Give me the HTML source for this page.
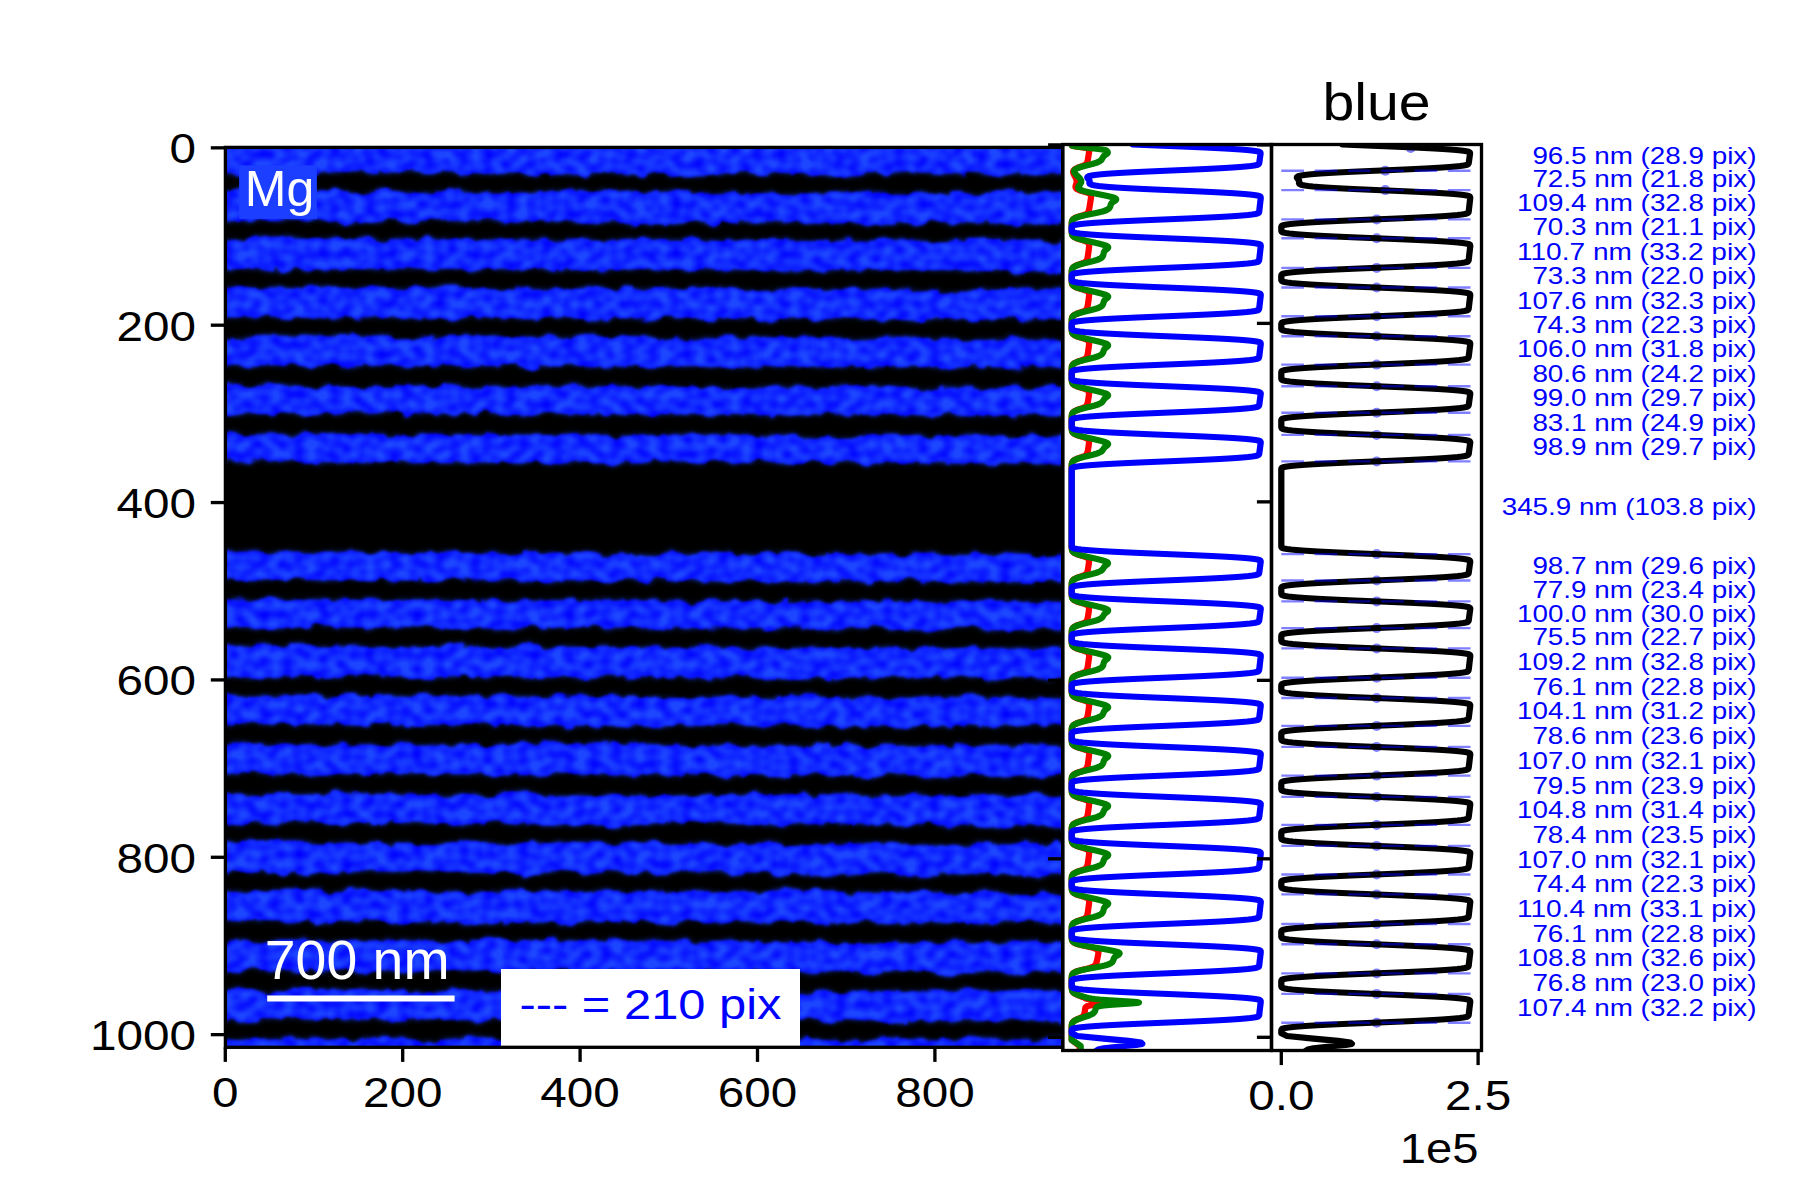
<!DOCTYPE html>
<html><head><meta charset="utf-8"><title>Mg line profile</title>
<style>html,body{margin:0;padding:0;background:#fff;overflow:hidden;width:1800px;height:1200px}svg{display:block}text{font-family:"Liberation Sans",sans-serif}</style></head><body>
<svg width="1800" height="1200" viewBox="0 0 1800 1200">
<rect width="1800" height="1200" fill="#fff"/>
<defs>
<clipPath id="cimg"><rect x="225.4" y="147.4" width="837.3000000000001" height="899.9"/></clipPath>
<clipPath id="cmid"><rect x="1062.7" y="144.5" width="208.79999999999995" height="906.0"/></clipPath>
<clipPath id="crt"><rect x="1271.5" y="144.5" width="210.0" height="906.0"/></clipPath>
<filter id="tex" filterUnits="userSpaceOnUse" x="180" y="120" width="930" height="960" color-interpolation-filters="sRGB">
<feTurbulence type="fractalNoise" baseFrequency="0.05 0.06" numOctaves="3" seed="5" result="d"/>
<feDisplacementMap in="SourceGraphic" in2="d" scale="13" xChannelSelector="R" yChannelSelector="G" result="w"/>
<feGaussianBlur in="w" stdDeviation="0.9" result="wb"/>
<feTurbulence type="fractalNoise" baseFrequency="0.085 0.10" numOctaves="1" seed="12" result="t"/>
<feColorMatrix in="t" type="matrix" values="0 0 0 0 0.115  0 0 0 0 0.28  0 0 0 0 1  1.8 0 0 0 -0.28" result="tl"/>
<feGaussianBlur in="wb" stdDeviation="2.5" result="wb2"/>
<feComposite in="tl" in2="wb2" operator="in" result="hl"/>
<feMerge><feMergeNode in="wb"/><feMergeNode in="hl"/></feMerge>
</filter>
</defs>
<rect x="225.4" y="147.4" width="837.3000000000001" height="899.9" fill="#000"/>
<g clip-path="url(#cimg)"><g filter="url(#tex)" fill="#0000ff">
<polygon points="190,115.5 1100,117.9 1100,174.8 190,172.4"/>
<polygon points="190,190.9 1100,193.3 1100,223.2 190,220.8"/>
<polygon points="190,238.7 1100,241.1 1100,271.3 190,268.9"/>
<polygon points="190,287.7 1100,290.1 1100,319.5 190,317.1"/>
<polygon points="190,336.1 1100,338.5 1100,367.5 190,365.1"/>
<polygon points="190,385.7 1100,388.1 1100,415.3 190,412.9"/>
<polygon points="190,434.2 1100,436.6 1100,463.7 190,461.3"/>
<polygon points="190,552.5 1100,554.9 1100,582.0 190,579.6"/>
<polygon points="190,599.5 1100,601.9 1100,629.3 190,626.9"/>
<polygon points="190,646.3 1100,648.7 1100,678.6 190,676.2"/>
<polygon points="190,695.6 1100,698.0 1100,726.5 190,724.1"/>
<polygon points="190,744.2 1100,746.6 1100,775.8 190,773.4"/>
<polygon points="190,793.8 1100,796.2 1100,824.9 190,822.5"/>
<polygon points="190,842.5 1100,844.9 1100,874.2 190,871.8"/>
<polygon points="190,890.8 1100,893.2 1100,923.3 190,920.9"/>
<polygon points="190,940.3 1100,942.7 1100,972.4 190,970.0"/>
<polygon points="190,989.6 1100,992.0 1100,1021.4 190,1019.0"/>
<rect x="190" y="1039.5" width="910" height="60"/>
</g></g>
<rect x="239.1" y="165.3" width="77.8" height="53.6" fill="#1b3eff"/>
<text x="244.8" y="206.1" font-size="50.00" text-anchor="start" fill="#fff">Mg</text>
<text x="264.8" y="979.0" font-size="55.40" text-anchor="start" fill="#fff">700 nm</text>
<rect x="267.2" y="995.5" width="187.4" height="6" fill="#fff"/>
<rect x="501" y="969" width="299" height="78" fill="#fff"/>
<text x="519.5" y="1019.2" font-size="43.34" text-anchor="start" fill="#0000ff" textLength="262.0" lengthAdjust="spacingAndGlyphs">--- = 210 pix</text>
<rect x="1062.7" y="144.5" width="418.79999999999995" height="906.0" fill="#fff"/>
<g clip-path="url(#cmid)" fill="none" stroke-linejoin="round" stroke-linecap="round" stroke-width="6.25">
<path d="M1071.7,144.5 L1071.7,145.0 L1071.8,145.5 L1073.2,146.0 L1075.7,146.5 L1079.1,147.0 L1082.8,147.5 L1085.9,148.0 L1087.9,148.5 L1088.8,149.0 L1089.2,149.5 L1089.3,150.0 L1089.3,150.5 L1089.2,151.0 L1089.2,151.5 L1089.1,152.0 L1089.0,152.5 L1088.9,153.0 L1088.9,153.5 L1088.8,154.0 L1088.7,154.5 L1088.6,155.0 L1088.5,155.5 L1088.5,156.0 L1088.4,156.5 L1088.3,157.0 L1088.2,157.5 L1088.1,158.0 L1088.1,158.5 L1088.0,159.0 L1087.9,159.5 L1087.8,160.0 L1087.7,160.5 L1087.6,161.0 L1087.4,161.5 L1087.3,162.0 L1087.1,162.5 L1086.8,163.0 L1086.5,163.5 L1086.1,164.0 L1085.6,164.5 L1084.8,165.0 L1083.9,165.5 L1082.7,166.0 L1081.3,166.5 L1079.9,167.0 L1078.5,167.5 L1077.2,168.0 L1076.1,168.5 L1075.2,169.0 L1074.5,169.5 L1074.0,170.0 L1073.6,170.5 L1073.3,171.0 L1073.2,171.5 L1073.2,172.0 L1073.2,172.5 L1073.4,173.0 L1073.5,173.5 L1073.7,174.0 L1074.0,174.5 L1074.2,175.0 L1074.5,175.5 L1074.7,176.0 L1075.0,176.5 L1075.3,177.0 L1075.5,177.5 L1075.8,178.0 L1076.0,178.5 L1076.2,179.0 L1076.4,179.5 L1076.5,180.0 L1076.6,180.5 L1076.7,181.0 L1076.7,181.5 L1076.7,182.0 L1076.6,182.5 L1076.5,183.0 L1076.4,183.5 L1076.3,184.0 L1076.1,184.5 L1075.9,185.0 L1075.7,185.5 L1075.6,186.0 L1075.5,186.5 L1075.5,187.0 L1075.6,187.5 L1075.9,188.0 L1076.3,188.5 L1076.9,189.0 L1077.8,189.5 L1078.9,190.0 L1080.2,190.5 L1081.8,191.0 L1083.6,191.5 L1085.4,192.0 L1087.0,192.5 L1088.4,193.0 L1089.4,193.5 L1090.1,194.0 L1090.6,194.5 L1090.8,195.0 L1091.0,195.5 L1091.0,196.0 L1091.0,196.5 L1091.0,197.0 L1091.0,197.5 L1090.9,198.0 L1090.9,198.5 L1090.8,199.0 L1090.7,199.5 L1090.6,200.0 L1090.6,200.5 L1090.5,201.0 L1090.4,201.5 L1090.3,202.0 L1090.3,202.5 L1090.2,203.0 L1090.1,203.5 L1090.0,204.0 L1089.9,204.5 L1089.9,205.0 L1089.8,205.5 L1089.7,206.0 L1089.6,206.5 L1089.5,207.0 L1089.5,207.5 L1089.4,208.0 L1089.3,208.5 L1089.2,209.0 L1089.1,209.5 L1089.0,210.0 L1088.9,210.5 L1088.7,211.0 L1088.5,211.5 L1088.3,212.0 L1088.0,212.5 L1087.7,213.0 L1087.1,213.5 L1086.4,214.0 L1085.3,214.5 L1084.0,215.0 L1082.4,215.5 L1080.7,216.0 L1079.0,216.5 L1077.5,217.0 L1076.2,217.5 L1075.0,218.0 L1074.2,218.5 L1073.5,219.0 L1072.9,219.5 L1072.5,220.0 L1072.3,220.5 L1072.1,221.0 L1071.9,221.5 L1071.8,222.0 L1071.8,222.5 L1071.8,223.0 L1071.7,223.5 L1071.7,224.0 L1071.7,224.5 L1071.7,225.0 L1071.7,225.5 L1071.7,226.0 L1071.7,226.5 L1071.7,227.0 L1071.7,227.5 L1071.7,228.0 L1071.7,228.5 L1071.7,229.0 L1071.7,229.5 L1071.7,230.0 L1071.7,230.5 L1071.7,231.0 L1071.7,231.5 L1071.7,232.0 L1071.8,232.5 L1071.8,233.0 L1071.9,233.5 L1072.0,234.0 L1072.1,234.5 L1072.3,235.0 L1072.6,235.5 L1073.0,236.0 L1073.5,236.5 L1074.2,237.0 L1075.1,237.5 L1076.1,238.0 L1077.4,238.5 L1078.8,239.0 L1080.4,239.5 L1082.1,240.0 L1083.7,240.5 L1085.2,241.0 L1086.4,241.5 L1087.4,242.0 L1088.0,242.5 L1088.5,243.0 L1088.8,243.5 L1089.0,244.0 L1089.1,244.5 L1089.1,245.0 L1089.1,245.5 L1089.1,246.0 L1089.1,246.5 L1089.1,247.0 L1089.0,247.5 L1088.9,248.0 L1088.9,248.5 L1088.8,249.0 L1088.8,249.5 L1088.7,250.0 L1088.6,250.5 L1088.6,251.0 L1088.5,251.5 L1088.4,252.0 L1088.4,252.5 L1088.3,253.0 L1088.2,253.5 L1088.1,254.0 L1088.1,254.5 L1088.0,255.0 L1087.9,255.5 L1087.8,256.0 L1087.8,256.5 L1087.7,257.0 L1087.6,257.5 L1087.5,258.0 L1087.4,258.5 L1087.2,259.0 L1087.1,259.5 L1086.9,260.0 L1086.6,260.5 L1086.3,261.0 L1085.8,261.5 L1085.2,262.0 L1084.4,262.5 L1083.3,263.0 L1081.9,263.5 L1080.5,264.0 L1079.0,264.5 L1077.6,265.0 L1076.3,265.5 L1075.3,266.0 L1074.4,266.5 L1073.7,267.0 L1073.1,267.5 L1072.7,268.0 L1072.4,268.5 L1072.1,269.0 L1072.0,269.5 L1071.9,270.0 L1071.8,270.5 L1071.8,271.0 L1071.7,271.5 L1071.7,272.0 L1071.7,272.5 L1071.7,273.0 L1071.7,273.5 L1071.7,274.0 L1071.7,274.5 L1071.7,275.0 L1071.7,275.5 L1071.7,276.0 L1071.7,276.5 L1071.7,277.0 L1071.7,277.5 L1071.7,278.0 L1071.7,278.5 L1071.7,279.0 L1071.7,279.5 L1071.7,280.0 L1071.7,280.5 L1071.7,281.0 L1071.7,281.5 L1071.8,282.0 L1071.8,282.5 L1071.9,283.0 L1072.0,283.5 L1072.2,284.0 L1072.4,284.5 L1072.8,285.0 L1073.2,285.5 L1073.8,286.0 L1074.6,286.5 L1075.5,287.0 L1076.7,287.5 L1078.0,288.0 L1079.6,288.5 L1081.2,289.0 L1082.9,289.5 L1084.5,290.0 L1085.8,290.5 L1086.9,291.0 L1087.7,291.5 L1088.3,292.0 L1088.6,292.5 L1088.9,293.0 L1089.0,293.5 L1089.1,294.0 L1089.1,294.5 L1089.1,295.0 L1089.1,295.5 L1089.0,296.0 L1089.0,296.5 L1088.9,297.0 L1088.9,297.5 L1088.8,298.0 L1088.8,298.5 L1088.7,299.0 L1088.6,299.5 L1088.5,300.0 L1088.5,300.5 L1088.4,301.0 L1088.3,301.5 L1088.3,302.0 L1088.2,302.5 L1088.1,303.0 L1088.0,303.5 L1088.0,304.0 L1087.9,304.5 L1087.8,305.0 L1087.7,305.5 L1087.6,306.0 L1087.5,306.5 L1087.4,307.0 L1087.3,307.5 L1087.1,308.0 L1086.9,308.5 L1086.6,309.0 L1086.3,309.5 L1085.8,310.0 L1085.2,310.5 L1084.3,311.0 L1083.2,311.5 L1081.8,312.0 L1080.3,312.5 L1078.9,313.0 L1077.5,313.5 L1076.2,314.0 L1075.2,314.5 L1074.3,315.0 L1073.6,315.5 L1073.1,316.0 L1072.7,316.5 L1072.3,317.0 L1072.1,317.5 L1072.0,318.0 L1071.9,318.5 L1071.8,319.0 L1071.8,319.5 L1071.7,320.0 L1071.7,320.5 L1071.7,321.0 L1071.7,321.5 L1071.7,322.0 L1071.7,322.5 L1071.7,323.0 L1071.7,323.5 L1071.7,324.0 L1071.7,324.5 L1071.7,325.0 L1071.7,325.5 L1071.7,326.0 L1071.7,326.5 L1071.7,327.0 L1071.7,327.5 L1071.7,328.0 L1071.7,328.5 L1071.7,329.0 L1071.7,329.5 L1071.7,330.0 L1071.8,330.5 L1071.8,331.0 L1071.9,331.5 L1072.0,332.0 L1072.1,332.5 L1072.3,333.0 L1072.6,333.5 L1073.0,334.0 L1073.5,334.5 L1074.2,335.0 L1075.1,335.5 L1076.1,336.0 L1077.4,336.5 L1078.9,337.0 L1080.5,337.5 L1082.1,338.0 L1083.8,338.5 L1085.2,339.0 L1086.5,339.5 L1087.4,340.0 L1088.0,340.5 L1088.5,341.0 L1088.8,341.5 L1088.9,342.0 L1089.0,342.5 L1089.1,343.0 L1089.1,343.5 L1089.1,344.0 L1089.0,344.5 L1089.0,345.0 L1088.9,345.5 L1088.9,346.0 L1088.8,346.5 L1088.8,347.0 L1088.7,347.5 L1088.6,348.0 L1088.5,348.5 L1088.5,349.0 L1088.4,349.5 L1088.3,350.0 L1088.3,350.5 L1088.2,351.0 L1088.1,351.5 L1088.0,352.0 L1088.0,352.5 L1087.9,353.0 L1087.8,353.5 L1087.7,354.0 L1087.6,354.5 L1087.5,355.0 L1087.4,355.5 L1087.2,356.0 L1087.0,356.5 L1086.8,357.0 L1086.5,357.5 L1086.1,358.0 L1085.6,358.5 L1084.8,359.0 L1083.8,359.5 L1082.6,360.0 L1081.2,360.5 L1079.7,361.0 L1078.2,361.5 L1076.9,362.0 L1075.8,362.5 L1074.8,363.0 L1074.0,363.5 L1073.4,364.0 L1072.9,364.5 L1072.5,365.0 L1072.2,365.5 L1072.1,366.0 L1071.9,366.5 L1071.8,367.0 L1071.8,367.5 L1071.8,368.0 L1071.7,368.5 L1071.7,369.0 L1071.7,369.5 L1071.7,370.0 L1071.7,370.5 L1071.7,371.0 L1071.7,371.5 L1071.7,372.0 L1071.7,372.5 L1071.7,373.0 L1071.7,373.5 L1071.7,374.0 L1071.7,374.5 L1071.7,375.0 L1071.7,375.5 L1071.7,376.0 L1071.7,376.5 L1071.7,377.0 L1071.7,377.5 L1071.7,378.0 L1071.7,378.5 L1071.7,379.0 L1071.7,379.5 L1071.7,380.0 L1071.8,380.5 L1071.8,381.0 L1071.9,381.5 L1072.0,382.0 L1072.1,382.5 L1072.3,383.0 L1072.6,383.5 L1073.0,384.0 L1073.6,384.5 L1074.3,385.0 L1075.1,385.5 L1076.2,386.0 L1077.5,386.5 L1078.9,387.0 L1080.5,387.5 L1082.2,388.0 L1083.8,388.5 L1085.3,389.0 L1086.5,389.5 L1087.4,390.0 L1088.0,390.5 L1088.5,391.0 L1088.7,391.5 L1088.9,392.0 L1089.0,392.5 L1089.0,393.0 L1089.0,393.5 L1089.0,394.0 L1089.0,394.5 L1088.9,395.0 L1088.9,395.5 L1088.8,396.0 L1088.7,396.5 L1088.6,397.0 L1088.6,397.5 L1088.5,398.0 L1088.4,398.5 L1088.3,399.0 L1088.3,399.5 L1088.2,400.0 L1088.1,400.5 L1088.0,401.0 L1087.9,401.5 L1087.8,402.0 L1087.7,402.5 L1087.6,403.0 L1087.5,403.5 L1087.3,404.0 L1087.1,404.5 L1086.9,405.0 L1086.6,405.5 L1086.3,406.0 L1085.7,406.5 L1085.0,407.0 L1084.1,407.5 L1082.9,408.0 L1081.5,408.5 L1080.0,409.0 L1078.5,409.5 L1077.2,410.0 L1076.0,410.5 L1075.0,411.0 L1074.1,411.5 L1073.5,412.0 L1073.0,412.5 L1072.6,413.0 L1072.3,413.5 L1072.1,414.0 L1072.0,414.5 L1071.9,415.0 L1071.8,415.5 L1071.8,416.0 L1071.7,416.5 L1071.7,417.0 L1071.7,417.5 L1071.7,418.0 L1071.7,418.5 L1071.7,419.0 L1071.7,419.5 L1071.7,420.0 L1071.7,420.5 L1071.7,421.0 L1071.7,421.5 L1071.7,422.0 L1071.7,422.5 L1071.7,423.0 L1071.7,423.5 L1071.7,424.0 L1071.7,424.5 L1071.7,425.0 L1071.7,425.5 L1071.7,426.0 L1071.7,426.5 L1071.7,427.0 L1071.7,427.5 L1071.7,428.0 L1071.7,428.5 L1071.7,429.0 L1071.8,429.5 L1071.8,430.0 L1071.9,430.5 L1072.0,431.0 L1072.2,431.5 L1072.5,432.0 L1072.8,432.5 L1073.3,433.0 L1073.9,433.5 L1074.7,434.0 L1075.7,434.5 L1076.9,435.0 L1078.3,435.5 L1079.8,436.0 L1081.4,436.5 L1083.1,437.0 L1084.7,437.5 L1086.0,438.0 L1087.0,438.5 L1087.8,439.0 L1088.3,439.5 L1088.6,440.0 L1088.8,440.5 L1088.9,441.0 L1089.0,441.5 L1089.0,442.0 L1089.0,442.5 L1089.0,443.0 L1088.9,443.5 L1088.9,444.0 L1088.8,444.5 L1088.7,445.0 L1088.7,445.5 L1088.6,446.0 L1088.5,446.5 L1088.5,447.0 L1088.4,447.5 L1088.3,448.0 L1088.2,448.5 L1088.1,449.0 L1088.1,449.5 L1088.0,450.0 L1087.9,450.5 L1087.8,451.0 L1087.7,451.5 L1087.5,452.0 L1087.4,452.5 L1087.2,453.0 L1087.0,453.5 L1086.8,454.0 L1086.4,454.5 L1086.0,455.0 L1085.4,455.5 L1084.5,456.0 L1083.4,456.5 L1082.1,457.0 L1080.7,457.5 L1079.2,458.0 L1077.8,458.5 L1076.5,459.0 L1075.4,459.5 L1074.5,460.0 L1073.7,460.5 L1073.2,461.0 L1072.7,461.5 L1072.4,462.0 L1072.2,462.5 L1072.0,463.0 L1071.9,463.5 L1071.8,464.0 L1071.8,464.5 L1071.7,465.0 L1071.7,465.5 L1071.7,466.0 L1071.7,466.5 L1071.7,467.0 L1071.7,467.5 L1071.7,468.0 L1071.7,468.5 L1071.7,469.0 L1071.7,469.5 L1071.7,470.0 L1071.7,470.5 L1071.7,471.0 L1071.7,471.5 L1071.7,472.0 L1071.7,472.5 L1071.7,473.0 L1071.7,473.5 L1071.7,474.0 L1071.7,474.5 L1071.7,475.0 L1071.7,475.5 L1071.7,476.0 L1071.7,476.5 L1071.7,477.0 L1071.7,477.5 L1071.7,478.0 L1071.7,478.5 L1071.7,479.0 L1071.7,479.5 L1071.7,480.0 L1071.7,480.5 L1071.7,481.0 L1071.7,481.5 L1071.7,482.0 L1071.7,482.5 L1071.7,483.0 L1071.7,483.5 L1071.7,484.0 L1071.7,484.5 L1071.7,485.0 L1071.7,485.5 L1071.7,486.0 L1071.7,486.5 L1071.7,487.0 L1071.7,487.5 L1071.7,488.0 L1071.7,488.5 L1071.7,489.0 L1071.7,489.5 L1071.7,490.0 L1071.7,490.5 L1071.7,491.0 L1071.7,491.5 L1071.7,492.0 L1071.7,492.5 L1071.7,493.0 L1071.7,493.5 L1071.7,494.0 L1071.7,494.5 L1071.7,495.0 L1071.7,495.5 L1071.7,496.0 L1071.7,496.5 L1071.7,497.0 L1071.7,497.5 L1071.7,498.0 L1071.7,498.5 L1071.7,499.0 L1071.7,499.5 L1071.7,500.0 L1071.7,500.5 L1071.7,501.0 L1071.7,501.5 L1071.7,502.0 L1071.7,502.5 L1071.7,503.0 L1071.7,503.5 L1071.7,504.0 L1071.7,504.5 L1071.7,505.0 L1071.7,505.5 L1071.7,506.0 L1071.7,506.5 L1071.7,507.0 L1071.7,507.5 L1071.7,508.0 L1071.7,508.5 L1071.7,509.0 L1071.7,509.5 L1071.7,510.0 L1071.7,510.5 L1071.7,511.0 L1071.7,511.5 L1071.7,512.0 L1071.7,512.5 L1071.7,513.0 L1071.7,513.5 L1071.7,514.0 L1071.7,514.5 L1071.7,515.0 L1071.7,515.5 L1071.7,516.0 L1071.7,516.5 L1071.7,517.0 L1071.7,517.5 L1071.7,518.0 L1071.7,518.5 L1071.7,519.0 L1071.7,519.5 L1071.7,520.0 L1071.7,520.5 L1071.7,521.0 L1071.7,521.5 L1071.7,522.0 L1071.7,522.5 L1071.7,523.0 L1071.7,523.5 L1071.7,524.0 L1071.7,524.5 L1071.7,525.0 L1071.7,525.5 L1071.7,526.0 L1071.7,526.5 L1071.7,527.0 L1071.7,527.5 L1071.7,528.0 L1071.7,528.5 L1071.7,529.0 L1071.7,529.5 L1071.7,530.0 L1071.7,530.5 L1071.7,531.0 L1071.7,531.5 L1071.7,532.0 L1071.7,532.5 L1071.7,533.0 L1071.7,533.5 L1071.7,534.0 L1071.7,534.5 L1071.7,535.0 L1071.7,535.5 L1071.7,536.0 L1071.7,536.5 L1071.7,537.0 L1071.7,537.5 L1071.7,538.0 L1071.7,538.5 L1071.7,539.0 L1071.7,539.5 L1071.7,540.0 L1071.7,540.5 L1071.7,541.0 L1071.7,541.5 L1071.7,542.0 L1071.7,542.5 L1071.7,543.0 L1071.7,543.5 L1071.7,544.0 L1071.7,544.5 L1071.7,545.0 L1071.7,545.5 L1071.7,546.0 L1071.7,546.5 L1071.7,547.0 L1071.7,547.5 L1071.7,548.0 L1071.8,548.5 L1071.8,549.0 L1071.9,549.5 L1072.0,550.0 L1072.2,550.5 L1072.4,551.0 L1072.7,551.5 L1073.2,552.0 L1073.7,552.5 L1074.5,553.0 L1075.4,553.5 L1076.5,554.0 L1077.9,554.5 L1079.4,555.0 L1081.0,555.5 L1082.7,556.0 L1084.3,556.5 L1085.7,557.0 L1086.8,557.5 L1087.6,558.0 L1088.2,558.5 L1088.5,559.0 L1088.8,559.5 L1088.9,560.0 L1089.0,560.5 L1089.0,561.0 L1089.0,561.5 L1089.0,562.0 L1088.9,562.5 L1088.9,563.0 L1088.8,563.5 L1088.8,564.0 L1088.7,564.5 L1088.6,565.0 L1088.5,565.5 L1088.5,566.0 L1088.4,566.5 L1088.3,567.0 L1088.2,567.5 L1088.1,568.0 L1088.1,568.5 L1088.0,569.0 L1087.9,569.5 L1087.8,570.0 L1087.7,570.5 L1087.6,571.0 L1087.4,571.5 L1087.3,572.0 L1087.1,572.5 L1086.8,573.0 L1086.5,573.5 L1086.0,574.0 L1085.4,574.5 L1084.6,575.0 L1083.6,575.5 L1082.3,576.0 L1080.8,576.5 L1079.3,577.0 L1077.9,577.5 L1076.6,578.0 L1075.5,578.5 L1074.6,579.0 L1073.8,579.5 L1073.2,580.0 L1072.8,580.5 L1072.4,581.0 L1072.2,581.5 L1072.0,582.0 L1071.9,582.5 L1071.8,583.0 L1071.8,583.5 L1071.7,584.0 L1071.7,584.5 L1071.7,585.0 L1071.7,585.5 L1071.7,586.0 L1071.7,586.5 L1071.7,587.0 L1071.7,587.5 L1071.7,588.0 L1071.7,588.5 L1071.7,589.0 L1071.7,589.5 L1071.7,590.0 L1071.7,590.5 L1071.7,591.0 L1071.7,591.5 L1071.7,592.0 L1071.7,592.5 L1071.7,593.0 L1071.7,593.5 L1071.7,594.0 L1071.7,594.5 L1071.7,595.0 L1071.8,595.5 L1071.8,596.0 L1071.8,596.5 L1071.9,597.0 L1072.1,597.5 L1072.2,598.0 L1072.5,598.5 L1072.9,599.0 L1073.4,599.5 L1074.0,600.0 L1074.8,600.5 L1075.8,601.0 L1077.1,601.5 L1078.5,602.0 L1080.0,602.5 L1081.7,603.0 L1083.3,603.5 L1084.9,604.0 L1086.1,604.5 L1087.1,605.0 L1087.9,605.5 L1088.4,606.0 L1088.7,606.5 L1088.9,607.0 L1089.0,607.5 L1089.0,608.0 L1089.0,608.5 L1089.0,609.0 L1089.0,609.5 L1088.9,610.0 L1088.9,610.5 L1088.8,611.0 L1088.8,611.5 L1088.7,612.0 L1088.6,612.5 L1088.5,613.0 L1088.5,613.5 L1088.4,614.0 L1088.3,614.5 L1088.2,615.0 L1088.1,615.5 L1088.1,616.0 L1088.0,616.5 L1087.9,617.0 L1087.8,617.5 L1087.7,618.0 L1087.6,618.5 L1087.4,619.0 L1087.3,619.5 L1087.1,620.0 L1086.9,620.5 L1086.6,621.0 L1086.2,621.5 L1085.6,622.0 L1084.9,622.5 L1083.9,623.0 L1082.7,623.5 L1081.3,624.0 L1079.8,624.5 L1078.3,625.0 L1077.0,625.5 L1075.8,626.0 L1074.8,626.5 L1074.0,627.0 L1073.4,627.5 L1072.9,628.0 L1072.5,628.5 L1072.3,629.0 L1072.1,629.5 L1071.9,630.0 L1071.8,630.5 L1071.8,631.0 L1071.8,631.5 L1071.7,632.0 L1071.7,632.5 L1071.7,633.0 L1071.7,633.5 L1071.7,634.0 L1071.7,634.5 L1071.7,635.0 L1071.7,635.5 L1071.7,636.0 L1071.7,636.5 L1071.7,637.0 L1071.7,637.5 L1071.7,638.0 L1071.7,638.5 L1071.7,639.0 L1071.7,639.5 L1071.7,640.0 L1071.7,640.5 L1071.7,641.0 L1071.7,641.5 L1071.7,642.0 L1071.7,642.5 L1071.8,643.0 L1071.8,643.5 L1071.9,644.0 L1072.0,644.5 L1072.2,645.0 L1072.5,645.5 L1072.9,646.0 L1073.3,646.5 L1074.0,647.0 L1074.8,647.5 L1075.8,648.0 L1077.0,648.5 L1078.4,649.0 L1079.9,649.5 L1081.6,650.0 L1083.2,650.5 L1084.8,651.0 L1086.1,651.5 L1087.1,652.0 L1087.9,652.5 L1088.4,653.0 L1088.7,653.5 L1088.9,654.0 L1089.0,654.5 L1089.1,655.0 L1089.1,655.5 L1089.1,656.0 L1089.1,656.5 L1089.1,657.0 L1089.0,657.5 L1088.9,658.0 L1088.9,658.5 L1088.8,659.0 L1088.8,659.5 L1088.7,660.0 L1088.6,660.5 L1088.6,661.0 L1088.5,661.5 L1088.4,662.0 L1088.3,662.5 L1088.3,663.0 L1088.2,663.5 L1088.1,664.0 L1088.1,664.5 L1088.0,665.0 L1087.9,665.5 L1087.8,666.0 L1087.8,666.5 L1087.7,667.0 L1087.6,667.5 L1087.5,668.0 L1087.3,668.5 L1087.2,669.0 L1087.0,669.5 L1086.8,670.0 L1086.5,670.5 L1086.1,671.0 L1085.6,671.5 L1084.9,672.0 L1083.9,672.5 L1082.7,673.0 L1081.3,673.5 L1079.8,674.0 L1078.4,674.5 L1077.0,675.0 L1075.9,675.5 L1074.9,676.0 L1074.1,676.5 L1073.4,677.0 L1072.9,677.5 L1072.5,678.0 L1072.3,678.5 L1072.1,679.0 L1071.9,679.5 L1071.9,680.0 L1071.8,680.5 L1071.8,681.0 L1071.7,681.5 L1071.7,682.0 L1071.7,682.5 L1071.7,683.0 L1071.7,683.5 L1071.7,684.0 L1071.7,684.5 L1071.7,685.0 L1071.7,685.5 L1071.7,686.0 L1071.7,686.5 L1071.7,687.0 L1071.7,687.5 L1071.7,688.0 L1071.7,688.5 L1071.7,689.0 L1071.7,689.5 L1071.7,690.0 L1071.7,690.5 L1071.7,691.0 L1071.7,691.5 L1071.7,692.0 L1071.8,692.5 L1071.8,693.0 L1071.9,693.5 L1072.0,694.0 L1072.2,694.5 L1072.4,695.0 L1072.8,695.5 L1073.2,696.0 L1073.8,696.5 L1074.6,697.0 L1075.5,697.5 L1076.7,698.0 L1078.0,698.5 L1079.5,699.0 L1081.2,699.5 L1082.9,700.0 L1084.4,700.5 L1085.8,701.0 L1086.9,701.5 L1087.7,702.0 L1088.3,702.5 L1088.6,703.0 L1088.8,703.5 L1089.0,704.0 L1089.0,704.5 L1089.1,705.0 L1089.1,705.5 L1089.0,706.0 L1089.0,706.5 L1089.0,707.0 L1088.9,707.5 L1088.8,708.0 L1088.8,708.5 L1088.7,709.0 L1088.6,709.5 L1088.6,710.0 L1088.5,710.5 L1088.4,711.0 L1088.3,711.5 L1088.3,712.0 L1088.2,712.5 L1088.1,713.0 L1088.0,713.5 L1087.9,714.0 L1087.9,714.5 L1087.8,715.0 L1087.7,715.5 L1087.6,716.0 L1087.4,716.5 L1087.3,717.0 L1087.1,717.5 L1086.9,718.0 L1086.7,718.5 L1086.3,719.0 L1085.9,719.5 L1085.2,720.0 L1084.3,720.5 L1083.2,721.0 L1081.9,721.5 L1080.4,722.0 L1078.9,722.5 L1077.5,723.0 L1076.3,723.5 L1075.2,724.0 L1074.3,724.5 L1073.6,725.0 L1073.1,725.5 L1072.7,726.0 L1072.4,726.5 L1072.1,727.0 L1072.0,727.5 L1071.9,728.0 L1071.8,728.5 L1071.8,729.0 L1071.7,729.5 L1071.7,730.0 L1071.7,730.5 L1071.7,731.0 L1071.7,731.5 L1071.7,732.0 L1071.7,732.5 L1071.7,733.0 L1071.7,733.5 L1071.7,734.0 L1071.7,734.5 L1071.7,735.0 L1071.7,735.5 L1071.7,736.0 L1071.7,736.5 L1071.7,737.0 L1071.7,737.5 L1071.7,738.0 L1071.7,738.5 L1071.7,739.0 L1071.7,739.5 L1071.7,740.0 L1071.7,740.5 L1071.7,741.0 L1071.8,741.5 L1071.8,742.0 L1071.9,742.5 L1072.0,743.0 L1072.2,743.5 L1072.5,744.0 L1072.8,744.5 L1073.3,745.0 L1073.9,745.5 L1074.7,746.0 L1075.7,746.5 L1076.9,747.0 L1078.3,747.5 L1079.9,748.0 L1081.5,748.5 L1083.2,749.0 L1084.7,749.5 L1086.0,750.0 L1087.1,750.5 L1087.8,751.0 L1088.3,751.5 L1088.7,752.0 L1088.9,752.5 L1089.0,753.0 L1089.1,753.5 L1089.1,754.0 L1089.1,754.5 L1089.1,755.0 L1089.0,755.5 L1089.0,756.0 L1088.9,756.5 L1088.9,757.0 L1088.8,757.5 L1088.7,758.0 L1088.7,758.5 L1088.6,759.0 L1088.5,759.5 L1088.5,760.0 L1088.4,760.5 L1088.3,761.0 L1088.2,761.5 L1088.2,762.0 L1088.1,762.5 L1088.0,763.0 L1087.9,763.5 L1087.9,764.0 L1087.8,764.5 L1087.7,765.0 L1087.6,765.5 L1087.5,766.0 L1087.3,766.5 L1087.2,767.0 L1087.0,767.5 L1086.8,768.0 L1086.5,768.5 L1086.0,769.0 L1085.5,769.5 L1084.7,770.0 L1083.7,770.5 L1082.5,771.0 L1081.0,771.5 L1079.5,772.0 L1078.1,772.5 L1076.8,773.0 L1075.6,773.5 L1074.7,774.0 L1073.9,774.5 L1073.3,775.0 L1072.8,775.5 L1072.5,776.0 L1072.2,776.5 L1072.0,777.0 L1071.9,777.5 L1071.8,778.0 L1071.8,778.5 L1071.7,779.0 L1071.7,779.5 L1071.7,780.0 L1071.7,780.5 L1071.7,781.0 L1071.7,781.5 L1071.7,782.0 L1071.7,782.5 L1071.7,783.0 L1071.7,783.5 L1071.7,784.0 L1071.7,784.5 L1071.7,785.0 L1071.7,785.5 L1071.7,786.0 L1071.7,786.5 L1071.7,787.0 L1071.7,787.5 L1071.7,788.0 L1071.7,788.5 L1071.7,789.0 L1071.7,789.5 L1071.7,790.0 L1071.7,790.5 L1071.7,791.0 L1071.8,791.5 L1071.8,792.0 L1071.9,792.5 L1072.0,793.0 L1072.2,793.5 L1072.5,794.0 L1072.9,794.5 L1073.3,795.0 L1074.0,795.5 L1074.8,796.0 L1075.8,796.5 L1077.0,797.0 L1078.4,797.5 L1079.9,798.0 L1081.6,798.5 L1083.3,799.0 L1084.8,799.5 L1086.1,800.0 L1087.1,800.5 L1087.9,801.0 L1088.4,801.5 L1088.7,802.0 L1088.9,802.5 L1089.0,803.0 L1089.1,803.5 L1089.1,804.0 L1089.1,804.5 L1089.0,805.0 L1089.0,805.5 L1088.9,806.0 L1088.9,806.5 L1088.8,807.0 L1088.8,807.5 L1088.7,808.0 L1088.6,808.5 L1088.5,809.0 L1088.5,809.5 L1088.4,810.0 L1088.3,810.5 L1088.3,811.0 L1088.2,811.5 L1088.1,812.0 L1088.0,812.5 L1087.9,813.0 L1087.9,813.5 L1087.8,814.0 L1087.7,814.5 L1087.6,815.0 L1087.5,815.5 L1087.3,816.0 L1087.2,816.5 L1087.0,817.0 L1086.7,817.5 L1086.4,818.0 L1085.9,818.5 L1085.3,819.0 L1084.4,819.5 L1083.4,820.0 L1082.0,820.5 L1080.6,821.0 L1079.1,821.5 L1077.7,822.0 L1076.4,822.5 L1075.3,823.0 L1074.4,823.5 L1073.7,824.0 L1073.1,824.5 L1072.7,825.0 L1072.4,825.5 L1072.2,826.0 L1072.0,826.5 L1071.9,827.0 L1071.8,827.5 L1071.8,828.0 L1071.7,828.5 L1071.7,829.0 L1071.7,829.5 L1071.7,830.0 L1071.7,830.5 L1071.7,831.0 L1071.7,831.5 L1071.7,832.0 L1071.7,832.5 L1071.7,833.0 L1071.7,833.5 L1071.7,834.0 L1071.7,834.5 L1071.7,835.0 L1071.7,835.5 L1071.7,836.0 L1071.7,836.5 L1071.7,837.0 L1071.7,837.5 L1071.7,838.0 L1071.7,838.5 L1071.7,839.0 L1071.7,839.5 L1071.7,840.0 L1071.8,840.5 L1071.8,841.0 L1071.9,841.5 L1072.0,842.0 L1072.2,842.5 L1072.5,843.0 L1072.9,843.5 L1073.3,844.0 L1074.0,844.5 L1074.8,845.0 L1075.8,845.5 L1077.0,846.0 L1078.4,846.5 L1080.0,847.0 L1081.6,847.5 L1083.3,848.0 L1084.8,848.5 L1086.1,849.0 L1087.1,849.5 L1087.9,850.0 L1088.4,850.5 L1088.7,851.0 L1088.9,851.5 L1089.0,852.0 L1089.1,852.5 L1089.1,853.0 L1089.1,853.5 L1089.1,854.0 L1089.0,854.5 L1089.0,855.0 L1088.9,855.5 L1088.9,856.0 L1088.8,856.5 L1088.7,857.0 L1088.7,857.5 L1088.6,858.0 L1088.5,858.5 L1088.4,859.0 L1088.4,859.5 L1088.3,860.0 L1088.2,860.5 L1088.2,861.0 L1088.1,861.5 L1088.0,862.0 L1087.9,862.5 L1087.8,863.0 L1087.8,863.5 L1087.7,864.0 L1087.6,864.5 L1087.5,865.0 L1087.3,865.5 L1087.2,866.0 L1087.0,866.5 L1086.7,867.0 L1086.4,867.5 L1086.0,868.0 L1085.4,868.5 L1084.7,869.0 L1083.6,869.5 L1082.4,870.0 L1080.9,870.5 L1079.4,871.0 L1078.0,871.5 L1076.7,872.0 L1075.6,872.5 L1074.6,873.0 L1073.9,873.5 L1073.3,874.0 L1072.8,874.5 L1072.5,875.0 L1072.2,875.5 L1072.0,876.0 L1071.9,876.5 L1071.8,877.0 L1071.8,877.5 L1071.7,878.0 L1071.7,878.5 L1071.7,879.0 L1071.7,879.5 L1071.7,880.0 L1071.7,880.5 L1071.7,881.0 L1071.7,881.5 L1071.7,882.0 L1071.7,882.5 L1071.7,883.0 L1071.7,883.5 L1071.7,884.0 L1071.7,884.5 L1071.7,885.0 L1071.7,885.5 L1071.7,886.0 L1071.7,886.5 L1071.7,887.0 L1071.7,887.5 L1071.7,888.0 L1071.7,888.5 L1071.8,889.0 L1071.8,889.5 L1071.9,890.0 L1072.0,890.5 L1072.2,891.0 L1072.5,891.5 L1072.8,892.0 L1073.3,892.5 L1073.9,893.0 L1074.7,893.5 L1075.7,894.0 L1076.9,894.5 L1078.3,895.0 L1079.8,895.5 L1081.5,896.0 L1083.1,896.5 L1084.7,897.0 L1086.0,897.5 L1087.1,898.0 L1087.8,898.5 L1088.4,899.0 L1088.7,899.5 L1088.9,900.0 L1089.0,900.5 L1089.1,901.0 L1089.1,901.5 L1089.1,902.0 L1089.1,902.5 L1089.1,903.0 L1089.0,903.5 L1089.0,904.0 L1088.9,904.5 L1088.8,905.0 L1088.8,905.5 L1088.7,906.0 L1088.6,906.5 L1088.6,907.0 L1088.5,907.5 L1088.4,908.0 L1088.4,908.5 L1088.3,909.0 L1088.2,909.5 L1088.2,910.0 L1088.1,910.5 L1088.0,911.0 L1087.9,911.5 L1087.9,912.0 L1087.8,912.5 L1087.7,913.0 L1087.6,913.5 L1087.5,914.0 L1087.4,914.5 L1087.3,915.0 L1087.1,915.5 L1086.9,916.0 L1086.7,916.5 L1086.4,917.0 L1085.9,917.5 L1085.3,918.0 L1084.5,918.5 L1083.5,919.0 L1082.2,919.5 L1080.7,920.0 L1079.3,920.5 L1077.8,921.0 L1076.6,921.5 L1075.5,922.0 L1074.5,922.5 L1073.8,923.0 L1073.2,923.5 L1072.8,924.0 L1072.4,924.5 L1072.2,925.0 L1072.0,925.5 L1071.9,926.0 L1071.8,926.5 L1071.8,927.0 L1071.7,927.5 L1071.7,928.0 L1071.7,928.5 L1071.7,929.0 L1071.7,929.5 L1071.7,930.0 L1071.7,930.5 L1071.7,931.0 L1071.7,931.5 L1071.7,932.0 L1071.7,932.5 L1071.7,933.0 L1071.7,933.5 L1071.7,934.0 L1071.7,934.5 L1071.7,935.0 L1071.7,935.5 L1071.7,936.0 L1071.7,936.5 L1071.7,937.0 L1071.7,937.5 L1071.7,938.0 L1071.8,938.5 L1071.8,939.0 L1071.9,939.5 L1072.0,940.0 L1072.2,940.5 L1072.4,941.0 L1072.8,941.5 L1073.3,942.0 L1074.0,942.5 L1074.8,943.0 L1075.9,943.5 L1077.3,944.0 L1078.9,944.5 L1080.8,945.0 L1082.9,945.5 L1085.2,946.0 L1087.5,946.5 L1089.8,947.0 L1091.9,947.5 L1093.7,948.0 L1095.1,948.5 L1096.2,949.0 L1097.0,949.5 L1097.6,950.0 L1097.9,950.5 L1098.2,951.0 L1098.3,951.5 L1098.4,952.0 L1098.4,952.5 L1098.4,953.0 L1098.3,953.5 L1098.3,954.0 L1098.2,954.5 L1098.1,955.0 L1098.0,955.5 L1097.9,956.0 L1097.8,956.5 L1097.7,957.0 L1097.6,957.5 L1097.5,958.0 L1097.4,958.5 L1097.3,959.0 L1097.2,959.5 L1097.1,960.0 L1097.0,960.5 L1096.9,961.0 L1096.7,961.5 L1096.6,962.0 L1096.4,962.5 L1096.3,963.0 L1096.1,963.5 L1095.8,964.0 L1095.6,964.5 L1095.2,965.0 L1094.8,965.5 L1094.2,966.0 L1093.4,966.5 L1092.4,967.0 L1091.1,967.5 L1089.6,968.0 L1087.7,968.5 L1085.6,969.0 L1083.5,969.5 L1081.5,970.0 L1079.6,970.5 L1077.9,971.0 L1076.5,971.5 L1075.3,972.0 L1074.3,972.5 L1073.6,973.0 L1073.0,973.5 L1072.6,974.0 L1072.3,974.5 L1072.1,975.0 L1071.9,975.5 L1071.9,976.0 L1071.8,976.5 L1071.8,977.0 L1071.7,977.5 L1071.7,978.0 L1071.7,978.5 L1071.7,979.0 L1071.7,979.5 L1071.7,980.0 L1071.7,980.5 L1071.7,981.0 L1071.7,981.5 L1071.7,982.0 L1071.7,982.5 L1071.7,983.0 L1071.7,983.5 L1071.7,984.0 L1071.7,984.5 L1071.7,985.0 L1071.7,985.5 L1071.7,986.0 L1071.7,986.5 L1071.7,987.0 L1071.7,987.5 L1071.7,988.0 L1071.8,988.5 L1071.8,989.0 L1071.9,989.5 L1072.0,990.0 L1072.1,990.5 L1072.3,991.0 L1072.5,991.5 L1072.9,992.0 L1073.4,992.5 L1074.0,993.0 L1074.7,993.5 L1075.6,994.0 L1076.6,994.5 L1077.8,995.0 L1079.1,995.5 L1080.4,996.0 L1081.6,996.5 L1082.8,997.0 L1083.9,997.5 L1084.9,998.0 L1086.1,998.5 L1087.7,999.0 L1090.2,999.5 L1093.6,1000.0 L1098.1,1000.5 L1103.2,1001.0 L1108.0,1001.5 L1111.5,1002.0 L1112.8,1002.5 L1111.5,1003.0 L1107.9,1003.5 L1103.1,1004.0 L1098.0,1004.5 L1093.5,1005.0 L1090.2,1005.5 L1087.9,1006.0 L1086.6,1006.5 L1085.9,1007.0 L1085.5,1007.5 L1085.3,1008.0 L1085.2,1008.5 L1085.1,1009.0 L1085.1,1009.5 L1085.0,1010.0 L1084.9,1010.5 L1084.9,1011.0 L1084.8,1011.5 L1084.7,1012.0 L1084.6,1012.5 L1084.5,1013.0 L1084.4,1013.5 L1084.3,1014.0 L1084.1,1014.5 L1083.9,1015.0 L1083.6,1015.5 L1083.2,1016.0 L1082.7,1016.5 L1082.0,1017.0 L1081.2,1017.5 L1080.2,1018.0 L1079.0,1018.5 L1077.9,1019.0 L1076.7,1019.5 L1075.7,1020.0 L1074.8,1020.5 L1074.1,1021.0 L1073.5,1021.5 L1073.0,1022.0 L1072.6,1022.5 L1072.3,1023.0 L1072.1,1023.5 L1072.0,1024.0 L1071.9,1024.5 L1071.8,1025.0 L1071.8,1025.5 L1071.7,1026.0 L1071.7,1026.5 L1071.7,1027.0 L1071.7,1027.5 L1071.7,1028.0 L1071.7,1028.5 L1071.7,1029.0 L1071.7,1029.5 L1071.7,1030.0 L1071.7,1030.5 L1071.7,1031.0 L1071.7,1031.5 L1071.7,1032.0 L1071.7,1032.5 L1071.7,1033.0 L1071.7,1033.5 L1071.7,1034.0 L1071.7,1034.5 L1071.7,1035.0 L1071.7,1035.5 L1071.7,1036.0 L1071.7,1036.5 L1071.7,1037.0 L1071.7,1037.5 L1071.7,1038.0 L1071.7,1038.5 L1071.7,1039.0 L1071.7,1039.5 L1071.7,1040.0 L1072.4,1040.5 L1073.0,1041.0 L1073.7,1041.5 L1074.4,1042.0 L1075.0,1042.5 L1075.7,1043.0 L1076.4,1043.5 L1077.0,1044.0 L1077.7,1044.5 L1078.4,1045.0 L1079.0,1045.5 L1079.7,1046.0 L1079.7,1046.5 L1079.7,1047.0 L1079.7,1047.5 L1079.7,1048.0 L1079.7,1048.5 L1079.7,1049.0 L1079.7,1049.5 L1079.7,1050.0 L1079.7,1050.5 L1079.7,1051.0 L1079.7,1051.5" stroke="#ff0000"/>
<path d="M1071.7,144.5 L1071.7,145.0 L1071.8,145.5 L1073.3,146.0 L1076.0,146.5 L1079.8,147.0 L1084.3,147.5 L1089.0,148.0 L1093.8,148.5 L1098.2,149.0 L1102.0,149.5 L1104.8,150.0 L1106.2,150.5 L1106.8,151.0 L1107.3,151.5 L1107.7,152.0 L1107.8,152.5 L1107.6,153.0 L1107.2,153.5 L1106.6,154.0 L1105.9,154.5 L1105.2,155.0 L1104.5,155.5 L1103.9,156.0 L1103.5,156.5 L1103.1,157.0 L1102.8,157.5 L1102.5,158.0 L1102.3,158.5 L1102.0,159.0 L1101.7,159.5 L1101.3,160.0 L1100.7,160.5 L1100.0,161.0 L1099.2,161.5 L1098.2,162.0 L1096.9,162.5 L1095.5,163.0 L1093.9,163.5 L1092.2,164.0 L1090.3,164.5 L1088.3,165.0 L1086.3,165.5 L1084.4,166.0 L1082.5,166.5 L1080.8,167.0 L1079.2,167.5 L1077.8,168.0 L1076.7,168.5 L1075.8,169.0 L1075.1,169.5 L1074.6,170.0 L1074.3,170.5 L1074.1,171.0 L1074.1,171.5 L1074.2,172.0 L1074.4,172.5 L1074.7,173.0 L1075.1,173.5 L1075.5,174.0 L1076.0,174.5 L1076.4,175.0 L1077.0,175.5 L1077.5,176.0 L1078.0,176.5 L1078.5,177.0 L1079.0,177.5 L1079.5,178.0 L1079.9,178.5 L1080.3,179.0 L1080.6,179.5 L1080.9,180.0 L1081.0,180.5 L1081.2,181.0 L1081.2,181.5 L1081.2,182.0 L1081.1,182.5 L1080.9,183.0 L1080.6,183.5 L1080.3,184.0 L1080.0,184.5 L1079.6,185.0 L1079.2,185.5 L1078.9,186.0 L1078.5,186.5 L1078.3,187.0 L1078.2,187.5 L1078.2,188.0 L1078.5,188.5 L1078.9,189.0 L1079.6,189.5 L1080.7,190.0 L1082.0,190.5 L1083.6,191.0 L1085.5,191.5 L1087.7,192.0 L1090.0,192.5 L1092.5,193.0 L1095.0,193.5 L1097.6,194.0 L1100.2,194.5 L1102.6,195.0 L1105.0,195.5 L1107.4,196.0 L1109.5,196.5 L1111.5,197.0 L1113.3,197.5 L1114.7,198.0 L1115.6,198.5 L1116.1,199.0 L1116.2,199.5 L1115.8,200.0 L1115.2,200.5 L1114.4,201.0 L1113.6,201.5 L1112.8,202.0 L1112.2,202.5 L1111.7,203.0 L1111.3,203.5 L1111.0,204.0 L1110.8,204.5 L1110.7,205.0 L1110.5,205.5 L1110.4,206.0 L1110.2,206.5 L1110.0,207.0 L1109.7,207.5 L1109.4,208.0 L1108.9,208.5 L1108.3,209.0 L1107.6,209.5 L1106.6,210.0 L1105.4,210.5 L1104.0,211.0 L1102.4,211.5 L1100.4,212.0 L1098.3,212.5 L1096.0,213.0 L1093.6,213.5 L1091.0,214.0 L1088.5,214.5 L1086.1,215.0 L1083.7,215.5 L1081.6,216.0 L1079.6,216.5 L1077.9,217.0 L1076.5,217.5 L1075.3,218.0 L1074.3,218.5 L1073.6,219.0 L1073.0,219.5 L1072.6,220.0 L1072.3,220.5 L1072.1,221.0 L1072.0,221.5 L1071.9,222.0 L1071.8,222.5 L1071.8,223.0 L1071.7,223.5 L1071.7,224.0 L1071.7,224.5 L1071.7,225.0 L1071.7,225.5 L1071.7,226.0 L1071.7,226.5 L1071.7,227.0 L1071.7,227.5 L1071.7,228.0 L1071.7,228.5 L1071.7,229.0 L1071.7,229.5 L1071.7,230.0 L1071.7,230.5 L1071.7,231.0 L1071.7,231.5 L1071.7,232.0 L1071.8,232.5 L1071.8,233.0 L1071.9,233.5 L1072.0,234.0 L1072.1,234.5 L1072.3,235.0 L1072.7,235.5 L1073.1,236.0 L1073.6,236.5 L1074.4,237.0 L1075.3,237.5 L1076.4,238.0 L1077.8,238.5 L1079.4,239.0 L1081.2,239.5 L1083.1,240.0 L1085.2,240.5 L1087.4,241.0 L1089.7,241.5 L1091.9,242.0 L1094.1,242.5 L1096.3,243.0 L1098.4,243.5 L1100.3,244.0 L1102.2,244.5 L1103.9,245.0 L1105.4,245.5 L1106.7,246.0 L1107.6,246.5 L1108.1,247.0 L1108.2,247.5 L1108.0,248.0 L1107.5,248.5 L1106.9,249.0 L1106.2,249.5 L1105.5,250.0 L1105.0,250.5 L1104.6,251.0 L1104.3,251.5 L1104.0,252.0 L1103.9,252.5 L1103.7,253.0 L1103.6,253.5 L1103.5,254.0 L1103.4,254.5 L1103.3,255.0 L1103.1,255.5 L1102.9,256.0 L1102.6,256.5 L1102.2,257.0 L1101.7,257.5 L1101.1,258.0 L1100.3,258.5 L1099.3,259.0 L1098.1,259.5 L1096.7,260.0 L1095.1,260.5 L1093.4,261.0 L1091.5,261.5 L1089.5,262.0 L1087.4,262.5 L1085.3,263.0 L1083.3,263.5 L1081.4,264.0 L1079.6,264.5 L1078.1,265.0 L1076.7,265.5 L1075.5,266.0 L1074.6,266.5 L1073.8,267.0 L1073.2,267.5 L1072.8,268.0 L1072.4,268.5 L1072.2,269.0 L1072.0,269.5 L1071.9,270.0 L1071.8,270.5 L1071.8,271.0 L1071.7,271.5 L1071.7,272.0 L1071.7,272.5 L1071.7,273.0 L1071.7,273.5 L1071.7,274.0 L1071.7,274.5 L1071.7,275.0 L1071.7,275.5 L1071.7,276.0 L1071.7,276.5 L1071.7,277.0 L1071.7,277.5 L1071.7,278.0 L1071.7,278.5 L1071.7,279.0 L1071.7,279.5 L1071.7,280.0 L1071.7,280.5 L1071.7,281.0 L1071.7,281.5 L1071.8,282.0 L1071.8,282.5 L1071.9,283.0 L1072.0,283.5 L1072.2,284.0 L1072.5,284.5 L1072.8,285.0 L1073.3,285.5 L1074.0,286.0 L1074.8,286.5 L1075.8,287.0 L1077.1,287.5 L1078.5,288.0 L1080.2,288.5 L1082.1,289.0 L1084.1,289.5 L1086.3,290.0 L1088.5,290.5 L1090.8,291.0 L1093.0,291.5 L1095.2,292.0 L1097.3,292.5 L1099.3,293.0 L1101.2,293.5 L1103.0,294.0 L1104.7,294.5 L1106.1,295.0 L1107.1,295.5 L1107.8,296.0 L1108.2,296.5 L1108.1,297.0 L1107.7,297.5 L1107.2,298.0 L1106.5,298.5 L1105.8,299.0 L1105.2,299.5 L1104.7,300.0 L1104.4,300.5 L1104.1,301.0 L1103.9,301.5 L1103.7,302.0 L1103.6,302.5 L1103.5,303.0 L1103.3,303.5 L1103.1,304.0 L1102.9,304.5 L1102.6,305.0 L1102.2,305.5 L1101.7,306.0 L1101.0,306.5 L1100.2,307.0 L1099.2,307.5 L1098.0,308.0 L1096.6,308.5 L1095.0,309.0 L1093.2,309.5 L1091.3,310.0 L1089.3,310.5 L1087.2,311.0 L1085.1,311.5 L1083.1,312.0 L1081.2,312.5 L1079.5,313.0 L1077.9,313.5 L1076.6,314.0 L1075.5,314.5 L1074.5,315.0 L1073.8,315.5 L1073.2,316.0 L1072.7,316.5 L1072.4,317.0 L1072.2,317.5 L1072.0,318.0 L1071.9,318.5 L1071.8,319.0 L1071.8,319.5 L1071.7,320.0 L1071.7,320.5 L1071.7,321.0 L1071.7,321.5 L1071.7,322.0 L1071.7,322.5 L1071.7,323.0 L1071.7,323.5 L1071.7,324.0 L1071.7,324.5 L1071.7,325.0 L1071.7,325.5 L1071.7,326.0 L1071.7,326.5 L1071.7,327.0 L1071.7,327.5 L1071.7,328.0 L1071.7,328.5 L1071.7,329.0 L1071.7,329.5 L1071.7,330.0 L1071.8,330.5 L1071.8,331.0 L1071.9,331.5 L1072.0,332.0 L1072.1,332.5 L1072.3,333.0 L1072.7,333.5 L1073.1,334.0 L1073.7,334.5 L1074.4,335.0 L1075.3,335.5 L1076.5,336.0 L1077.8,336.5 L1079.4,337.0 L1081.2,337.5 L1083.2,338.0 L1085.3,338.5 L1087.5,339.0 L1089.7,339.5 L1092.0,340.0 L1094.2,340.5 L1096.3,341.0 L1098.4,341.5 L1100.4,342.0 L1102.2,342.5 L1103.9,343.0 L1105.4,343.5 L1106.7,344.0 L1107.5,344.5 L1108.0,345.0 L1108.1,345.5 L1107.9,346.0 L1107.4,346.5 L1106.8,347.0 L1106.1,347.5 L1105.5,348.0 L1104.9,348.5 L1104.5,349.0 L1104.2,349.5 L1103.9,350.0 L1103.7,350.5 L1103.6,351.0 L1103.4,351.5 L1103.3,352.0 L1103.1,352.5 L1102.8,353.0 L1102.4,353.5 L1102.0,354.0 L1101.4,354.5 L1100.7,355.0 L1099.8,355.5 L1098.7,356.0 L1097.4,356.5 L1095.9,357.0 L1094.3,357.5 L1092.4,358.0 L1090.4,358.5 L1088.4,359.0 L1086.3,359.5 L1084.3,360.0 L1082.3,360.5 L1080.5,361.0 L1078.8,361.5 L1077.3,362.0 L1076.1,362.5 L1075.0,363.0 L1074.2,363.5 L1073.5,364.0 L1073.0,364.5 L1072.6,365.0 L1072.3,365.5 L1072.1,366.0 L1071.9,366.5 L1071.9,367.0 L1071.8,367.5 L1071.8,368.0 L1071.7,368.5 L1071.7,369.0 L1071.7,369.5 L1071.7,370.0 L1071.7,370.5 L1071.7,371.0 L1071.7,371.5 L1071.7,372.0 L1071.7,372.5 L1071.7,373.0 L1071.7,373.5 L1071.7,374.0 L1071.7,374.5 L1071.7,375.0 L1071.7,375.5 L1071.7,376.0 L1071.7,376.5 L1071.7,377.0 L1071.7,377.5 L1071.7,378.0 L1071.7,378.5 L1071.7,379.0 L1071.7,379.5 L1071.7,380.0 L1071.8,380.5 L1071.8,381.0 L1071.9,381.5 L1072.0,382.0 L1072.1,382.5 L1072.4,383.0 L1072.7,383.5 L1073.1,384.0 L1073.7,384.5 L1074.4,385.0 L1075.4,385.5 L1076.5,386.0 L1077.9,386.5 L1079.5,387.0 L1081.3,387.5 L1083.3,388.0 L1085.4,388.5 L1087.6,389.0 L1089.8,389.5 L1092.1,390.0 L1094.3,390.5 L1096.4,391.0 L1098.5,391.5 L1100.4,392.0 L1102.3,392.5 L1104.0,393.0 L1105.5,393.5 L1106.7,394.0 L1107.5,394.5 L1108.0,395.0 L1108.1,395.5 L1107.8,396.0 L1107.3,396.5 L1106.6,397.0 L1105.9,397.5 L1105.3,398.0 L1104.7,398.5 L1104.3,399.0 L1103.9,399.5 L1103.6,400.0 L1103.3,400.5 L1103.0,401.0 L1102.7,401.5 L1102.2,402.0 L1101.7,402.5 L1101.0,403.0 L1100.1,403.5 L1099.0,404.0 L1097.8,404.5 L1096.3,405.0 L1094.7,405.5 L1092.8,406.0 L1090.9,406.5 L1088.8,407.0 L1086.7,407.5 L1084.7,408.0 L1082.7,408.5 L1080.8,409.0 L1079.1,409.5 L1077.6,410.0 L1076.3,410.5 L1075.2,411.0 L1074.3,411.5 L1073.6,412.0 L1073.1,412.5 L1072.6,413.0 L1072.3,413.5 L1072.1,414.0 L1072.0,414.5 L1071.9,415.0 L1071.8,415.5 L1071.8,416.0 L1071.7,416.5 L1071.7,417.0 L1071.7,417.5 L1071.7,418.0 L1071.7,418.5 L1071.7,419.0 L1071.7,419.5 L1071.7,420.0 L1071.7,420.5 L1071.7,421.0 L1071.7,421.5 L1071.7,422.0 L1071.7,422.5 L1071.7,423.0 L1071.7,423.5 L1071.7,424.0 L1071.7,424.5 L1071.7,425.0 L1071.7,425.5 L1071.7,426.0 L1071.7,426.5 L1071.7,427.0 L1071.7,427.5 L1071.7,428.0 L1071.7,428.5 L1071.8,429.0 L1071.8,429.5 L1071.8,430.0 L1071.9,430.5 L1072.1,431.0 L1072.3,431.5 L1072.5,432.0 L1072.9,432.5 L1073.4,433.0 L1074.1,433.5 L1074.9,434.0 L1076.0,434.5 L1077.3,435.0 L1078.8,435.5 L1080.5,436.0 L1082.4,436.5 L1084.4,437.0 L1086.6,437.5 L1088.8,438.0 L1091.1,438.5 L1093.3,439.0 L1095.4,439.5 L1097.5,440.0 L1099.6,440.5 L1101.5,441.0 L1103.2,441.5 L1104.8,442.0 L1106.2,442.5 L1107.2,443.0 L1107.8,443.5 L1108.1,444.0 L1107.9,444.5 L1107.5,445.0 L1106.9,445.5 L1106.3,446.0 L1105.6,446.5 L1105.0,447.0 L1104.5,447.5 L1104.1,448.0 L1103.7,448.5 L1103.4,449.0 L1103.1,449.5 L1102.8,450.0 L1102.4,450.5 L1101.9,451.0 L1101.3,451.5 L1100.5,452.0 L1099.5,452.5 L1098.4,453.0 L1097.0,453.5 L1095.4,454.0 L1093.7,454.5 L1091.8,455.0 L1089.8,455.5 L1087.7,456.0 L1085.6,456.5 L1083.6,457.0 L1081.6,457.5 L1079.9,458.0 L1078.3,458.5 L1076.9,459.0 L1075.7,459.5 L1074.7,460.0 L1073.9,460.5 L1073.3,461.0 L1072.8,461.5 L1072.5,462.0 L1072.2,462.5 L1072.0,463.0 L1071.9,463.5 L1071.8,464.0 L1071.8,464.5 L1071.7,465.0 L1071.7,465.5 L1071.7,466.0 L1071.7,466.5 L1071.7,467.0 L1071.7,467.5 L1071.7,468.0 L1071.7,468.5 L1071.7,469.0 L1071.7,469.5 L1071.7,470.0 L1071.7,470.5 L1071.7,471.0 L1071.7,471.5 L1071.7,472.0 L1071.7,472.5 L1071.7,473.0 L1071.7,473.5 L1071.7,474.0 L1071.7,474.5 L1071.7,475.0 L1071.7,475.5 L1071.7,476.0 L1071.7,476.5 L1071.7,477.0 L1071.7,477.5 L1071.7,478.0 L1071.7,478.5 L1071.7,479.0 L1071.7,479.5 L1071.7,480.0 L1071.7,480.5 L1071.7,481.0 L1071.7,481.5 L1071.7,482.0 L1071.7,482.5 L1071.7,483.0 L1071.7,483.5 L1071.7,484.0 L1071.7,484.5 L1071.7,485.0 L1071.7,485.5 L1071.7,486.0 L1071.7,486.5 L1071.7,487.0 L1071.7,487.5 L1071.7,488.0 L1071.7,488.5 L1071.7,489.0 L1071.7,489.5 L1071.7,490.0 L1071.7,490.5 L1071.7,491.0 L1071.7,491.5 L1071.7,492.0 L1071.7,492.5 L1071.7,493.0 L1071.7,493.5 L1071.7,494.0 L1071.7,494.5 L1071.7,495.0 L1071.7,495.5 L1071.7,496.0 L1071.7,496.5 L1071.7,497.0 L1071.7,497.5 L1071.7,498.0 L1071.7,498.5 L1071.7,499.0 L1071.7,499.5 L1071.7,500.0 L1071.7,500.5 L1071.7,501.0 L1071.7,501.5 L1071.7,502.0 L1071.7,502.5 L1071.7,503.0 L1071.7,503.5 L1071.7,504.0 L1071.7,504.5 L1071.7,505.0 L1071.7,505.5 L1071.7,506.0 L1071.7,506.5 L1071.7,507.0 L1071.7,507.5 L1071.7,508.0 L1071.7,508.5 L1071.7,509.0 L1071.7,509.5 L1071.7,510.0 L1071.7,510.5 L1071.7,511.0 L1071.7,511.5 L1071.7,512.0 L1071.7,512.5 L1071.7,513.0 L1071.7,513.5 L1071.7,514.0 L1071.7,514.5 L1071.7,515.0 L1071.7,515.5 L1071.7,516.0 L1071.7,516.5 L1071.7,517.0 L1071.7,517.5 L1071.7,518.0 L1071.7,518.5 L1071.7,519.0 L1071.7,519.5 L1071.7,520.0 L1071.7,520.5 L1071.7,521.0 L1071.7,521.5 L1071.7,522.0 L1071.7,522.5 L1071.7,523.0 L1071.7,523.5 L1071.7,524.0 L1071.7,524.5 L1071.7,525.0 L1071.7,525.5 L1071.7,526.0 L1071.7,526.5 L1071.7,527.0 L1071.7,527.5 L1071.7,528.0 L1071.7,528.5 L1071.7,529.0 L1071.7,529.5 L1071.7,530.0 L1071.7,530.5 L1071.7,531.0 L1071.7,531.5 L1071.7,532.0 L1071.7,532.5 L1071.7,533.0 L1071.7,533.5 L1071.7,534.0 L1071.7,534.5 L1071.7,535.0 L1071.7,535.5 L1071.7,536.0 L1071.7,536.5 L1071.7,537.0 L1071.7,537.5 L1071.7,538.0 L1071.7,538.5 L1071.7,539.0 L1071.7,539.5 L1071.7,540.0 L1071.7,540.5 L1071.7,541.0 L1071.7,541.5 L1071.7,542.0 L1071.7,542.5 L1071.7,543.0 L1071.7,543.5 L1071.7,544.0 L1071.7,544.5 L1071.7,545.0 L1071.7,545.5 L1071.7,546.0 L1071.7,546.5 L1071.7,547.0 L1071.7,547.5 L1071.7,548.0 L1071.8,548.5 L1071.8,549.0 L1071.9,549.5 L1072.0,550.0 L1072.2,550.5 L1072.4,551.0 L1072.8,551.5 L1073.3,552.0 L1073.9,552.5 L1074.7,553.0 L1075.7,553.5 L1076.9,554.0 L1078.3,554.5 L1080.0,555.0 L1081.8,555.5 L1083.9,556.0 L1086.0,556.5 L1088.2,557.0 L1090.5,557.5 L1092.7,558.0 L1094.9,558.5 L1097.0,559.0 L1099.0,559.5 L1100.9,560.0 L1102.8,560.5 L1104.4,561.0 L1105.8,561.5 L1106.9,562.0 L1107.7,562.5 L1108.0,563.0 L1108.0,563.5 L1107.7,564.0 L1107.1,564.5 L1106.4,565.0 L1105.7,565.5 L1105.1,566.0 L1104.6,566.5 L1104.2,567.0 L1103.8,567.5 L1103.5,568.0 L1103.2,568.5 L1102.9,569.0 L1102.5,569.5 L1102.0,570.0 L1101.4,570.5 L1100.6,571.0 L1099.6,571.5 L1098.5,572.0 L1097.1,572.5 L1095.6,573.0 L1093.8,573.5 L1092.0,574.0 L1090.0,574.5 L1087.9,575.0 L1085.8,575.5 L1083.8,576.0 L1081.8,576.5 L1080.0,577.0 L1078.4,577.5 L1077.0,578.0 L1075.8,578.5 L1074.8,579.0 L1074.0,579.5 L1073.3,580.0 L1072.8,580.5 L1072.5,581.0 L1072.2,581.5 L1072.0,582.0 L1071.9,582.5 L1071.8,583.0 L1071.8,583.5 L1071.7,584.0 L1071.7,584.5 L1071.7,585.0 L1071.7,585.5 L1071.7,586.0 L1071.7,586.5 L1071.7,587.0 L1071.7,587.5 L1071.7,588.0 L1071.7,588.5 L1071.7,589.0 L1071.7,589.5 L1071.7,590.0 L1071.7,590.5 L1071.7,591.0 L1071.7,591.5 L1071.7,592.0 L1071.7,592.5 L1071.7,593.0 L1071.7,593.5 L1071.7,594.0 L1071.7,594.5 L1071.7,595.0 L1071.8,595.5 L1071.8,596.0 L1071.9,596.5 L1071.9,597.0 L1072.1,597.5 L1072.3,598.0 L1072.6,598.5 L1073.0,599.0 L1073.5,599.5 L1074.2,600.0 L1075.1,600.5 L1076.2,601.0 L1077.5,601.5 L1079.0,602.0 L1080.7,602.5 L1082.6,603.0 L1084.7,603.5 L1086.9,604.0 L1089.1,604.5 L1091.4,605.0 L1093.6,605.5 L1095.7,606.0 L1097.8,606.5 L1099.8,607.0 L1101.7,607.5 L1103.5,608.0 L1105.0,608.5 L1106.3,609.0 L1107.3,609.5 L1107.9,610.0 L1108.1,610.5 L1107.9,611.0 L1107.5,611.5 L1106.9,612.0 L1106.2,612.5 L1105.5,613.0 L1104.9,613.5 L1104.4,614.0 L1104.1,614.5 L1103.8,615.0 L1103.5,615.5 L1103.2,616.0 L1102.9,616.5 L1102.6,617.0 L1102.1,617.5 L1101.5,618.0 L1100.8,618.5 L1099.9,619.0 L1098.8,619.5 L1097.6,620.0 L1096.1,620.5 L1094.4,621.0 L1092.5,621.5 L1090.6,622.0 L1088.5,622.5 L1086.4,623.0 L1084.4,623.5 L1082.4,624.0 L1080.6,624.5 L1078.9,625.0 L1077.4,625.5 L1076.1,626.0 L1075.1,626.5 L1074.2,627.0 L1073.5,627.5 L1073.0,628.0 L1072.6,628.5 L1072.3,629.0 L1072.1,629.5 L1072.0,630.0 L1071.9,630.5 L1071.8,631.0 L1071.8,631.5 L1071.7,632.0 L1071.7,632.5 L1071.7,633.0 L1071.7,633.5 L1071.7,634.0 L1071.7,634.5 L1071.7,635.0 L1071.7,635.5 L1071.7,636.0 L1071.7,636.5 L1071.7,637.0 L1071.7,637.5 L1071.7,638.0 L1071.7,638.5 L1071.7,639.0 L1071.7,639.5 L1071.7,640.0 L1071.7,640.5 L1071.7,641.0 L1071.7,641.5 L1071.7,642.0 L1071.8,642.5 L1071.8,643.0 L1071.8,643.5 L1071.9,644.0 L1072.1,644.5 L1072.3,645.0 L1072.5,645.5 L1072.9,646.0 L1073.5,646.5 L1074.1,647.0 L1075.0,647.5 L1076.1,648.0 L1077.4,648.5 L1078.9,649.0 L1080.6,649.5 L1082.5,650.0 L1084.6,650.5 L1086.8,651.0 L1089.0,651.5 L1091.3,652.0 L1093.5,652.5 L1095.7,653.0 L1097.8,653.5 L1099.8,654.0 L1101.7,654.5 L1103.4,655.0 L1105.0,655.5 L1106.3,656.0 L1107.3,656.5 L1108.0,657.0 L1108.2,657.5 L1108.1,658.0 L1107.6,658.5 L1107.0,659.0 L1106.4,659.5 L1105.7,660.0 L1105.1,660.5 L1104.7,661.0 L1104.3,661.5 L1104.1,662.0 L1103.9,662.5 L1103.7,663.0 L1103.6,663.5 L1103.5,664.0 L1103.4,664.5 L1103.2,665.0 L1103.0,665.5 L1102.8,666.0 L1102.4,666.5 L1102.0,667.0 L1101.5,667.5 L1100.8,668.0 L1099.9,668.5 L1098.8,669.0 L1097.6,669.5 L1096.1,670.0 L1094.4,670.5 L1092.6,671.0 L1090.6,671.5 L1088.6,672.0 L1086.5,672.5 L1084.5,673.0 L1082.5,673.5 L1080.6,674.0 L1079.0,674.5 L1077.5,675.0 L1076.2,675.5 L1075.1,676.0 L1074.2,676.5 L1073.5,677.0 L1073.0,677.5 L1072.6,678.0 L1072.3,678.5 L1072.1,679.0 L1072.0,679.5 L1071.9,680.0 L1071.8,680.5 L1071.8,681.0 L1071.7,681.5 L1071.7,682.0 L1071.7,682.5 L1071.7,683.0 L1071.7,683.5 L1071.7,684.0 L1071.7,684.5 L1071.7,685.0 L1071.7,685.5 L1071.7,686.0 L1071.7,686.5 L1071.7,687.0 L1071.7,687.5 L1071.7,688.0 L1071.7,688.5 L1071.7,689.0 L1071.7,689.5 L1071.7,690.0 L1071.7,690.5 L1071.7,691.0 L1071.7,691.5 L1071.7,692.0 L1071.8,692.5 L1071.8,693.0 L1071.9,693.5 L1072.0,694.0 L1072.2,694.5 L1072.5,695.0 L1072.8,695.5 L1073.3,696.0 L1074.0,696.5 L1074.8,697.0 L1075.8,697.5 L1077.1,698.0 L1078.5,698.5 L1080.2,699.0 L1082.1,699.5 L1084.1,700.0 L1086.3,700.5 L1088.5,701.0 L1090.7,701.5 L1093.0,702.0 L1095.1,702.5 L1097.2,703.0 L1099.3,703.5 L1101.2,704.0 L1103.0,704.5 L1104.6,705.0 L1106.0,705.5 L1107.1,706.0 L1107.8,706.5 L1108.1,707.0 L1108.1,707.5 L1107.7,708.0 L1107.1,708.5 L1106.4,709.0 L1105.8,709.5 L1105.2,710.0 L1104.7,710.5 L1104.3,711.0 L1104.0,711.5 L1103.8,712.0 L1103.6,712.5 L1103.4,713.0 L1103.2,713.5 L1103.0,714.0 L1102.7,714.5 L1102.3,715.0 L1101.8,715.5 L1101.1,716.0 L1100.3,716.5 L1099.3,717.0 L1098.1,717.5 L1096.7,718.0 L1095.1,718.5 L1093.3,719.0 L1091.4,719.5 L1089.4,720.0 L1087.3,720.5 L1085.3,721.0 L1083.2,721.5 L1081.3,722.0 L1079.6,722.5 L1078.0,723.0 L1076.7,723.5 L1075.5,724.0 L1074.5,724.5 L1073.8,725.0 L1073.2,725.5 L1072.7,726.0 L1072.4,726.5 L1072.2,727.0 L1072.0,727.5 L1071.9,728.0 L1071.8,728.5 L1071.8,729.0 L1071.7,729.5 L1071.7,730.0 L1071.7,730.5 L1071.7,731.0 L1071.7,731.5 L1071.7,732.0 L1071.7,732.5 L1071.7,733.0 L1071.7,733.5 L1071.7,734.0 L1071.7,734.5 L1071.7,735.0 L1071.7,735.5 L1071.7,736.0 L1071.7,736.5 L1071.7,737.0 L1071.7,737.5 L1071.7,738.0 L1071.7,738.5 L1071.7,739.0 L1071.7,739.5 L1071.7,740.0 L1071.7,740.5 L1071.8,741.0 L1071.8,741.5 L1071.8,742.0 L1071.9,742.5 L1072.1,743.0 L1072.3,743.5 L1072.5,744.0 L1072.9,744.5 L1073.4,745.0 L1074.1,745.5 L1075.0,746.0 L1076.0,746.5 L1077.3,747.0 L1078.8,747.5 L1080.5,748.0 L1082.5,748.5 L1084.5,749.0 L1086.7,749.5 L1088.9,750.0 L1091.2,750.5 L1093.4,751.0 L1095.6,751.5 L1097.7,752.0 L1099.7,752.5 L1101.6,753.0 L1103.3,753.5 L1104.9,754.0 L1106.3,754.5 L1107.3,755.0 L1107.9,755.5 L1108.2,756.0 L1108.0,756.5 L1107.6,757.0 L1107.0,757.5 L1106.4,758.0 L1105.7,758.5 L1105.1,759.0 L1104.7,759.5 L1104.3,760.0 L1104.0,760.5 L1103.8,761.0 L1103.7,761.5 L1103.5,762.0 L1103.4,762.5 L1103.2,763.0 L1103.0,763.5 L1102.7,764.0 L1102.4,764.5 L1101.9,765.0 L1101.4,765.5 L1100.6,766.0 L1099.7,766.5 L1098.6,767.0 L1097.3,767.5 L1095.8,768.0 L1094.1,768.5 L1092.2,769.0 L1090.2,769.5 L1088.2,770.0 L1086.1,770.5 L1084.1,771.0 L1082.1,771.5 L1080.3,772.0 L1078.6,772.5 L1077.2,773.0 L1075.9,773.5 L1074.9,774.0 L1074.1,774.5 L1073.4,775.0 L1072.9,775.5 L1072.5,776.0 L1072.3,776.5 L1072.1,777.0 L1071.9,777.5 L1071.8,778.0 L1071.8,778.5 L1071.8,779.0 L1071.7,779.5 L1071.7,780.0 L1071.7,780.5 L1071.7,781.0 L1071.7,781.5 L1071.7,782.0 L1071.7,782.5 L1071.7,783.0 L1071.7,783.5 L1071.7,784.0 L1071.7,784.5 L1071.7,785.0 L1071.7,785.5 L1071.7,786.0 L1071.7,786.5 L1071.7,787.0 L1071.7,787.5 L1071.7,788.0 L1071.7,788.5 L1071.7,789.0 L1071.7,789.5 L1071.7,790.0 L1071.7,790.5 L1071.8,791.0 L1071.8,791.5 L1071.8,792.0 L1071.9,792.5 L1072.1,793.0 L1072.3,793.5 L1072.6,794.0 L1072.9,794.5 L1073.5,795.0 L1074.1,795.5 L1075.0,796.0 L1076.1,796.5 L1077.4,797.0 L1078.9,797.5 L1080.6,798.0 L1082.6,798.5 L1084.6,799.0 L1086.8,799.5 L1089.0,800.0 L1091.3,800.5 L1093.5,801.0 L1095.7,801.5 L1097.7,802.0 L1099.8,802.5 L1101.7,803.0 L1103.4,803.5 L1105.0,804.0 L1106.3,804.5 L1107.3,805.0 L1107.9,805.5 L1108.1,806.0 L1108.0,806.5 L1107.6,807.0 L1107.0,807.5 L1106.3,808.0 L1105.6,808.5 L1105.1,809.0 L1104.6,809.5 L1104.2,810.0 L1104.0,810.5 L1103.7,811.0 L1103.6,811.5 L1103.4,812.0 L1103.2,812.5 L1103.0,813.0 L1102.7,813.5 L1102.3,814.0 L1101.8,814.5 L1101.2,815.0 L1100.4,815.5 L1099.4,816.0 L1098.2,816.5 L1096.9,817.0 L1095.3,817.5 L1093.5,818.0 L1091.6,818.5 L1089.6,819.0 L1087.6,819.5 L1085.5,820.0 L1083.5,820.5 L1081.5,821.0 L1079.8,821.5 L1078.2,822.0 L1076.8,822.5 L1075.6,823.0 L1074.6,823.5 L1073.9,824.0 L1073.3,824.5 L1072.8,825.0 L1072.4,825.5 L1072.2,826.0 L1072.0,826.5 L1071.9,827.0 L1071.8,827.5 L1071.8,828.0 L1071.7,828.5 L1071.7,829.0 L1071.7,829.5 L1071.7,830.0 L1071.7,830.5 L1071.7,831.0 L1071.7,831.5 L1071.7,832.0 L1071.7,832.5 L1071.7,833.0 L1071.7,833.5 L1071.7,834.0 L1071.7,834.5 L1071.7,835.0 L1071.7,835.5 L1071.7,836.0 L1071.7,836.5 L1071.7,837.0 L1071.7,837.5 L1071.7,838.0 L1071.7,838.5 L1071.7,839.0 L1071.7,839.5 L1071.8,840.0 L1071.8,840.5 L1071.8,841.0 L1071.9,841.5 L1072.1,842.0 L1072.3,842.5 L1072.6,843.0 L1072.9,843.5 L1073.5,844.0 L1074.2,844.5 L1075.0,845.0 L1076.1,845.5 L1077.4,846.0 L1078.9,846.5 L1080.7,847.0 L1082.6,847.5 L1084.7,848.0 L1086.8,848.5 L1089.1,849.0 L1091.3,849.5 L1093.5,850.0 L1095.7,850.5 L1097.8,851.0 L1099.8,851.5 L1101.7,852.0 L1103.5,852.5 L1105.0,853.0 L1106.3,853.5 L1107.3,854.0 L1107.9,854.5 L1108.2,855.0 L1108.0,855.5 L1107.6,856.0 L1107.0,856.5 L1106.3,857.0 L1105.7,857.5 L1105.1,858.0 L1104.6,858.5 L1104.3,859.0 L1104.0,859.5 L1103.8,860.0 L1103.7,860.5 L1103.5,861.0 L1103.4,861.5 L1103.2,862.0 L1103.0,862.5 L1102.7,863.0 L1102.4,863.5 L1101.9,864.0 L1101.3,864.5 L1100.6,865.0 L1099.6,865.5 L1098.5,866.0 L1097.2,866.5 L1095.7,867.0 L1094.0,867.5 L1092.1,868.0 L1090.1,868.5 L1088.0,869.0 L1086.0,869.5 L1083.9,870.0 L1082.0,870.5 L1080.2,871.0 L1078.5,871.5 L1077.1,872.0 L1075.9,872.5 L1074.9,873.0 L1074.0,873.5 L1073.4,874.0 L1072.9,874.5 L1072.5,875.0 L1072.2,875.5 L1072.1,876.0 L1071.9,876.5 L1071.8,877.0 L1071.8,877.5 L1071.8,878.0 L1071.7,878.5 L1071.7,879.0 L1071.7,879.5 L1071.7,880.0 L1071.7,880.5 L1071.7,881.0 L1071.7,881.5 L1071.7,882.0 L1071.7,882.5 L1071.7,883.0 L1071.7,883.5 L1071.7,884.0 L1071.7,884.5 L1071.7,885.0 L1071.7,885.5 L1071.7,886.0 L1071.7,886.5 L1071.7,887.0 L1071.7,887.5 L1071.7,888.0 L1071.8,888.5 L1071.8,889.0 L1071.8,889.5 L1071.9,890.0 L1072.1,890.5 L1072.3,891.0 L1072.5,891.5 L1072.9,892.0 L1073.4,892.5 L1074.1,893.0 L1074.9,893.5 L1076.0,894.0 L1077.3,894.5 L1078.8,895.0 L1080.5,895.5 L1082.4,896.0 L1084.5,896.5 L1086.6,897.0 L1088.9,897.5 L1091.1,898.0 L1093.3,898.5 L1095.5,899.0 L1097.6,899.5 L1099.6,900.0 L1101.5,900.5 L1103.3,901.0 L1104.9,901.5 L1106.3,902.0 L1107.3,902.5 L1107.9,903.0 L1108.2,903.5 L1108.1,904.0 L1107.7,904.5 L1107.1,905.0 L1106.4,905.5 L1105.8,906.0 L1105.2,906.5 L1104.7,907.0 L1104.4,907.5 L1104.1,908.0 L1103.9,908.5 L1103.8,909.0 L1103.7,909.5 L1103.5,910.0 L1103.4,910.5 L1103.3,911.0 L1103.1,911.5 L1102.9,912.0 L1102.6,912.5 L1102.3,913.0 L1101.8,913.5 L1101.2,914.0 L1100.4,914.5 L1099.5,915.0 L1098.3,915.5 L1097.0,916.0 L1095.4,916.5 L1093.7,917.0 L1091.8,917.5 L1089.8,918.0 L1087.8,918.5 L1085.7,919.0 L1083.7,919.5 L1081.7,920.0 L1080.0,920.5 L1078.3,921.0 L1076.9,921.5 L1075.7,922.0 L1074.7,922.5 L1073.9,923.0 L1073.3,923.5 L1072.8,924.0 L1072.5,924.5 L1072.2,925.0 L1072.0,925.5 L1071.9,926.0 L1071.8,926.5 L1071.8,927.0 L1071.7,927.5 L1071.7,928.0 L1071.7,928.5 L1071.7,929.0 L1071.7,929.5 L1071.7,930.0 L1071.7,930.5 L1071.7,931.0 L1071.7,931.5 L1071.7,932.0 L1071.7,932.5 L1071.7,933.0 L1071.7,933.5 L1071.7,934.0 L1071.7,934.5 L1071.7,935.0 L1071.7,935.5 L1071.7,936.0 L1071.7,936.5 L1071.7,937.0 L1071.7,937.5 L1071.7,938.0 L1071.8,938.5 L1071.8,939.0 L1071.9,939.5 L1072.0,940.0 L1072.2,940.5 L1072.5,941.0 L1072.9,941.5 L1073.4,942.0 L1074.1,942.5 L1075.1,943.0 L1076.3,943.5 L1077.7,944.0 L1079.5,944.5 L1081.5,945.0 L1083.8,945.5 L1086.3,946.0 L1089.1,946.5 L1092.0,947.0 L1094.9,947.5 L1097.8,948.0 L1100.8,948.5 L1103.6,949.0 L1106.3,949.5 L1108.9,950.0 L1111.4,950.5 L1113.7,951.0 L1115.7,951.5 L1117.4,952.0 L1118.6,952.5 L1119.4,953.0 L1119.6,953.5 L1119.3,954.0 L1118.7,954.5 L1117.9,955.0 L1117.0,955.5 L1116.2,956.0 L1115.5,956.5 L1114.9,957.0 L1114.4,957.5 L1114.1,958.0 L1113.9,958.5 L1113.7,959.0 L1113.5,959.5 L1113.4,960.0 L1113.2,960.5 L1113.0,961.0 L1112.7,961.5 L1112.3,962.0 L1111.8,962.5 L1111.1,963.0 L1110.3,963.5 L1109.3,964.0 L1108.0,964.5 L1106.5,965.0 L1104.7,965.5 L1102.6,966.0 L1100.3,966.5 L1097.8,967.0 L1095.2,967.5 L1092.5,968.0 L1089.7,968.5 L1087.1,969.0 L1084.6,969.5 L1082.3,970.0 L1080.2,970.5 L1078.4,971.0 L1076.8,971.5 L1075.6,972.0 L1074.5,972.5 L1073.7,973.0 L1073.1,973.5 L1072.7,974.0 L1072.3,974.5 L1072.1,975.0 L1072.0,975.5 L1071.9,976.0 L1071.8,976.5 L1071.8,977.0 L1071.7,977.5 L1071.7,978.0 L1071.7,978.5 L1071.7,979.0 L1071.7,979.5 L1071.7,980.0 L1071.7,980.5 L1071.7,981.0 L1071.7,981.5 L1071.7,982.0 L1071.7,982.5 L1071.7,983.0 L1071.7,983.5 L1071.7,984.0 L1071.7,984.5 L1071.7,985.0 L1071.7,985.5 L1071.7,986.0 L1071.7,986.5 L1071.7,987.0 L1071.7,987.5 L1071.7,988.0 L1071.8,988.5 L1071.8,989.0 L1071.9,989.5 L1072.0,990.0 L1072.1,990.5 L1072.3,991.0 L1072.6,991.5 L1073.0,992.0 L1073.5,992.5 L1074.1,993.0 L1074.9,993.5 L1075.9,994.0 L1077.0,994.5 L1078.3,995.0 L1079.7,995.5 L1081.3,996.0 L1082.9,996.5 L1084.7,997.0 L1086.5,997.5 L1088.7,998.0 L1091.3,998.5 L1094.8,999.0 L1099.5,999.5 L1105.9,1000.0 L1113.7,1000.5 L1122.4,1001.0 L1130.5,1001.5 L1136.5,1002.0 L1138.9,1002.5 L1137.1,1003.0 L1131.9,1003.5 L1124.4,1004.0 L1116.5,1004.5 L1109.5,1005.0 L1104.1,1005.5 L1100.4,1006.0 L1098.2,1006.5 L1096.9,1007.0 L1096.3,1007.5 L1095.9,1008.0 L1095.7,1008.5 L1095.6,1009.0 L1095.5,1009.5 L1095.4,1010.0 L1095.2,1010.5 L1095.0,1011.0 L1094.8,1011.5 L1094.5,1012.0 L1094.0,1012.5 L1093.5,1013.0 L1092.9,1013.5 L1092.1,1014.0 L1091.1,1014.5 L1090.0,1015.0 L1088.8,1015.5 L1087.4,1016.0 L1085.9,1016.5 L1084.4,1017.0 L1082.8,1017.5 L1081.3,1018.0 L1079.8,1018.5 L1078.4,1019.0 L1077.2,1019.5 L1076.0,1020.0 L1075.1,1020.5 L1074.3,1021.0 L1073.6,1021.5 L1073.1,1022.0 L1072.7,1022.5 L1072.4,1023.0 L1072.2,1023.5 L1072.0,1024.0 L1071.9,1024.5 L1071.8,1025.0 L1071.8,1025.5 L1071.7,1026.0 L1071.7,1026.5 L1071.7,1027.0 L1071.7,1027.5 L1071.7,1028.0 L1071.7,1028.5 L1071.7,1029.0 L1071.7,1029.5 L1071.7,1030.0 L1071.7,1030.5 L1071.7,1031.0 L1071.7,1031.5 L1071.7,1032.0 L1071.7,1032.5 L1071.7,1033.0 L1071.7,1033.5 L1071.7,1034.0 L1071.7,1034.5 L1071.7,1035.0 L1071.7,1035.5 L1071.7,1036.0 L1071.7,1036.5 L1071.7,1037.0 L1071.7,1037.5 L1071.7,1038.0 L1071.7,1038.5 L1071.7,1039.0 L1071.7,1039.5 L1071.7,1040.0 L1072.5,1040.5 L1073.2,1041.0 L1074.0,1041.5 L1074.7,1042.0 L1075.5,1042.5 L1076.2,1043.0 L1077.0,1043.5 L1077.7,1044.0 L1078.5,1044.5 L1079.2,1045.0 L1080.0,1045.5 L1080.7,1046.0 L1080.7,1046.5 L1080.7,1047.0 L1080.7,1047.5 L1080.7,1048.0 L1080.7,1048.5 L1080.7,1049.0 L1080.7,1049.5 L1080.7,1050.0 L1080.7,1050.5 L1080.7,1051.0 L1080.7,1051.5" stroke="#008000"/>
<path d="M1132.9,144.5 L1144.5,145.0 L1156.6,145.5 L1168.9,146.0 L1181.2,146.5 L1193.1,147.0 L1204.5,147.5 L1215.0,148.0 L1224.6,148.5 L1233.1,149.0 L1240.5,149.5 L1246.7,150.0 L1251.7,150.5 L1255.5,151.0 L1258.1,151.5 L1259.6,152.0 L1260.3,152.5 L1260.5,153.0 L1260.5,153.5 L1260.5,154.0 L1260.4,154.5 L1260.4,155.0 L1260.3,155.5 L1260.2,156.0 L1260.1,156.5 L1260.1,157.0 L1260.0,157.5 L1259.9,158.0 L1259.9,158.5 L1259.8,159.0 L1259.7,159.5 L1259.7,160.0 L1259.6,160.5 L1259.5,161.0 L1259.5,161.5 L1259.4,162.0 L1259.3,162.5 L1259.2,163.0 L1259.1,163.5 L1258.8,164.0 L1258.1,164.5 L1256.6,165.0 L1254.2,165.5 L1250.6,166.0 L1245.8,166.5 L1239.8,167.0 L1232.8,167.5 L1224.6,168.0 L1215.4,168.5 L1205.4,169.0 L1194.6,169.5 L1183.2,170.0 L1171.6,170.5 L1160.0,171.0 L1148.6,171.5 L1137.8,172.0 L1127.9,172.5 L1118.9,173.0 L1111.0,173.5 L1104.4,174.0 L1099.0,174.5 L1094.8,175.0 L1091.7,175.5 L1089.5,176.0 L1088.2,176.5 L1087.5,177.0 L1087.3,177.5 L1087.5,178.0 L1087.9,178.5 L1088.3,179.0 L1088.8,179.5 L1089.2,180.0 L1089.5,180.5 L1089.6,181.0 L1089.6,181.5 L1089.5,182.0 L1089.4,182.5 L1089.4,183.0 L1089.5,183.5 L1090.0,184.0 L1091.1,184.5 L1092.7,185.0 L1095.3,185.5 L1098.7,186.0 L1103.4,186.5 L1109.1,187.0 L1116.1,187.5 L1124.3,188.0 L1133.6,188.5 L1143.9,189.0 L1154.8,189.5 L1166.3,190.0 L1177.9,190.5 L1189.5,191.0 L1200.7,191.5 L1211.2,192.0 L1221.0,192.5 L1229.9,193.0 L1237.6,193.5 L1244.3,194.0 L1249.8,194.5 L1254.1,195.0 L1257.2,195.5 L1259.2,196.0 L1260.2,196.5 L1260.6,197.0 L1260.7,197.5 L1260.7,198.0 L1260.7,198.5 L1260.6,199.0 L1260.6,199.5 L1260.5,200.0 L1260.5,200.5 L1260.4,201.0 L1260.3,201.5 L1260.3,202.0 L1260.2,202.5 L1260.2,203.0 L1260.1,203.5 L1260.1,204.0 L1260.0,204.5 L1259.9,205.0 L1259.9,205.5 L1259.8,206.0 L1259.8,206.5 L1259.7,207.0 L1259.7,207.5 L1259.6,208.0 L1259.5,208.5 L1259.5,209.0 L1259.4,209.5 L1259.4,210.0 L1259.3,210.5 L1259.2,211.0 L1259.2,211.5 L1259.1,212.0 L1258.9,212.5 L1258.3,213.0 L1257.3,213.5 L1255.3,214.0 L1252.2,214.5 L1247.9,215.0 L1242.4,215.5 L1235.8,216.0 L1228.0,216.5 L1219.1,217.0 L1209.2,217.5 L1198.5,218.0 L1187.0,218.5 L1175.1,219.0 L1162.9,219.5 L1150.8,220.0 L1139.1,220.5 L1127.9,221.0 L1117.4,221.5 L1108.0,222.0 L1099.5,222.5 L1092.2,223.0 L1086.1,223.5 L1081.0,224.0 L1077.2,224.5 L1074.5,225.0 L1072.9,225.5 L1072.1,226.0 L1071.8,226.5 L1071.7,227.0 L1071.7,227.5 L1071.7,228.0 L1071.7,228.5 L1071.7,229.0 L1071.7,229.5 L1071.7,230.0 L1071.7,230.5 L1071.8,231.0 L1072.0,231.5 L1072.6,232.0 L1073.9,232.5 L1076.3,233.0 L1079.8,233.5 L1084.5,234.0 L1090.4,234.5 L1097.5,235.0 L1105.7,235.5 L1115.0,236.0 L1125.3,236.5 L1136.4,237.0 L1148.2,237.5 L1160.4,238.0 L1172.7,238.5 L1184.9,239.0 L1196.7,239.5 L1207.8,240.0 L1218.1,240.5 L1227.4,241.0 L1235.6,241.5 L1242.6,242.0 L1248.5,242.5 L1253.1,243.0 L1256.5,243.5 L1258.8,244.0 L1260.0,244.5 L1260.6,245.0 L1260.7,245.5 L1260.8,246.0 L1260.7,246.5 L1260.7,247.0 L1260.6,247.5 L1260.5,248.0 L1260.5,248.5 L1260.4,249.0 L1260.4,249.5 L1260.3,250.0 L1260.3,250.5 L1260.2,251.0 L1260.1,251.5 L1260.1,252.0 L1260.0,252.5 L1260.0,253.0 L1259.9,253.5 L1259.9,254.0 L1259.8,254.5 L1259.7,255.0 L1259.7,255.5 L1259.6,256.0 L1259.6,256.5 L1259.5,257.0 L1259.5,257.5 L1259.4,258.0 L1259.3,258.5 L1259.3,259.0 L1259.2,259.5 L1259.2,260.0 L1259.1,260.5 L1258.8,261.0 L1258.3,261.5 L1257.1,262.0 L1255.1,262.5 L1251.9,263.0 L1247.5,263.5 L1241.9,264.0 L1235.1,264.5 L1227.3,265.0 L1218.3,265.5 L1208.4,266.0 L1197.5,266.5 L1186.0,267.0 L1174.1,267.5 L1161.9,268.0 L1149.8,268.5 L1138.1,269.0 L1126.9,269.5 L1116.6,270.0 L1107.2,270.5 L1098.9,271.0 L1091.7,271.5 L1085.6,272.0 L1080.7,272.5 L1076.9,273.0 L1074.3,273.5 L1072.8,274.0 L1072.1,274.5 L1071.8,275.0 L1071.7,275.5 L1071.7,276.0 L1071.7,276.5 L1071.7,277.0 L1071.7,277.5 L1071.7,278.0 L1071.7,278.5 L1071.7,279.0 L1071.7,279.5 L1071.7,280.0 L1071.9,280.5 L1072.3,281.0 L1073.2,281.5 L1074.9,282.0 L1077.8,282.5 L1081.9,283.0 L1087.2,283.5 L1093.6,284.0 L1101.3,284.5 L1110.0,285.0 L1119.8,285.5 L1130.5,286.0 L1142.0,286.5 L1154.0,287.0 L1166.3,287.5 L1178.6,288.0 L1190.6,288.5 L1202.1,289.0 L1212.9,289.5 L1222.7,290.0 L1231.4,290.5 L1239.1,291.0 L1245.6,291.5 L1250.9,292.0 L1254.9,292.5 L1257.8,293.0 L1259.5,293.5 L1260.3,294.0 L1260.7,294.5 L1260.7,295.0 L1260.7,295.5 L1260.7,296.0 L1260.6,296.5 L1260.6,297.0 L1260.5,297.5 L1260.4,298.0 L1260.4,298.5 L1260.3,299.0 L1260.3,299.5 L1260.2,300.0 L1260.1,300.5 L1260.1,301.0 L1260.0,301.5 L1260.0,302.0 L1259.9,302.5 L1259.8,303.0 L1259.8,303.5 L1259.7,304.0 L1259.7,304.5 L1259.6,305.0 L1259.5,305.5 L1259.5,306.0 L1259.4,306.5 L1259.4,307.0 L1259.3,307.5 L1259.2,308.0 L1259.2,308.5 L1259.1,309.0 L1258.8,309.5 L1258.2,310.0 L1257.0,310.5 L1254.8,311.0 L1251.5,311.5 L1247.0,312.0 L1241.3,312.5 L1234.5,313.0 L1226.5,313.5 L1217.5,314.0 L1207.5,314.5 L1196.6,315.0 L1185.0,315.5 L1173.0,316.0 L1160.9,316.5 L1148.8,317.0 L1137.1,317.5 L1126.0,318.0 L1115.7,318.5 L1106.4,319.0 L1098.2,319.5 L1091.1,320.0 L1085.1,320.5 L1080.3,321.0 L1076.7,321.5 L1074.2,322.0 L1072.7,322.5 L1072.1,323.0 L1071.8,323.5 L1071.7,324.0 L1071.7,324.5 L1071.7,325.0 L1071.7,325.5 L1071.7,326.0 L1071.7,326.5 L1071.7,327.0 L1071.7,327.5 L1071.7,328.0 L1071.7,328.5 L1071.8,329.0 L1072.0,329.5 L1072.7,330.0 L1074.0,330.5 L1076.3,331.0 L1079.9,331.5 L1084.6,332.0 L1090.6,332.5 L1097.7,333.0 L1105.9,333.5 L1115.3,334.0 L1125.6,334.5 L1136.8,335.0 L1148.6,335.5 L1160.8,336.0 L1173.1,336.5 L1185.3,337.0 L1197.0,337.5 L1208.1,338.0 L1218.4,338.5 L1227.6,339.0 L1235.8,339.5 L1242.8,340.0 L1248.6,340.5 L1253.2,341.0 L1256.6,341.5 L1258.8,342.0 L1260.0,342.5 L1260.6,343.0 L1260.7,343.5 L1260.7,344.0 L1260.7,344.5 L1260.6,345.0 L1260.6,345.5 L1260.5,346.0 L1260.4,346.5 L1260.4,347.0 L1260.3,347.5 L1260.3,348.0 L1260.2,348.5 L1260.1,349.0 L1260.1,349.5 L1260.0,350.0 L1260.0,350.5 L1259.9,351.0 L1259.8,351.5 L1259.8,352.0 L1259.7,352.5 L1259.7,353.0 L1259.6,353.5 L1259.5,354.0 L1259.5,354.5 L1259.4,355.0 L1259.4,355.5 L1259.3,356.0 L1259.2,356.5 L1259.1,357.0 L1259.0,357.5 L1258.6,358.0 L1257.8,358.5 L1256.2,359.0 L1253.6,359.5 L1249.7,360.0 L1244.7,360.5 L1238.5,361.0 L1231.1,361.5 L1222.7,362.0 L1213.2,362.5 L1202.7,363.0 L1191.5,363.5 L1179.7,364.0 L1167.6,364.5 L1155.5,365.0 L1143.6,365.5 L1132.1,366.0 L1121.4,366.5 L1111.5,367.0 L1102.7,367.5 L1094.9,368.0 L1088.3,368.5 L1082.8,369.0 L1078.6,369.5 L1075.5,370.0 L1073.5,370.5 L1072.4,371.0 L1071.9,371.5 L1071.8,372.0 L1071.7,372.5 L1071.7,373.0 L1071.7,373.5 L1071.7,374.0 L1071.7,374.5 L1071.7,375.0 L1071.7,375.5 L1071.7,376.0 L1071.7,376.5 L1071.7,377.0 L1071.7,377.5 L1071.7,378.0 L1071.7,378.5 L1071.8,379.0 L1072.0,379.5 L1072.7,380.0 L1074.1,380.5 L1076.5,381.0 L1080.1,381.5 L1084.9,382.0 L1090.9,382.5 L1098.1,383.0 L1106.4,383.5 L1115.8,384.0 L1126.2,384.5 L1137.4,385.0 L1149.2,385.5 L1161.4,386.0 L1173.7,386.5 L1185.9,387.0 L1197.6,387.5 L1208.7,388.0 L1218.9,388.5 L1228.1,389.0 L1236.2,389.5 L1243.1,390.0 L1248.9,390.5 L1253.4,391.0 L1256.7,391.5 L1258.9,392.0 L1260.0,392.5 L1260.5,393.0 L1260.7,393.5 L1260.7,394.0 L1260.6,394.5 L1260.6,395.0 L1260.5,395.5 L1260.4,396.0 L1260.4,396.5 L1260.3,397.0 L1260.2,397.5 L1260.2,398.0 L1260.1,398.5 L1260.0,399.0 L1260.0,399.5 L1259.9,400.0 L1259.8,400.5 L1259.8,401.0 L1259.7,401.5 L1259.6,402.0 L1259.6,402.5 L1259.5,403.0 L1259.4,403.5 L1259.4,404.0 L1259.3,404.5 L1259.2,405.0 L1259.1,405.5 L1258.8,406.0 L1258.1,406.5 L1256.6,407.0 L1254.2,407.5 L1250.6,408.0 L1245.8,408.5 L1239.8,409.0 L1232.7,409.5 L1224.4,410.0 L1215.1,410.5 L1204.9,411.0 L1193.8,411.5 L1182.1,412.0 L1170.1,412.5 L1157.9,413.0 L1145.9,413.5 L1134.3,414.0 L1123.4,414.5 L1113.4,415.0 L1104.3,415.5 L1096.4,416.0 L1089.5,416.5 L1083.9,417.0 L1079.3,417.5 L1076.0,418.0 L1073.8,418.5 L1072.6,419.0 L1072.0,419.5 L1071.8,420.0 L1071.7,420.5 L1071.7,421.0 L1071.7,421.5 L1071.7,422.0 L1071.7,422.5 L1071.7,423.0 L1071.7,423.5 L1071.7,424.0 L1071.7,424.5 L1071.7,425.0 L1071.7,425.5 L1071.7,426.0 L1071.7,426.5 L1071.7,427.0 L1071.8,427.5 L1071.9,428.0 L1072.4,428.5 L1073.4,429.0 L1075.3,429.5 L1078.3,430.0 L1082.6,430.5 L1088.1,431.0 L1094.7,431.5 L1102.5,432.0 L1111.4,432.5 L1121.4,433.0 L1132.2,433.5 L1143.8,434.0 L1155.9,434.5 L1168.2,435.0 L1180.4,435.5 L1192.4,436.0 L1203.8,436.5 L1214.4,437.0 L1224.1,437.5 L1232.7,438.0 L1240.1,438.5 L1246.4,439.0 L1251.5,439.5 L1255.4,440.0 L1258.1,440.5 L1259.6,441.0 L1260.4,441.5 L1260.7,442.0 L1260.7,442.5 L1260.7,443.0 L1260.6,443.5 L1260.5,444.0 L1260.5,444.5 L1260.4,445.0 L1260.3,445.5 L1260.3,446.0 L1260.2,446.5 L1260.1,447.0 L1260.1,447.5 L1260.0,448.0 L1259.9,448.5 L1259.9,449.0 L1259.8,449.5 L1259.7,450.0 L1259.7,450.5 L1259.6,451.0 L1259.5,451.5 L1259.5,452.0 L1259.4,452.5 L1259.3,453.0 L1259.3,453.5 L1259.1,454.0 L1258.9,454.5 L1258.4,455.0 L1257.4,455.5 L1255.4,456.0 L1252.3,456.5 L1248.1,457.0 L1242.6,457.5 L1236.0,458.0 L1228.3,458.5 L1219.5,459.0 L1209.6,459.5 L1198.9,460.0 L1187.4,460.5 L1175.5,461.0 L1163.4,461.5 L1151.3,462.0 L1139.5,462.5 L1128.2,463.0 L1117.8,463.5 L1108.3,464.0 L1099.8,464.5 L1092.5,465.0 L1086.3,465.5 L1081.2,466.0 L1077.3,466.5 L1074.6,467.0 L1073.0,467.5 L1072.2,468.0 L1071.8,468.5 L1071.7,469.0 L1071.7,469.5 L1071.7,470.0 L1071.7,470.5 L1071.7,471.0 L1071.7,471.5 L1071.7,472.0 L1071.7,472.5 L1071.7,473.0 L1071.7,473.5 L1071.7,474.0 L1071.7,474.5 L1071.7,475.0 L1071.7,475.5 L1071.7,476.0 L1071.7,476.5 L1071.7,477.0 L1071.7,477.5 L1071.7,478.0 L1071.7,478.5 L1071.7,479.0 L1071.7,479.5 L1071.7,480.0 L1071.7,480.5 L1071.7,481.0 L1071.7,481.5 L1071.7,482.0 L1071.7,482.5 L1071.7,483.0 L1071.7,483.5 L1071.7,484.0 L1071.7,484.5 L1071.7,485.0 L1071.7,485.5 L1071.7,486.0 L1071.7,486.5 L1071.7,487.0 L1071.7,487.5 L1071.7,488.0 L1071.7,488.5 L1071.7,489.0 L1071.7,489.5 L1071.7,490.0 L1071.7,490.5 L1071.7,491.0 L1071.7,491.5 L1071.7,492.0 L1071.7,492.5 L1071.7,493.0 L1071.7,493.5 L1071.7,494.0 L1071.7,494.5 L1071.7,495.0 L1071.7,495.5 L1071.7,496.0 L1071.7,496.5 L1071.7,497.0 L1071.7,497.5 L1071.7,498.0 L1071.7,498.5 L1071.7,499.0 L1071.7,499.5 L1071.7,500.0 L1071.7,500.5 L1071.7,501.0 L1071.7,501.5 L1071.7,502.0 L1071.7,502.5 L1071.7,503.0 L1071.7,503.5 L1071.7,504.0 L1071.7,504.5 L1071.7,505.0 L1071.7,505.5 L1071.7,506.0 L1071.7,506.5 L1071.7,507.0 L1071.7,507.5 L1071.7,508.0 L1071.7,508.5 L1071.7,509.0 L1071.7,509.5 L1071.7,510.0 L1071.7,510.5 L1071.7,511.0 L1071.7,511.5 L1071.7,512.0 L1071.7,512.5 L1071.7,513.0 L1071.7,513.5 L1071.7,514.0 L1071.7,514.5 L1071.7,515.0 L1071.7,515.5 L1071.7,516.0 L1071.7,516.5 L1071.7,517.0 L1071.7,517.5 L1071.7,518.0 L1071.7,518.5 L1071.7,519.0 L1071.7,519.5 L1071.7,520.0 L1071.7,520.5 L1071.7,521.0 L1071.7,521.5 L1071.7,522.0 L1071.7,522.5 L1071.7,523.0 L1071.7,523.5 L1071.7,524.0 L1071.7,524.5 L1071.7,525.0 L1071.7,525.5 L1071.7,526.0 L1071.7,526.5 L1071.7,527.0 L1071.7,527.5 L1071.7,528.0 L1071.7,528.5 L1071.7,529.0 L1071.7,529.5 L1071.7,530.0 L1071.7,530.5 L1071.7,531.0 L1071.7,531.5 L1071.7,532.0 L1071.7,532.5 L1071.7,533.0 L1071.7,533.5 L1071.7,534.0 L1071.7,534.5 L1071.7,535.0 L1071.7,535.5 L1071.7,536.0 L1071.7,536.5 L1071.7,537.0 L1071.7,537.5 L1071.7,538.0 L1071.7,538.5 L1071.7,539.0 L1071.7,539.5 L1071.7,540.0 L1071.7,540.5 L1071.7,541.0 L1071.7,541.5 L1071.7,542.0 L1071.7,542.5 L1071.7,543.0 L1071.7,543.5 L1071.7,544.0 L1071.7,544.5 L1071.7,545.0 L1071.7,545.5 L1071.7,546.0 L1071.7,546.5 L1071.8,547.0 L1072.2,547.5 L1073.0,548.0 L1074.6,548.5 L1077.4,549.0 L1081.3,549.5 L1086.5,550.0 L1092.8,550.5 L1100.3,551.0 L1108.9,551.5 L1118.6,552.0 L1129.2,552.5 L1140.6,553.0 L1152.6,553.5 L1164.8,554.0 L1177.1,554.5 L1189.2,555.0 L1200.8,555.5 L1211.6,556.0 L1221.6,556.5 L1230.5,557.0 L1238.2,557.5 L1244.8,558.0 L1250.3,558.5 L1254.5,559.0 L1257.4,559.5 L1259.3,560.0 L1260.2,560.5 L1260.6,561.0 L1260.7,561.5 L1260.7,562.0 L1260.6,562.5 L1260.5,563.0 L1260.5,563.5 L1260.4,564.0 L1260.3,564.5 L1260.3,565.0 L1260.2,565.5 L1260.1,566.0 L1260.1,566.5 L1260.0,567.0 L1259.9,567.5 L1259.9,568.0 L1259.8,568.5 L1259.7,569.0 L1259.7,569.5 L1259.6,570.0 L1259.5,570.5 L1259.5,571.0 L1259.4,571.5 L1259.3,572.0 L1259.3,572.5 L1259.2,573.0 L1259.0,573.5 L1258.5,574.0 L1257.5,574.5 L1255.6,575.0 L1252.7,575.5 L1248.5,576.0 L1243.2,576.5 L1236.7,577.0 L1229.0,577.5 L1220.3,578.0 L1210.6,578.5 L1199.9,579.0 L1188.5,579.5 L1176.6,580.0 L1164.5,580.5 L1152.4,581.0 L1140.5,581.5 L1129.3,582.0 L1118.7,582.5 L1109.1,583.0 L1100.6,583.5 L1093.1,584.0 L1086.8,584.5 L1081.7,585.0 L1077.7,585.5 L1074.8,586.0 L1073.1,586.5 L1072.2,587.0 L1071.9,587.5 L1071.7,588.0 L1071.7,588.5 L1071.7,589.0 L1071.7,589.5 L1071.7,590.0 L1071.7,590.5 L1071.7,591.0 L1071.7,591.5 L1071.7,592.0 L1071.7,592.5 L1071.7,593.0 L1071.7,593.5 L1071.8,594.0 L1071.9,594.5 L1072.5,595.0 L1073.6,595.5 L1075.6,596.0 L1078.8,596.5 L1083.3,597.0 L1088.9,597.5 L1095.7,598.0 L1103.7,598.5 L1112.7,599.0 L1122.8,599.5 L1133.7,600.0 L1145.4,600.5 L1157.5,601.0 L1169.8,601.5 L1182.1,602.0 L1194.0,602.5 L1205.3,603.0 L1215.8,603.5 L1225.3,604.0 L1233.7,604.5 L1241.1,605.0 L1247.2,605.5 L1252.2,606.0 L1255.9,606.5 L1258.4,607.0 L1259.8,607.5 L1260.5,608.0 L1260.7,608.5 L1260.7,609.0 L1260.7,609.5 L1260.6,610.0 L1260.5,610.5 L1260.5,611.0 L1260.4,611.5 L1260.3,612.0 L1260.3,612.5 L1260.2,613.0 L1260.1,613.5 L1260.1,614.0 L1260.0,614.5 L1259.9,615.0 L1259.9,615.5 L1259.8,616.0 L1259.7,616.5 L1259.7,617.0 L1259.6,617.5 L1259.5,618.0 L1259.5,618.5 L1259.4,619.0 L1259.3,619.5 L1259.3,620.0 L1259.2,620.5 L1259.0,621.0 L1258.7,621.5 L1257.9,622.0 L1256.4,622.5 L1253.8,623.0 L1250.0,623.5 L1245.0,624.0 L1238.8,624.5 L1231.5,625.0 L1223.1,625.5 L1213.7,626.0 L1203.3,626.5 L1192.1,627.0 L1180.3,627.5 L1168.2,628.0 L1156.1,628.5 L1144.1,629.0 L1132.7,629.5 L1121.9,630.0 L1112.0,630.5 L1103.1,631.0 L1095.3,631.5 L1088.6,632.0 L1083.1,632.5 L1078.8,633.0 L1075.6,633.5 L1073.6,634.0 L1072.4,634.5 L1071.9,635.0 L1071.8,635.5 L1071.7,636.0 L1071.7,636.5 L1071.7,637.0 L1071.7,637.5 L1071.7,638.0 L1071.7,638.5 L1071.7,639.0 L1071.7,639.5 L1071.7,640.0 L1071.7,640.5 L1071.8,641.0 L1071.9,641.5 L1072.4,642.0 L1073.5,642.5 L1075.5,643.0 L1078.6,643.5 L1083.0,644.0 L1088.5,644.5 L1095.3,645.0 L1103.2,645.5 L1112.1,646.0 L1122.2,646.5 L1133.1,647.0 L1144.7,647.5 L1156.8,648.0 L1169.1,648.5 L1181.4,649.0 L1193.3,649.5 L1204.6,650.0 L1215.2,650.5 L1224.8,651.0 L1233.3,651.5 L1240.7,652.0 L1246.9,652.5 L1251.9,653.0 L1255.7,653.5 L1258.3,654.0 L1259.8,654.5 L1260.5,655.0 L1260.7,655.5 L1260.8,656.0 L1260.7,656.5 L1260.7,657.0 L1260.6,657.5 L1260.6,658.0 L1260.5,658.5 L1260.4,659.0 L1260.4,659.5 L1260.3,660.0 L1260.3,660.5 L1260.2,661.0 L1260.1,661.5 L1260.1,662.0 L1260.0,662.5 L1260.0,663.0 L1259.9,663.5 L1259.9,664.0 L1259.8,664.5 L1259.7,665.0 L1259.7,665.5 L1259.6,666.0 L1259.6,666.5 L1259.5,667.0 L1259.5,667.5 L1259.4,668.0 L1259.3,668.5 L1259.3,669.0 L1259.2,669.5 L1259.1,670.0 L1259.0,670.5 L1258.7,671.0 L1257.9,671.5 L1256.4,672.0 L1253.9,672.5 L1250.2,673.0 L1245.3,673.5 L1239.2,674.0 L1232.0,674.5 L1223.6,675.0 L1214.2,675.5 L1203.9,676.0 L1192.8,676.5 L1181.0,677.0 L1169.0,677.5 L1156.8,678.0 L1144.8,678.5 L1133.3,679.0 L1122.5,679.5 L1112.5,680.0 L1103.6,680.5 L1095.7,681.0 L1089.0,681.5 L1083.4,682.0 L1079.0,682.5 L1075.7,683.0 L1073.6,683.5 L1072.5,684.0 L1072.0,684.5 L1071.8,685.0 L1071.7,685.5 L1071.7,686.0 L1071.7,686.5 L1071.7,687.0 L1071.7,687.5 L1071.7,688.0 L1071.7,688.5 L1071.7,689.0 L1071.7,689.5 L1071.7,690.0 L1071.7,690.5 L1071.9,691.0 L1072.2,691.5 L1073.1,692.0 L1074.9,692.5 L1077.8,693.0 L1081.8,693.5 L1087.1,694.0 L1093.6,694.5 L1101.2,695.0 L1109.9,695.5 L1119.7,696.0 L1130.4,696.5 L1141.9,697.0 L1153.9,697.5 L1166.2,698.0 L1178.5,698.5 L1190.5,699.0 L1202.0,699.5 L1212.8,700.0 L1222.6,700.5 L1231.4,701.0 L1239.0,701.5 L1245.5,702.0 L1250.8,702.5 L1254.9,703.0 L1257.7,703.5 L1259.5,704.0 L1260.3,704.5 L1260.7,705.0 L1260.7,705.5 L1260.7,706.0 L1260.6,706.5 L1260.6,707.0 L1260.5,707.5 L1260.5,708.0 L1260.4,708.5 L1260.3,709.0 L1260.3,709.5 L1260.2,710.0 L1260.1,710.5 L1260.1,711.0 L1260.0,711.5 L1260.0,712.0 L1259.9,712.5 L1259.8,713.0 L1259.8,713.5 L1259.7,714.0 L1259.6,714.5 L1259.6,715.0 L1259.5,715.5 L1259.5,716.0 L1259.4,716.5 L1259.3,717.0 L1259.3,717.5 L1259.2,718.0 L1259.1,718.5 L1258.8,719.0 L1258.3,719.5 L1257.1,720.0 L1255.0,720.5 L1251.7,721.0 L1247.3,721.5 L1241.6,722.0 L1234.8,722.5 L1226.9,723.0 L1217.9,723.5 L1207.9,724.0 L1197.1,724.5 L1185.5,725.0 L1173.6,725.5 L1161.4,726.0 L1149.3,726.5 L1137.6,727.0 L1126.5,727.5 L1116.2,728.0 L1106.8,728.5 L1098.6,729.0 L1091.4,729.5 L1085.4,730.0 L1080.5,730.5 L1076.8,731.0 L1074.3,731.5 L1072.8,732.0 L1072.1,732.5 L1071.8,733.0 L1071.7,733.5 L1071.7,734.0 L1071.7,734.5 L1071.7,735.0 L1071.7,735.5 L1071.7,736.0 L1071.7,736.5 L1071.7,737.0 L1071.7,737.5 L1071.7,738.0 L1071.7,738.5 L1071.7,739.0 L1071.8,739.5 L1071.9,740.0 L1072.4,740.5 L1073.4,741.0 L1075.4,741.5 L1078.5,742.0 L1082.8,742.5 L1088.3,743.0 L1095.0,743.5 L1102.8,744.0 L1111.7,744.5 L1121.7,745.0 L1132.6,745.5 L1144.2,746.0 L1156.3,746.5 L1168.6,747.0 L1180.9,747.5 L1192.8,748.0 L1204.2,748.5 L1214.8,749.0 L1224.4,749.5 L1232.9,750.0 L1240.4,750.5 L1246.6,751.0 L1251.7,751.5 L1255.6,752.0 L1258.2,752.5 L1259.7,753.0 L1260.5,753.5 L1260.7,754.0 L1260.7,754.5 L1260.7,755.0 L1260.7,755.5 L1260.6,756.0 L1260.5,756.5 L1260.5,757.0 L1260.4,757.5 L1260.4,758.0 L1260.3,758.5 L1260.2,759.0 L1260.2,759.5 L1260.1,760.0 L1260.1,760.5 L1260.0,761.0 L1259.9,761.5 L1259.9,762.0 L1259.8,762.5 L1259.8,763.0 L1259.7,763.5 L1259.6,764.0 L1259.6,764.5 L1259.5,765.0 L1259.5,765.5 L1259.4,766.0 L1259.3,766.5 L1259.3,767.0 L1259.2,767.5 L1259.1,768.0 L1259.0,768.5 L1258.6,769.0 L1257.7,769.5 L1256.0,770.0 L1253.2,770.5 L1249.3,771.0 L1244.1,771.5 L1237.8,772.0 L1230.3,772.5 L1221.8,773.0 L1212.2,773.5 L1201.7,774.0 L1190.4,774.5 L1178.5,775.0 L1166.4,775.5 L1154.3,776.0 L1142.4,776.5 L1131.0,777.0 L1120.3,777.5 L1110.6,778.0 L1101.8,778.5 L1094.2,779.0 L1087.7,779.5 L1082.4,780.0 L1078.2,780.5 L1075.2,781.0 L1073.3,781.5 L1072.3,782.0 L1071.9,782.5 L1071.8,783.0 L1071.7,783.5 L1071.7,784.0 L1071.7,784.5 L1071.7,785.0 L1071.7,785.5 L1071.7,786.0 L1071.7,786.5 L1071.7,787.0 L1071.7,787.5 L1071.7,788.0 L1071.7,788.5 L1071.7,789.0 L1071.8,789.5 L1071.9,790.0 L1072.4,790.5 L1073.5,791.0 L1075.5,791.5 L1078.7,792.0 L1083.0,792.5 L1088.6,793.0 L1095.3,793.5 L1103.2,794.0 L1112.2,794.5 L1122.3,795.0 L1133.2,795.5 L1144.8,796.0 L1156.9,796.5 L1169.2,797.0 L1181.5,797.5 L1193.4,798.0 L1204.7,798.5 L1215.3,799.0 L1224.8,799.5 L1233.4,800.0 L1240.7,800.5 L1246.9,801.0 L1251.9,801.5 L1255.7,802.0 L1258.3,802.5 L1259.8,803.0 L1260.5,803.5 L1260.7,804.0 L1260.7,804.5 L1260.7,805.0 L1260.6,805.5 L1260.6,806.0 L1260.5,806.5 L1260.4,807.0 L1260.4,807.5 L1260.3,808.0 L1260.3,808.5 L1260.2,809.0 L1260.1,809.5 L1260.1,810.0 L1260.0,810.5 L1260.0,811.0 L1259.9,811.5 L1259.8,812.0 L1259.8,812.5 L1259.7,813.0 L1259.6,813.5 L1259.6,814.0 L1259.5,814.5 L1259.5,815.0 L1259.4,815.5 L1259.3,816.0 L1259.3,816.5 L1259.2,817.0 L1259.1,817.5 L1258.9,818.0 L1258.4,818.5 L1257.3,819.0 L1255.3,819.5 L1252.1,820.0 L1247.8,820.5 L1242.3,821.0 L1235.7,821.5 L1227.9,822.0 L1219.0,822.5 L1209.1,823.0 L1198.3,823.5 L1186.9,824.0 L1174.9,824.5 L1162.8,825.0 L1150.7,825.5 L1138.9,826.0 L1127.7,826.5 L1117.3,827.0 L1107.8,827.5 L1099.4,828.0 L1092.2,828.5 L1086.0,829.0 L1081.0,829.5 L1077.2,830.0 L1074.5,830.5 L1072.9,831.0 L1072.1,831.5 L1071.8,832.0 L1071.7,832.5 L1071.7,833.0 L1071.7,833.5 L1071.7,834.0 L1071.7,834.5 L1071.7,835.0 L1071.7,835.5 L1071.7,836.0 L1071.7,836.5 L1071.7,837.0 L1071.7,837.5 L1071.7,838.0 L1071.8,838.5 L1071.9,839.0 L1072.4,839.5 L1073.5,840.0 L1075.5,840.5 L1078.7,841.0 L1083.1,841.5 L1088.7,842.0 L1095.4,842.5 L1103.4,843.0 L1112.4,843.5 L1122.4,844.0 L1133.3,844.5 L1145.0,845.0 L1157.1,845.5 L1169.4,846.0 L1181.7,846.5 L1193.6,847.0 L1204.9,847.5 L1215.4,848.0 L1225.0,848.5 L1233.5,849.0 L1240.8,849.5 L1247.0,850.0 L1252.0,850.5 L1255.8,851.0 L1258.3,851.5 L1259.8,852.0 L1260.5,852.5 L1260.7,853.0 L1260.7,853.5 L1260.7,854.0 L1260.6,854.5 L1260.6,855.0 L1260.5,855.5 L1260.5,856.0 L1260.4,856.5 L1260.4,857.0 L1260.3,857.5 L1260.2,858.0 L1260.2,858.5 L1260.1,859.0 L1260.1,859.5 L1260.0,860.0 L1259.9,860.5 L1259.9,861.0 L1259.8,861.5 L1259.8,862.0 L1259.7,862.5 L1259.6,863.0 L1259.6,863.5 L1259.5,864.0 L1259.5,864.5 L1259.4,865.0 L1259.3,865.5 L1259.3,866.0 L1259.2,866.5 L1259.1,867.0 L1258.9,867.5 L1258.5,868.0 L1257.6,868.5 L1255.8,869.0 L1253.0,869.5 L1249.0,870.0 L1243.7,870.5 L1237.3,871.0 L1229.8,871.5 L1221.2,872.0 L1211.5,872.5 L1200.9,873.0 L1189.6,873.5 L1177.8,874.0 L1165.6,874.5 L1153.5,875.0 L1141.6,875.5 L1130.3,876.0 L1119.7,876.5 L1110.0,877.0 L1101.3,877.5 L1093.7,878.0 L1087.3,878.5 L1082.0,879.0 L1078.0,879.5 L1075.1,880.0 L1073.2,880.5 L1072.3,881.0 L1071.9,881.5 L1071.7,882.0 L1071.7,882.5 L1071.7,883.0 L1071.7,883.5 L1071.7,884.0 L1071.7,884.5 L1071.7,885.0 L1071.7,885.5 L1071.7,886.0 L1071.7,886.5 L1071.8,887.0 L1071.9,887.5 L1072.4,888.0 L1073.4,888.5 L1075.3,889.0 L1078.4,889.5 L1082.6,890.0 L1088.1,890.5 L1094.8,891.0 L1102.6,891.5 L1111.5,892.0 L1121.4,892.5 L1132.3,893.0 L1143.9,893.5 L1155.9,894.0 L1168.3,894.5 L1180.5,895.0 L1192.5,895.5 L1203.9,896.0 L1214.5,896.5 L1224.1,897.0 L1232.7,897.5 L1240.2,898.0 L1246.5,898.5 L1251.6,899.0 L1255.5,899.5 L1258.1,900.0 L1259.7,900.5 L1260.4,901.0 L1260.7,901.5 L1260.8,902.0 L1260.7,902.5 L1260.7,903.0 L1260.6,903.5 L1260.6,904.0 L1260.5,904.5 L1260.4,905.0 L1260.4,905.5 L1260.3,906.0 L1260.3,906.5 L1260.2,907.0 L1260.2,907.5 L1260.1,908.0 L1260.0,908.5 L1260.0,909.0 L1259.9,909.5 L1259.9,910.0 L1259.8,910.5 L1259.8,911.0 L1259.7,911.5 L1259.6,912.0 L1259.6,912.5 L1259.5,913.0 L1259.5,913.5 L1259.4,914.0 L1259.4,914.5 L1259.3,915.0 L1259.2,915.5 L1259.2,916.0 L1259.1,916.5 L1258.9,917.0 L1258.4,917.5 L1257.4,918.0 L1255.5,918.5 L1252.6,919.0 L1248.4,919.5 L1243.0,920.0 L1236.5,920.5 L1228.8,921.0 L1220.1,921.5 L1210.3,922.0 L1199.6,922.5 L1188.2,923.0 L1176.3,923.5 L1164.2,924.0 L1152.0,924.5 L1140.2,925.0 L1128.9,925.5 L1118.4,926.0 L1108.9,926.5 L1100.3,927.0 L1092.9,927.5 L1086.6,928.0 L1081.5,928.5 L1077.5,929.0 L1074.8,929.5 L1073.1,930.0 L1072.2,930.5 L1071.9,931.0 L1071.7,931.5 L1071.7,932.0 L1071.7,932.5 L1071.7,933.0 L1071.7,933.5 L1071.7,934.0 L1071.7,934.5 L1071.7,935.0 L1071.7,935.5 L1071.7,936.0 L1071.7,936.5 L1071.8,937.0 L1072.0,937.5 L1072.5,938.0 L1073.7,938.5 L1075.9,939.0 L1079.2,939.5 L1083.8,940.0 L1089.5,940.5 L1096.5,941.0 L1104.5,941.5 L1113.7,942.0 L1123.9,942.5 L1134.9,943.0 L1146.6,943.5 L1158.8,944.0 L1171.1,944.5 L1183.3,945.0 L1195.2,945.5 L1206.4,946.0 L1216.8,946.5 L1226.2,947.0 L1234.5,947.5 L1241.7,948.0 L1247.8,948.5 L1252.6,949.0 L1256.2,949.5 L1258.6,950.0 L1259.9,950.5 L1260.5,951.0 L1260.7,951.5 L1260.7,952.0 L1260.7,952.5 L1260.7,953.0 L1260.6,953.5 L1260.5,954.0 L1260.5,954.5 L1260.4,955.0 L1260.4,955.5 L1260.3,956.0 L1260.2,956.5 L1260.2,957.0 L1260.1,957.5 L1260.1,958.0 L1260.0,958.5 L1260.0,959.0 L1259.9,959.5 L1259.8,960.0 L1259.8,960.5 L1259.7,961.0 L1259.7,961.5 L1259.6,962.0 L1259.5,962.5 L1259.5,963.0 L1259.4,963.5 L1259.4,964.0 L1259.3,964.5 L1259.2,965.0 L1259.2,965.5 L1259.1,966.0 L1258.9,966.5 L1258.3,967.0 L1257.2,967.5 L1255.2,968.0 L1252.1,968.5 L1247.8,969.0 L1242.3,969.5 L1235.6,970.0 L1227.8,970.5 L1218.9,971.0 L1209.0,971.5 L1198.2,972.0 L1186.8,972.5 L1174.8,973.0 L1162.7,973.5 L1150.6,974.0 L1138.8,974.5 L1127.6,975.0 L1117.2,975.5 L1107.8,976.0 L1099.4,976.5 L1092.1,977.0 L1085.9,977.5 L1080.9,978.0 L1077.1,978.5 L1074.5,979.0 L1072.9,979.5 L1072.1,980.0 L1071.8,980.5 L1071.7,981.0 L1071.7,981.5 L1071.7,982.0 L1071.7,982.5 L1071.7,983.0 L1071.7,983.5 L1071.7,984.0 L1071.7,984.5 L1071.7,985.0 L1071.7,985.5 L1071.7,986.0 L1071.8,986.5 L1071.9,987.0 L1072.4,987.5 L1073.4,988.0 L1075.3,988.5 L1078.3,989.0 L1082.6,989.5 L1088.1,990.0 L1094.7,990.5 L1102.5,991.0 L1111.4,991.5 L1121.4,992.0 L1132.2,992.5 L1143.8,993.0 L1155.9,993.5 L1168.2,994.0 L1180.5,994.5 L1192.4,995.0 L1203.8,995.5 L1214.4,996.0 L1224.1,996.5 L1232.7,997.0 L1240.2,997.5 L1246.5,998.0 L1251.6,998.5 L1255.4,999.0 L1258.1,999.5 L1259.7,1000.0 L1260.4,1000.5 L1260.7,1001.0 L1260.7,1001.5 L1260.7,1002.0 L1260.7,1002.5 L1260.6,1003.0 L1260.5,1003.5 L1260.5,1004.0 L1260.4,1004.5 L1260.4,1005.0 L1260.3,1005.5 L1260.2,1006.0 L1260.2,1006.5 L1260.1,1007.0 L1260.1,1007.5 L1260.0,1008.0 L1259.9,1008.5 L1259.9,1009.0 L1259.8,1009.5 L1259.8,1010.0 L1259.7,1010.5 L1259.6,1011.0 L1259.6,1011.5 L1259.5,1012.0 L1259.5,1012.5 L1259.4,1013.0 L1259.4,1013.5 L1259.3,1014.0 L1259.2,1014.5 L1259.2,1015.0 L1259.0,1015.5 L1258.7,1016.0 L1258.0,1016.5 L1256.5,1017.0 L1253.9,1017.5 L1250.2,1018.0 L1245.3,1018.5 L1239.2,1019.0 L1232.0,1019.5 L1223.7,1020.0 L1214.3,1020.5 L1203.9,1021.0 L1192.8,1021.5 L1181.1,1022.0 L1169.0,1022.5 L1156.8,1023.0 L1144.9,1023.5 L1133.4,1024.0 L1122.5,1024.5 L1112.5,1025.0 L1103.6,1025.5 L1095.7,1026.0 L1089.0,1026.5 L1083.4,1027.0 L1079.0,1027.5 L1075.8,1028.0 L1073.7,1028.5 L1072.5,1029.0 L1072.0,1029.5 L1071.8,1030.0 L1071.7,1030.5 L1071.7,1031.0 L1071.7,1031.5 L1071.7,1032.0 L1071.7,1032.5 L1071.7,1033.0 L1071.7,1033.3 L1077.4,1036.0 L1103.9,1038.7 L1128.5,1040.8 L1140.9,1042.6 L1142.2,1043.8 L1136.1,1044.9 L1124.8,1046.0 L1103.9,1048.3 L1098.2,1049.5 L1094.4,1052.0" stroke="#0000ff"/>
</g>
<circle cx="1410.7" cy="148.0" r="5" fill="#0000ff" fill-opacity="0.5" clip-path="url(#crt)"/>
<circle cx="1385.3" cy="170.7" r="5" fill="#0000ff" fill-opacity="0.5"/>
<circle cx="1385.3" cy="190.1" r="5" fill="#0000ff" fill-opacity="0.5"/>
<circle cx="1376.7" cy="219.4" r="5" fill="#0000ff" fill-opacity="0.5"/>
<circle cx="1376.7" cy="238.2" r="5" fill="#0000ff" fill-opacity="0.5"/>
<circle cx="1376.7" cy="267.9" r="5" fill="#0000ff" fill-opacity="0.5"/>
<circle cx="1376.7" cy="287.5" r="5" fill="#0000ff" fill-opacity="0.5"/>
<circle cx="1376.7" cy="316.3" r="5" fill="#0000ff" fill-opacity="0.5"/>
<circle cx="1376.7" cy="336.2" r="5" fill="#0000ff" fill-opacity="0.5"/>
<circle cx="1376.7" cy="364.6" r="5" fill="#0000ff" fill-opacity="0.5"/>
<circle cx="1376.7" cy="386.2" r="5" fill="#0000ff" fill-opacity="0.5"/>
<circle cx="1376.7" cy="412.7" r="5" fill="#0000ff" fill-opacity="0.5"/>
<circle cx="1376.7" cy="434.9" r="5" fill="#0000ff" fill-opacity="0.5"/>
<circle cx="1376.7" cy="461.4" r="5" fill="#0000ff" fill-opacity="0.5"/>
<circle cx="1376.7" cy="554.1" r="5" fill="#0000ff" fill-opacity="0.5"/>
<circle cx="1376.7" cy="580.5" r="5" fill="#0000ff" fill-opacity="0.5"/>
<circle cx="1376.7" cy="601.4" r="5" fill="#0000ff" fill-opacity="0.5"/>
<circle cx="1376.7" cy="628.1" r="5" fill="#0000ff" fill-opacity="0.5"/>
<circle cx="1376.7" cy="648.4" r="5" fill="#0000ff" fill-opacity="0.5"/>
<circle cx="1376.7" cy="677.7" r="5" fill="#0000ff" fill-opacity="0.5"/>
<circle cx="1376.7" cy="698.0" r="5" fill="#0000ff" fill-opacity="0.5"/>
<circle cx="1376.7" cy="725.9" r="5" fill="#0000ff" fill-opacity="0.5"/>
<circle cx="1376.7" cy="746.9" r="5" fill="#0000ff" fill-opacity="0.5"/>
<circle cx="1376.7" cy="775.6" r="5" fill="#0000ff" fill-opacity="0.5"/>
<circle cx="1376.7" cy="796.9" r="5" fill="#0000ff" fill-opacity="0.5"/>
<circle cx="1376.7" cy="824.9" r="5" fill="#0000ff" fill-opacity="0.5"/>
<circle cx="1376.7" cy="845.9" r="5" fill="#0000ff" fill-opacity="0.5"/>
<circle cx="1376.7" cy="874.5" r="5" fill="#0000ff" fill-opacity="0.5"/>
<circle cx="1376.7" cy="894.4" r="5" fill="#0000ff" fill-opacity="0.5"/>
<circle cx="1376.7" cy="924.0" r="5" fill="#0000ff" fill-opacity="0.5"/>
<circle cx="1376.7" cy="944.3" r="5" fill="#0000ff" fill-opacity="0.5"/>
<circle cx="1376.7" cy="973.4" r="5" fill="#0000ff" fill-opacity="0.5"/>
<circle cx="1376.7" cy="993.9" r="5" fill="#0000ff" fill-opacity="0.5"/>
<circle cx="1376.7" cy="1022.7" r="5" fill="#0000ff" fill-opacity="0.5"/>
<g clip-path="url(#crt)" fill="none" stroke-linejoin="round" stroke-linecap="round">
<path d="M1342.5,144.5 L1354.1,145.0 L1366.2,145.5 L1378.5,146.0 L1390.7,146.5 L1402.6,147.0 L1414.0,147.5 L1424.5,148.0 L1434.1,148.5 L1442.6,149.0 L1450.0,149.5 L1456.2,150.0 L1461.2,150.5 L1465.0,151.0 L1467.6,151.5 L1469.1,152.0 L1469.8,152.5 L1470.0,153.0 L1470.0,153.5 L1470.0,154.0 L1469.9,154.5 L1469.9,155.0 L1469.8,155.5 L1469.7,156.0 L1469.6,156.5 L1469.6,157.0 L1469.5,157.5 L1469.4,158.0 L1469.4,158.5 L1469.3,159.0 L1469.2,159.5 L1469.2,160.0 L1469.1,160.5 L1469.0,161.0 L1469.0,161.5 L1468.9,162.0 L1468.8,162.5 L1468.7,163.0 L1468.6,163.5 L1468.3,164.0 L1467.6,164.5 L1466.1,165.0 L1463.7,165.5 L1460.1,166.0 L1455.3,166.5 L1449.3,167.0 L1442.3,167.5 L1434.1,168.0 L1425.0,168.5 L1414.9,169.0 L1404.1,169.5 L1392.8,170.0 L1381.1,170.5 L1369.5,171.0 L1358.2,171.5 L1347.4,172.0 L1337.4,172.5 L1328.5,173.0 L1320.6,173.5 L1314.0,174.0 L1308.6,174.5 L1304.4,175.0 L1301.3,175.5 L1299.1,176.0 L1297.8,176.5 L1297.1,177.0 L1296.9,177.5 L1297.1,178.0 L1297.4,178.5 L1297.9,179.0 L1298.4,179.5 L1298.8,180.0 L1299.1,180.5 L1299.2,181.0 L1299.2,181.5 L1299.1,182.0 L1299.0,182.5 L1299.0,183.0 L1299.1,183.5 L1299.6,184.0 L1300.6,184.5 L1302.3,185.0 L1304.8,185.5 L1308.3,186.0 L1312.9,186.5 L1318.7,187.0 L1325.7,187.5 L1333.9,188.0 L1343.2,188.5 L1353.4,189.0 L1364.4,189.5 L1375.8,190.0 L1387.4,190.5 L1399.0,191.0 L1410.2,191.5 L1420.8,192.0 L1430.5,192.5 L1439.4,193.0 L1447.1,193.5 L1453.8,194.0 L1459.3,194.5 L1463.6,195.0 L1466.7,195.5 L1468.7,196.0 L1469.7,196.5 L1470.1,197.0 L1470.2,197.5 L1470.2,198.0 L1470.2,198.5 L1470.1,199.0 L1470.1,199.5 L1470.0,200.0 L1470.0,200.5 L1469.9,201.0 L1469.8,201.5 L1469.8,202.0 L1469.7,202.5 L1469.7,203.0 L1469.6,203.5 L1469.6,204.0 L1469.5,204.5 L1469.4,205.0 L1469.4,205.5 L1469.3,206.0 L1469.3,206.5 L1469.2,207.0 L1469.2,207.5 L1469.1,208.0 L1469.0,208.5 L1469.0,209.0 L1468.9,209.5 L1468.9,210.0 L1468.8,210.5 L1468.7,211.0 L1468.7,211.5 L1468.6,212.0 L1468.4,212.5 L1467.9,213.0 L1466.8,213.5 L1464.8,214.0 L1461.7,214.5 L1457.4,215.0 L1451.9,215.5 L1445.3,216.0 L1437.5,216.5 L1428.6,217.0 L1418.8,217.5 L1408.0,218.0 L1396.6,218.5 L1384.6,219.0 L1372.5,219.5 L1360.4,220.0 L1348.6,220.5 L1337.4,221.0 L1327.0,221.5 L1317.5,222.0 L1309.1,222.5 L1301.8,223.0 L1295.7,223.5 L1290.6,224.0 L1286.8,224.5 L1284.1,225.0 L1282.5,225.5 L1281.7,226.0 L1281.4,226.5 L1281.3,227.0 L1281.3,227.5 L1281.3,228.0 L1281.3,228.5 L1281.3,229.0 L1281.3,229.5 L1281.3,230.0 L1281.3,230.5 L1281.4,231.0 L1281.6,231.5 L1282.2,232.0 L1283.5,232.5 L1285.9,233.0 L1289.4,233.5 L1294.1,234.0 L1300.0,234.5 L1307.1,235.0 L1315.3,235.5 L1324.6,236.0 L1334.9,236.5 L1346.0,237.0 L1357.8,237.5 L1370.0,238.0 L1382.3,238.5 L1394.5,239.0 L1406.2,239.5 L1417.4,240.0 L1427.6,240.5 L1436.9,241.0 L1445.1,241.5 L1452.1,242.0 L1458.0,242.5 L1462.6,243.0 L1466.0,243.5 L1468.3,244.0 L1469.5,244.5 L1470.1,245.0 L1470.2,245.5 L1470.3,246.0 L1470.2,246.5 L1470.2,247.0 L1470.1,247.5 L1470.0,248.0 L1470.0,248.5 L1469.9,249.0 L1469.9,249.5 L1469.8,250.0 L1469.8,250.5 L1469.7,251.0 L1469.6,251.5 L1469.6,252.0 L1469.5,252.5 L1469.5,253.0 L1469.4,253.5 L1469.4,254.0 L1469.3,254.5 L1469.2,255.0 L1469.2,255.5 L1469.1,256.0 L1469.1,256.5 L1469.0,257.0 L1469.0,257.5 L1468.9,258.0 L1468.8,258.5 L1468.8,259.0 L1468.7,259.5 L1468.7,260.0 L1468.6,260.5 L1468.3,261.0 L1467.8,261.5 L1466.6,262.0 L1464.6,262.5 L1461.4,263.0 L1457.0,263.5 L1451.4,264.0 L1444.7,264.5 L1436.8,265.0 L1427.8,265.5 L1417.9,266.0 L1407.1,266.5 L1395.6,267.0 L1383.6,267.5 L1371.5,268.0 L1359.4,268.5 L1347.6,269.0 L1336.5,269.5 L1326.2,270.0 L1316.8,270.5 L1308.5,271.0 L1301.3,271.5 L1295.2,272.0 L1290.3,272.5 L1286.5,273.0 L1283.9,273.5 L1282.4,274.0 L1281.7,274.5 L1281.4,275.0 L1281.3,275.5 L1281.3,276.0 L1281.3,276.5 L1281.3,277.0 L1281.3,277.5 L1281.3,278.0 L1281.3,278.5 L1281.3,279.0 L1281.3,279.5 L1281.3,280.0 L1281.5,280.5 L1281.8,281.0 L1282.8,281.5 L1284.5,282.0 L1287.4,282.5 L1291.5,283.0 L1296.8,283.5 L1303.2,284.0 L1310.8,284.5 L1319.6,285.0 L1329.4,285.5 L1340.1,286.0 L1351.6,286.5 L1363.6,287.0 L1375.9,287.5 L1388.2,288.0 L1400.2,288.5 L1411.7,289.0 L1422.4,289.5 L1432.2,290.0 L1441.0,290.5 L1448.6,291.0 L1455.1,291.5 L1460.4,292.0 L1464.4,292.5 L1467.3,293.0 L1469.0,293.5 L1469.8,294.0 L1470.2,294.5 L1470.2,295.0 L1470.2,295.5 L1470.2,296.0 L1470.1,296.5 L1470.1,297.0 L1470.0,297.5 L1469.9,298.0 L1469.9,298.5 L1469.8,299.0 L1469.8,299.5 L1469.7,300.0 L1469.6,300.5 L1469.6,301.0 L1469.5,301.5 L1469.5,302.0 L1469.4,302.5 L1469.3,303.0 L1469.3,303.5 L1469.2,304.0 L1469.2,304.5 L1469.1,305.0 L1469.0,305.5 L1469.0,306.0 L1468.9,306.5 L1468.9,307.0 L1468.8,307.5 L1468.7,308.0 L1468.7,308.5 L1468.6,309.0 L1468.3,309.5 L1467.7,310.0 L1466.5,310.5 L1464.3,311.0 L1461.0,311.5 L1456.5,312.0 L1450.9,312.5 L1444.0,313.0 L1436.1,313.5 L1427.0,314.0 L1417.0,314.5 L1406.1,315.0 L1394.6,315.5 L1382.6,316.0 L1370.4,316.5 L1358.4,317.0 L1346.7,317.5 L1335.6,318.0 L1325.3,318.5 L1316.0,319.0 L1307.8,319.5 L1300.7,320.0 L1294.7,320.5 L1289.9,321.0 L1286.3,321.5 L1283.8,322.0 L1282.3,322.5 L1281.7,323.0 L1281.4,323.5 L1281.3,324.0 L1281.3,324.5 L1281.3,325.0 L1281.3,325.5 L1281.3,326.0 L1281.3,326.5 L1281.3,327.0 L1281.3,327.5 L1281.3,328.0 L1281.3,328.5 L1281.4,329.0 L1281.6,329.5 L1282.3,330.0 L1283.6,330.5 L1285.9,331.0 L1289.5,331.5 L1294.2,332.0 L1300.2,332.5 L1307.3,333.0 L1315.5,333.5 L1324.9,334.0 L1335.2,334.5 L1346.3,335.0 L1358.1,335.5 L1370.3,336.0 L1382.6,336.5 L1394.8,337.0 L1406.6,337.5 L1417.7,338.0 L1427.9,338.5 L1437.2,339.0 L1445.3,339.5 L1452.3,340.0 L1458.1,340.5 L1462.7,341.0 L1466.1,341.5 L1468.3,342.0 L1469.5,342.5 L1470.1,343.0 L1470.2,343.5 L1470.2,344.0 L1470.2,344.5 L1470.1,345.0 L1470.1,345.5 L1470.0,346.0 L1469.9,346.5 L1469.9,347.0 L1469.8,347.5 L1469.8,348.0 L1469.7,348.5 L1469.6,349.0 L1469.6,349.5 L1469.5,350.0 L1469.5,350.5 L1469.4,351.0 L1469.3,351.5 L1469.3,352.0 L1469.2,352.5 L1469.2,353.0 L1469.1,353.5 L1469.0,354.0 L1469.0,354.5 L1468.9,355.0 L1468.9,355.5 L1468.8,356.0 L1468.7,356.5 L1468.6,357.0 L1468.5,357.5 L1468.1,358.0 L1467.3,358.5 L1465.7,359.0 L1463.1,359.5 L1459.2,360.0 L1454.2,360.5 L1448.0,361.0 L1440.6,361.5 L1432.2,362.0 L1422.7,362.5 L1412.3,363.0 L1401.1,363.5 L1389.3,364.0 L1377.2,364.5 L1365.0,365.0 L1353.1,365.5 L1341.7,366.0 L1330.9,366.5 L1321.1,367.0 L1312.2,367.5 L1304.5,368.0 L1297.9,368.5 L1292.4,369.0 L1288.2,369.5 L1285.1,370.0 L1283.1,370.5 L1282.0,371.0 L1281.5,371.5 L1281.4,372.0 L1281.3,372.5 L1281.3,373.0 L1281.3,373.5 L1281.3,374.0 L1281.3,374.5 L1281.3,375.0 L1281.3,375.5 L1281.3,376.0 L1281.3,376.5 L1281.3,377.0 L1281.3,377.5 L1281.3,378.0 L1281.3,378.5 L1281.4,379.0 L1281.6,379.5 L1282.3,380.0 L1283.7,380.5 L1286.1,381.0 L1289.7,381.5 L1294.5,382.0 L1300.5,382.5 L1307.7,383.0 L1316.0,383.5 L1325.4,384.0 L1335.7,384.5 L1346.9,385.0 L1358.7,385.5 L1370.9,386.0 L1383.3,386.5 L1395.4,387.0 L1407.1,387.5 L1418.2,388.0 L1428.4,388.5 L1437.6,389.0 L1445.7,389.5 L1452.6,390.0 L1458.4,390.5 L1462.9,391.0 L1466.2,391.5 L1468.4,392.0 L1469.5,392.5 L1470.0,393.0 L1470.2,393.5 L1470.2,394.0 L1470.1,394.5 L1470.1,395.0 L1470.0,395.5 L1469.9,396.0 L1469.9,396.5 L1469.8,397.0 L1469.7,397.5 L1469.7,398.0 L1469.6,398.5 L1469.5,399.0 L1469.5,399.5 L1469.4,400.0 L1469.3,400.5 L1469.3,401.0 L1469.2,401.5 L1469.1,402.0 L1469.1,402.5 L1469.0,403.0 L1468.9,403.5 L1468.9,404.0 L1468.8,404.5 L1468.7,405.0 L1468.6,405.5 L1468.3,406.0 L1467.6,406.5 L1466.1,407.0 L1463.7,407.5 L1460.1,408.0 L1455.3,408.5 L1449.3,409.0 L1442.2,409.5 L1434.0,410.0 L1424.7,410.5 L1414.4,411.0 L1403.3,411.5 L1391.7,412.0 L1379.6,412.5 L1367.5,413.0 L1355.5,413.5 L1343.9,414.0 L1333.0,414.5 L1323.0,415.0 L1313.9,415.5 L1306.0,416.0 L1299.1,416.5 L1293.5,417.0 L1288.9,417.5 L1285.6,418.0 L1283.4,418.5 L1282.2,419.0 L1281.6,419.5 L1281.4,420.0 L1281.3,420.5 L1281.3,421.0 L1281.3,421.5 L1281.3,422.0 L1281.3,422.5 L1281.3,423.0 L1281.3,423.5 L1281.3,424.0 L1281.3,424.5 L1281.3,425.0 L1281.3,425.5 L1281.3,426.0 L1281.3,426.5 L1281.3,427.0 L1281.4,427.5 L1281.5,428.0 L1282.0,428.5 L1283.0,429.0 L1284.9,429.5 L1287.9,430.0 L1292.2,430.5 L1297.7,431.0 L1304.3,431.5 L1312.1,432.0 L1321.0,432.5 L1330.9,433.0 L1341.8,433.5 L1353.4,434.0 L1365.4,434.5 L1377.7,435.0 L1390.0,435.5 L1401.9,436.0 L1413.3,436.5 L1423.9,437.0 L1433.6,437.5 L1442.2,438.0 L1449.7,438.5 L1455.9,439.0 L1461.1,439.5 L1464.9,440.0 L1467.6,440.5 L1469.1,441.0 L1469.9,441.5 L1470.2,442.0 L1470.2,442.5 L1470.2,443.0 L1470.1,443.5 L1470.0,444.0 L1470.0,444.5 L1469.9,445.0 L1469.8,445.5 L1469.8,446.0 L1469.7,446.5 L1469.6,447.0 L1469.6,447.5 L1469.5,448.0 L1469.4,448.5 L1469.4,449.0 L1469.3,449.5 L1469.2,450.0 L1469.2,450.5 L1469.1,451.0 L1469.0,451.5 L1469.0,452.0 L1468.9,452.5 L1468.8,453.0 L1468.8,453.5 L1468.6,454.0 L1468.4,454.5 L1467.9,455.0 L1466.9,455.5 L1464.9,456.0 L1461.8,456.5 L1457.6,457.0 L1452.1,457.5 L1445.5,458.0 L1437.8,458.5 L1429.0,459.0 L1419.1,459.5 L1408.4,460.0 L1397.0,460.5 L1385.1,461.0 L1372.9,461.5 L1360.8,462.0 L1349.0,462.5 L1337.8,463.0 L1327.4,463.5 L1317.9,464.0 L1309.4,464.5 L1302.1,465.0 L1295.9,465.5 L1290.8,466.0 L1286.9,466.5 L1284.2,467.0 L1282.6,467.5 L1281.8,468.0 L1281.4,468.5 L1281.3,469.0 L1281.3,469.5 L1281.3,470.0 L1281.3,470.5 L1281.3,471.0 L1281.3,471.5 L1281.3,472.0 L1281.3,472.5 L1281.3,473.0 L1281.3,473.5 L1281.3,474.0 L1281.3,474.5 L1281.3,475.0 L1281.3,475.5 L1281.3,476.0 L1281.3,476.5 L1281.3,477.0 L1281.3,477.5 L1281.3,478.0 L1281.3,478.5 L1281.3,479.0 L1281.3,479.5 L1281.3,480.0 L1281.3,480.5 L1281.3,481.0 L1281.3,481.5 L1281.3,482.0 L1281.3,482.5 L1281.3,483.0 L1281.3,483.5 L1281.3,484.0 L1281.3,484.5 L1281.3,485.0 L1281.3,485.5 L1281.3,486.0 L1281.3,486.5 L1281.3,487.0 L1281.3,487.5 L1281.3,488.0 L1281.3,488.5 L1281.3,489.0 L1281.3,489.5 L1281.3,490.0 L1281.3,490.5 L1281.3,491.0 L1281.3,491.5 L1281.3,492.0 L1281.3,492.5 L1281.3,493.0 L1281.3,493.5 L1281.3,494.0 L1281.3,494.5 L1281.3,495.0 L1281.3,495.5 L1281.3,496.0 L1281.3,496.5 L1281.3,497.0 L1281.3,497.5 L1281.3,498.0 L1281.3,498.5 L1281.3,499.0 L1281.3,499.5 L1281.3,500.0 L1281.3,500.5 L1281.3,501.0 L1281.3,501.5 L1281.3,502.0 L1281.3,502.5 L1281.3,503.0 L1281.3,503.5 L1281.3,504.0 L1281.3,504.5 L1281.3,505.0 L1281.3,505.5 L1281.3,506.0 L1281.3,506.5 L1281.3,507.0 L1281.3,507.5 L1281.3,508.0 L1281.3,508.5 L1281.3,509.0 L1281.3,509.5 L1281.3,510.0 L1281.3,510.5 L1281.3,511.0 L1281.3,511.5 L1281.3,512.0 L1281.3,512.5 L1281.3,513.0 L1281.3,513.5 L1281.3,514.0 L1281.3,514.5 L1281.3,515.0 L1281.3,515.5 L1281.3,516.0 L1281.3,516.5 L1281.3,517.0 L1281.3,517.5 L1281.3,518.0 L1281.3,518.5 L1281.3,519.0 L1281.3,519.5 L1281.3,520.0 L1281.3,520.5 L1281.3,521.0 L1281.3,521.5 L1281.3,522.0 L1281.3,522.5 L1281.3,523.0 L1281.3,523.5 L1281.3,524.0 L1281.3,524.5 L1281.3,525.0 L1281.3,525.5 L1281.3,526.0 L1281.3,526.5 L1281.3,527.0 L1281.3,527.5 L1281.3,528.0 L1281.3,528.5 L1281.3,529.0 L1281.3,529.5 L1281.3,530.0 L1281.3,530.5 L1281.3,531.0 L1281.3,531.5 L1281.3,532.0 L1281.3,532.5 L1281.3,533.0 L1281.3,533.5 L1281.3,534.0 L1281.3,534.5 L1281.3,535.0 L1281.3,535.5 L1281.3,536.0 L1281.3,536.5 L1281.3,537.0 L1281.3,537.5 L1281.3,538.0 L1281.3,538.5 L1281.3,539.0 L1281.3,539.5 L1281.3,540.0 L1281.3,540.5 L1281.3,541.0 L1281.3,541.5 L1281.3,542.0 L1281.3,542.5 L1281.3,543.0 L1281.3,543.5 L1281.3,544.0 L1281.3,544.5 L1281.3,545.0 L1281.3,545.5 L1281.3,546.0 L1281.3,546.5 L1281.4,547.0 L1281.8,547.5 L1282.6,548.0 L1284.2,548.5 L1287.0,549.0 L1290.9,549.5 L1296.1,550.0 L1302.4,550.5 L1309.9,551.0 L1318.5,551.5 L1328.2,552.0 L1338.8,552.5 L1350.2,553.0 L1362.1,553.5 L1374.4,554.0 L1386.7,554.5 L1398.7,555.0 L1410.3,555.5 L1421.2,556.0 L1431.1,556.5 L1440.0,557.0 L1447.7,557.5 L1454.4,558.0 L1459.8,558.5 L1464.0,559.0 L1466.9,559.5 L1468.8,560.0 L1469.7,560.5 L1470.1,561.0 L1470.2,561.5 L1470.2,562.0 L1470.1,562.5 L1470.0,563.0 L1470.0,563.5 L1469.9,564.0 L1469.8,564.5 L1469.8,565.0 L1469.7,565.5 L1469.6,566.0 L1469.6,566.5 L1469.5,567.0 L1469.4,567.5 L1469.4,568.0 L1469.3,568.5 L1469.2,569.0 L1469.2,569.5 L1469.1,570.0 L1469.0,570.5 L1469.0,571.0 L1468.9,571.5 L1468.8,572.0 L1468.8,572.5 L1468.7,573.0 L1468.5,573.5 L1468.0,574.0 L1467.0,574.5 L1465.1,575.0 L1462.2,575.5 L1458.0,576.0 L1452.7,576.5 L1446.2,577.0 L1438.6,577.5 L1429.8,578.0 L1420.1,578.5 L1409.4,579.0 L1398.1,579.5 L1386.2,580.0 L1374.0,580.5 L1361.9,581.0 L1350.1,581.5 L1338.8,582.0 L1328.3,582.5 L1318.7,583.0 L1310.2,583.5 L1302.7,584.0 L1296.4,584.5 L1291.2,585.0 L1287.2,585.5 L1284.4,586.0 L1282.7,586.5 L1281.8,587.0 L1281.5,587.5 L1281.3,588.0 L1281.3,588.5 L1281.3,589.0 L1281.3,589.5 L1281.3,590.0 L1281.3,590.5 L1281.3,591.0 L1281.3,591.5 L1281.3,592.0 L1281.3,592.5 L1281.3,593.0 L1281.3,593.5 L1281.4,594.0 L1281.5,594.5 L1282.1,595.0 L1283.2,595.5 L1285.2,596.0 L1288.4,596.5 L1292.9,597.0 L1298.5,597.5 L1305.3,598.0 L1313.2,598.5 L1322.3,599.0 L1332.4,599.5 L1343.3,600.0 L1355.0,600.5 L1367.1,601.0 L1379.4,601.5 L1391.6,602.0 L1403.5,602.5 L1414.8,603.0 L1425.3,603.5 L1434.8,604.0 L1443.3,604.5 L1450.6,605.0 L1456.7,605.5 L1461.7,606.0 L1465.4,606.5 L1467.9,607.0 L1469.3,607.5 L1470.0,608.0 L1470.2,608.5 L1470.2,609.0 L1470.2,609.5 L1470.1,610.0 L1470.0,610.5 L1470.0,611.0 L1469.9,611.5 L1469.8,612.0 L1469.8,612.5 L1469.7,613.0 L1469.6,613.5 L1469.6,614.0 L1469.5,614.5 L1469.4,615.0 L1469.4,615.5 L1469.3,616.0 L1469.2,616.5 L1469.2,617.0 L1469.1,617.5 L1469.0,618.0 L1469.0,618.5 L1468.9,619.0 L1468.8,619.5 L1468.8,620.0 L1468.7,620.5 L1468.5,621.0 L1468.2,621.5 L1467.4,622.0 L1465.9,622.5 L1463.3,623.0 L1459.5,623.5 L1454.5,624.0 L1448.3,624.5 L1441.0,625.0 L1432.6,625.5 L1423.2,626.0 L1412.8,626.5 L1401.6,627.0 L1389.9,627.5 L1377.8,628.0 L1365.6,628.5 L1353.7,629.0 L1342.2,629.5 L1331.5,630.0 L1321.6,630.5 L1312.7,631.0 L1304.9,631.5 L1298.2,632.0 L1292.7,632.5 L1288.4,633.0 L1285.2,633.5 L1283.2,634.0 L1282.0,634.5 L1281.5,635.0 L1281.4,635.5 L1281.3,636.0 L1281.3,636.5 L1281.3,637.0 L1281.3,637.5 L1281.3,638.0 L1281.3,638.5 L1281.3,639.0 L1281.3,639.5 L1281.3,640.0 L1281.3,640.5 L1281.4,641.0 L1281.5,641.5 L1282.0,642.0 L1283.1,642.5 L1285.1,643.0 L1288.2,643.5 L1292.6,644.0 L1298.1,644.5 L1304.9,645.0 L1312.7,645.5 L1321.7,646.0 L1331.7,646.5 L1342.6,647.0 L1354.3,647.5 L1366.4,648.0 L1378.7,648.5 L1390.9,649.0 L1402.8,649.5 L1414.2,650.0 L1424.7,650.5 L1434.3,651.0 L1442.8,651.5 L1450.2,652.0 L1456.4,652.5 L1461.4,653.0 L1465.2,653.5 L1467.8,654.0 L1469.3,654.5 L1470.0,655.0 L1470.2,655.5 L1470.3,656.0 L1470.2,656.5 L1470.2,657.0 L1470.1,657.5 L1470.1,658.0 L1470.0,658.5 L1469.9,659.0 L1469.9,659.5 L1469.8,660.0 L1469.8,660.5 L1469.7,661.0 L1469.6,661.5 L1469.6,662.0 L1469.5,662.5 L1469.5,663.0 L1469.4,663.5 L1469.4,664.0 L1469.3,664.5 L1469.2,665.0 L1469.2,665.5 L1469.1,666.0 L1469.1,666.5 L1469.0,667.0 L1469.0,667.5 L1468.9,668.0 L1468.8,668.5 L1468.8,669.0 L1468.7,669.5 L1468.6,670.0 L1468.5,670.5 L1468.2,671.0 L1467.4,671.5 L1466.0,672.0 L1463.4,672.5 L1459.7,673.0 L1454.8,673.5 L1448.7,674.0 L1441.5,674.5 L1433.2,675.0 L1423.8,675.5 L1413.4,676.0 L1402.3,676.5 L1390.6,677.0 L1378.5,677.5 L1366.4,678.0 L1354.4,678.5 L1342.9,679.0 L1332.1,679.5 L1322.1,680.0 L1313.1,680.5 L1305.3,681.0 L1298.6,681.5 L1293.0,682.0 L1288.6,682.5 L1285.3,683.0 L1283.2,683.5 L1282.1,684.0 L1281.6,684.5 L1281.4,685.0 L1281.3,685.5 L1281.3,686.0 L1281.3,686.5 L1281.3,687.0 L1281.3,687.5 L1281.3,688.0 L1281.3,688.5 L1281.3,689.0 L1281.3,689.5 L1281.3,690.0 L1281.3,690.5 L1281.5,691.0 L1281.8,691.5 L1282.7,692.0 L1284.5,692.5 L1287.4,693.0 L1291.4,693.5 L1296.7,694.0 L1303.2,694.5 L1310.8,695.0 L1319.5,695.5 L1329.3,696.0 L1340.0,696.5 L1351.5,697.0 L1363.5,697.5 L1375.8,698.0 L1388.1,698.5 L1400.1,699.0 L1411.6,699.5 L1422.3,700.0 L1432.1,700.5 L1440.9,701.0 L1448.5,701.5 L1455.0,702.0 L1460.3,702.5 L1464.4,703.0 L1467.2,703.5 L1469.0,704.0 L1469.8,704.5 L1470.2,705.0 L1470.2,705.5 L1470.2,706.0 L1470.1,706.5 L1470.1,707.0 L1470.0,707.5 L1470.0,708.0 L1469.9,708.5 L1469.8,709.0 L1469.8,709.5 L1469.7,710.0 L1469.6,710.5 L1469.6,711.0 L1469.5,711.5 L1469.5,712.0 L1469.4,712.5 L1469.3,713.0 L1469.3,713.5 L1469.2,714.0 L1469.2,714.5 L1469.1,715.0 L1469.0,715.5 L1469.0,716.0 L1468.9,716.5 L1468.8,717.0 L1468.8,717.5 L1468.7,718.0 L1468.6,718.5 L1468.3,719.0 L1467.8,719.5 L1466.6,720.0 L1464.5,720.5 L1461.2,721.0 L1456.8,721.5 L1451.1,722.0 L1444.3,722.5 L1436.4,723.0 L1427.4,723.5 L1417.4,724.0 L1406.6,724.5 L1395.1,725.0 L1383.1,725.5 L1370.9,726.0 L1358.9,726.5 L1347.2,727.0 L1336.1,727.5 L1325.8,728.0 L1316.4,728.5 L1308.1,729.0 L1301.0,729.5 L1295.0,730.0 L1290.1,730.5 L1286.4,731.0 L1283.9,731.5 L1282.4,732.0 L1281.7,732.5 L1281.4,733.0 L1281.3,733.5 L1281.3,734.0 L1281.3,734.5 L1281.3,735.0 L1281.3,735.5 L1281.3,736.0 L1281.3,736.5 L1281.3,737.0 L1281.3,737.5 L1281.3,738.0 L1281.3,738.5 L1281.3,739.0 L1281.4,739.5 L1281.5,740.0 L1282.0,740.5 L1283.0,741.0 L1285.0,741.5 L1288.1,742.0 L1292.4,742.5 L1297.9,743.0 L1304.6,743.5 L1312.4,744.0 L1321.3,744.5 L1331.3,745.0 L1342.2,745.5 L1353.8,746.0 L1365.8,746.5 L1378.1,747.0 L1390.4,747.5 L1402.3,748.0 L1413.7,748.5 L1424.3,749.0 L1433.9,749.5 L1442.5,750.0 L1449.9,750.5 L1456.1,751.0 L1461.2,751.5 L1465.1,752.0 L1467.7,752.5 L1469.2,753.0 L1470.0,753.5 L1470.2,754.0 L1470.2,754.5 L1470.2,755.0 L1470.2,755.5 L1470.1,756.0 L1470.0,756.5 L1470.0,757.0 L1469.9,757.5 L1469.9,758.0 L1469.8,758.5 L1469.7,759.0 L1469.7,759.5 L1469.6,760.0 L1469.6,760.5 L1469.5,761.0 L1469.4,761.5 L1469.4,762.0 L1469.3,762.5 L1469.3,763.0 L1469.2,763.5 L1469.1,764.0 L1469.1,764.5 L1469.0,765.0 L1469.0,765.5 L1468.9,766.0 L1468.8,766.5 L1468.8,767.0 L1468.7,767.5 L1468.6,768.0 L1468.5,768.5 L1468.1,769.0 L1467.2,769.5 L1465.5,770.0 L1462.7,770.5 L1458.8,771.0 L1453.6,771.5 L1447.3,772.0 L1439.8,772.5 L1431.3,773.0 L1421.7,773.5 L1411.2,774.0 L1399.9,774.5 L1388.1,775.0 L1376.0,775.5 L1363.8,776.0 L1352.0,776.5 L1340.6,777.0 L1329.9,777.5 L1320.1,778.0 L1311.4,778.5 L1303.8,779.0 L1297.3,779.5 L1292.0,780.0 L1287.8,780.5 L1284.8,781.0 L1282.9,781.5 L1281.9,782.0 L1281.5,782.5 L1281.4,783.0 L1281.3,783.5 L1281.3,784.0 L1281.3,784.5 L1281.3,785.0 L1281.3,785.5 L1281.3,786.0 L1281.3,786.5 L1281.3,787.0 L1281.3,787.5 L1281.3,788.0 L1281.3,788.5 L1281.3,789.0 L1281.4,789.5 L1281.5,790.0 L1282.0,790.5 L1283.1,791.0 L1285.1,791.5 L1288.3,792.0 L1292.6,792.5 L1298.2,793.0 L1304.9,793.5 L1312.8,794.0 L1321.8,794.5 L1331.8,795.0 L1342.7,795.5 L1354.4,796.0 L1366.5,796.5 L1378.8,797.0 L1391.0,797.5 L1402.9,798.0 L1414.3,798.5 L1424.8,799.0 L1434.4,799.5 L1442.9,800.0 L1450.2,800.5 L1456.4,801.0 L1461.4,801.5 L1465.2,802.0 L1467.8,802.5 L1469.3,803.0 L1470.0,803.5 L1470.2,804.0 L1470.2,804.5 L1470.2,805.0 L1470.1,805.5 L1470.1,806.0 L1470.0,806.5 L1469.9,807.0 L1469.9,807.5 L1469.8,808.0 L1469.8,808.5 L1469.7,809.0 L1469.6,809.5 L1469.6,810.0 L1469.5,810.5 L1469.5,811.0 L1469.4,811.5 L1469.3,812.0 L1469.3,812.5 L1469.2,813.0 L1469.1,813.5 L1469.1,814.0 L1469.0,814.5 L1469.0,815.0 L1468.9,815.5 L1468.8,816.0 L1468.8,816.5 L1468.7,817.0 L1468.6,817.5 L1468.4,818.0 L1467.9,818.5 L1466.8,819.0 L1464.8,819.5 L1461.6,820.0 L1457.3,820.5 L1451.8,821.0 L1445.2,821.5 L1437.4,822.0 L1428.5,822.5 L1418.6,823.0 L1407.9,823.5 L1396.4,824.0 L1384.5,824.5 L1372.3,825.0 L1360.2,825.5 L1348.5,826.0 L1337.3,826.5 L1326.9,827.0 L1317.4,827.5 L1309.0,828.0 L1301.7,828.5 L1295.6,829.0 L1290.6,829.5 L1286.7,830.0 L1284.1,830.5 L1282.5,831.0 L1281.7,831.5 L1281.4,832.0 L1281.3,832.5 L1281.3,833.0 L1281.3,833.5 L1281.3,834.0 L1281.3,834.5 L1281.3,835.0 L1281.3,835.5 L1281.3,836.0 L1281.3,836.5 L1281.3,837.0 L1281.3,837.5 L1281.3,838.0 L1281.4,838.5 L1281.5,839.0 L1282.0,839.5 L1283.1,840.0 L1285.1,840.5 L1288.3,841.0 L1292.7,841.5 L1298.3,842.0 L1305.0,842.5 L1312.9,843.0 L1322.0,843.5 L1332.0,844.0 L1342.9,844.5 L1354.5,845.0 L1366.6,845.5 L1379.0,846.0 L1391.2,846.5 L1403.1,847.0 L1414.4,847.5 L1424.9,848.0 L1434.5,848.5 L1443.0,849.0 L1450.3,849.5 L1456.5,850.0 L1461.5,850.5 L1465.3,851.0 L1467.8,851.5 L1469.3,852.0 L1470.0,852.5 L1470.2,853.0 L1470.2,853.5 L1470.2,854.0 L1470.1,854.5 L1470.1,855.0 L1470.0,855.5 L1470.0,856.0 L1469.9,856.5 L1469.9,857.0 L1469.8,857.5 L1469.7,858.0 L1469.7,858.5 L1469.6,859.0 L1469.6,859.5 L1469.5,860.0 L1469.4,860.5 L1469.4,861.0 L1469.3,861.5 L1469.3,862.0 L1469.2,862.5 L1469.1,863.0 L1469.1,863.5 L1469.0,864.0 L1469.0,864.5 L1468.9,865.0 L1468.8,865.5 L1468.8,866.0 L1468.7,866.5 L1468.6,867.0 L1468.4,867.5 L1468.0,868.0 L1467.1,868.5 L1465.3,869.0 L1462.5,869.5 L1458.5,870.0 L1453.2,870.5 L1446.8,871.0 L1439.3,871.5 L1430.7,872.0 L1421.0,872.5 L1410.5,873.0 L1399.1,873.5 L1387.3,874.0 L1375.2,874.5 L1363.1,875.0 L1351.2,875.5 L1339.8,876.0 L1329.2,876.5 L1319.5,877.0 L1310.9,877.5 L1303.3,878.0 L1296.9,878.5 L1291.6,879.0 L1287.6,879.5 L1284.6,880.0 L1282.8,880.5 L1281.9,881.0 L1281.5,881.5 L1281.3,882.0 L1281.3,882.5 L1281.3,883.0 L1281.3,883.5 L1281.3,884.0 L1281.3,884.5 L1281.3,885.0 L1281.3,885.5 L1281.3,886.0 L1281.3,886.5 L1281.4,887.0 L1281.5,887.5 L1282.0,888.0 L1283.0,888.5 L1284.9,889.0 L1288.0,889.5 L1292.2,890.0 L1297.7,890.5 L1304.4,891.0 L1312.2,891.5 L1321.1,892.0 L1331.0,892.5 L1341.9,893.0 L1353.4,893.5 L1365.5,894.0 L1377.8,894.5 L1390.1,895.0 L1402.0,895.5 L1413.4,896.0 L1424.0,896.5 L1433.7,897.0 L1442.2,897.5 L1449.7,898.0 L1456.0,898.5 L1461.1,899.0 L1465.0,899.5 L1467.6,900.0 L1469.2,900.5 L1469.9,901.0 L1470.2,901.5 L1470.3,902.0 L1470.2,902.5 L1470.2,903.0 L1470.1,903.5 L1470.1,904.0 L1470.0,904.5 L1469.9,905.0 L1469.9,905.5 L1469.8,906.0 L1469.8,906.5 L1469.7,907.0 L1469.7,907.5 L1469.6,908.0 L1469.5,908.5 L1469.5,909.0 L1469.4,909.5 L1469.4,910.0 L1469.3,910.5 L1469.3,911.0 L1469.2,911.5 L1469.1,912.0 L1469.1,912.5 L1469.0,913.0 L1469.0,913.5 L1468.9,914.0 L1468.9,914.5 L1468.8,915.0 L1468.7,915.5 L1468.7,916.0 L1468.6,916.5 L1468.4,917.0 L1467.9,917.5 L1466.9,918.0 L1465.0,918.5 L1462.1,919.0 L1457.9,919.5 L1452.5,920.0 L1446.0,920.5 L1438.3,921.0 L1429.6,921.5 L1419.8,922.0 L1409.1,922.5 L1397.7,923.0 L1385.8,923.5 L1373.7,924.0 L1361.6,924.5 L1349.8,925.0 L1338.5,925.5 L1328.0,926.0 L1318.4,926.5 L1309.9,927.0 L1302.5,927.5 L1296.2,928.0 L1291.1,928.5 L1287.1,929.0 L1284.4,929.5 L1282.7,930.0 L1281.8,930.5 L1281.5,931.0 L1281.3,931.5 L1281.3,932.0 L1281.3,932.5 L1281.3,933.0 L1281.3,933.5 L1281.3,934.0 L1281.3,934.5 L1281.3,935.0 L1281.3,935.5 L1281.3,936.0 L1281.3,936.5 L1281.4,937.0 L1281.6,937.5 L1282.1,938.0 L1283.3,938.5 L1285.5,939.0 L1288.8,939.5 L1293.4,940.0 L1299.1,940.5 L1306.0,941.0 L1314.1,941.5 L1323.3,942.0 L1333.4,942.5 L1344.5,943.0 L1356.2,943.5 L1368.3,944.0 L1380.6,944.5 L1392.8,945.0 L1404.7,945.5 L1415.9,946.0 L1426.3,946.5 L1435.7,947.0 L1444.1,947.5 L1451.2,948.0 L1457.3,948.5 L1462.1,949.0 L1465.7,949.5 L1468.1,950.0 L1469.4,950.5 L1470.0,951.0 L1470.2,951.5 L1470.2,952.0 L1470.2,952.5 L1470.2,953.0 L1470.1,953.5 L1470.0,954.0 L1470.0,954.5 L1469.9,955.0 L1469.9,955.5 L1469.8,956.0 L1469.7,956.5 L1469.7,957.0 L1469.6,957.5 L1469.6,958.0 L1469.5,958.5 L1469.5,959.0 L1469.4,959.5 L1469.3,960.0 L1469.3,960.5 L1469.2,961.0 L1469.2,961.5 L1469.1,962.0 L1469.0,962.5 L1469.0,963.0 L1468.9,963.5 L1468.9,964.0 L1468.8,964.5 L1468.8,965.0 L1468.7,965.5 L1468.6,966.0 L1468.4,966.5 L1467.8,967.0 L1466.7,967.5 L1464.7,968.0 L1461.6,968.5 L1457.3,969.0 L1451.8,969.5 L1445.1,970.0 L1437.3,970.5 L1428.4,971.0 L1418.5,971.5 L1407.8,972.0 L1396.3,972.5 L1384.4,973.0 L1372.2,973.5 L1360.1,974.0 L1348.4,974.5 L1337.2,975.0 L1326.8,975.5 L1317.3,976.0 L1309.0,976.5 L1301.7,977.0 L1295.5,977.5 L1290.5,978.0 L1286.7,978.5 L1284.1,979.0 L1282.5,979.5 L1281.7,980.0 L1281.4,980.5 L1281.3,981.0 L1281.3,981.5 L1281.3,982.0 L1281.3,982.5 L1281.3,983.0 L1281.3,983.5 L1281.3,984.0 L1281.3,984.5 L1281.3,985.0 L1281.3,985.5 L1281.3,986.0 L1281.4,986.5 L1281.5,987.0 L1282.0,987.5 L1283.0,988.0 L1284.9,988.5 L1287.9,989.0 L1292.2,989.5 L1297.7,990.0 L1304.3,990.5 L1312.1,991.0 L1321.0,991.5 L1331.0,992.0 L1341.8,992.5 L1353.4,993.0 L1365.4,993.5 L1377.7,994.0 L1390.0,994.5 L1402.0,995.0 L1413.3,995.5 L1423.9,996.0 L1433.6,996.5 L1442.2,997.0 L1449.7,997.5 L1456.0,998.0 L1461.1,998.5 L1464.9,999.0 L1467.6,999.5 L1469.2,1000.0 L1469.9,1000.5 L1470.2,1001.0 L1470.2,1001.5 L1470.2,1002.0 L1470.2,1002.5 L1470.1,1003.0 L1470.0,1003.5 L1470.0,1004.0 L1469.9,1004.5 L1469.9,1005.0 L1469.8,1005.5 L1469.7,1006.0 L1469.7,1006.5 L1469.6,1007.0 L1469.6,1007.5 L1469.5,1008.0 L1469.4,1008.5 L1469.4,1009.0 L1469.3,1009.5 L1469.3,1010.0 L1469.2,1010.5 L1469.1,1011.0 L1469.1,1011.5 L1469.0,1012.0 L1469.0,1012.5 L1468.9,1013.0 L1468.9,1013.5 L1468.8,1014.0 L1468.7,1014.5 L1468.7,1015.0 L1468.5,1015.5 L1468.2,1016.0 L1467.5,1016.5 L1466.0,1017.0 L1463.4,1017.5 L1459.7,1018.0 L1454.8,1018.5 L1448.7,1019.0 L1441.5,1019.5 L1433.2,1020.0 L1423.8,1020.5 L1413.5,1021.0 L1402.3,1021.5 L1390.6,1022.0 L1378.6,1022.5 L1366.4,1023.0 L1354.4,1023.5 L1342.9,1024.0 L1332.1,1024.5 L1322.1,1025.0 L1313.2,1025.5 L1305.3,1026.0 L1298.6,1026.5 L1293.0,1027.0 L1288.6,1027.5 L1285.4,1028.0 L1283.3,1028.5 L1282.1,1029.0 L1281.6,1029.5 L1281.4,1030.0 L1281.3,1030.5 L1281.3,1031.0 L1281.3,1031.5 L1281.3,1032.0 L1281.3,1032.5 L1281.3,1033.0 L1281.3,1033.3 L1287.0,1036.0 L1313.5,1038.7 L1338.1,1040.8 L1350.4,1042.6 L1351.8,1043.8 L1345.7,1044.9 L1334.3,1046.0 L1313.5,1048.3 L1307.8,1049.5 L1304.0,1052.0" stroke="#000" stroke-width="6.25"/>
</g>
<line x1="1281.3" y1="170.7" x2="1470.7" y2="170.7" stroke="#0000ff" stroke-opacity="0.5" stroke-width="2.4" stroke-dasharray="22.7 10.6"/>
<line x1="1281.3" y1="190.1" x2="1470.7" y2="190.1" stroke="#0000ff" stroke-opacity="0.5" stroke-width="2.4" stroke-dasharray="22.7 10.6"/>
<line x1="1281.3" y1="219.4" x2="1470.7" y2="219.4" stroke="#0000ff" stroke-opacity="0.5" stroke-width="2.4" stroke-dasharray="22.7 10.6"/>
<line x1="1281.3" y1="238.2" x2="1470.7" y2="238.2" stroke="#0000ff" stroke-opacity="0.5" stroke-width="2.4" stroke-dasharray="22.7 10.6"/>
<line x1="1281.3" y1="267.9" x2="1470.7" y2="267.9" stroke="#0000ff" stroke-opacity="0.5" stroke-width="2.4" stroke-dasharray="22.7 10.6"/>
<line x1="1281.3" y1="287.5" x2="1470.7" y2="287.5" stroke="#0000ff" stroke-opacity="0.5" stroke-width="2.4" stroke-dasharray="22.7 10.6"/>
<line x1="1281.3" y1="316.3" x2="1470.7" y2="316.3" stroke="#0000ff" stroke-opacity="0.5" stroke-width="2.4" stroke-dasharray="22.7 10.6"/>
<line x1="1281.3" y1="336.2" x2="1470.7" y2="336.2" stroke="#0000ff" stroke-opacity="0.5" stroke-width="2.4" stroke-dasharray="22.7 10.6"/>
<line x1="1281.3" y1="364.6" x2="1470.7" y2="364.6" stroke="#0000ff" stroke-opacity="0.5" stroke-width="2.4" stroke-dasharray="22.7 10.6"/>
<line x1="1281.3" y1="386.2" x2="1470.7" y2="386.2" stroke="#0000ff" stroke-opacity="0.5" stroke-width="2.4" stroke-dasharray="22.7 10.6"/>
<line x1="1281.3" y1="412.7" x2="1470.7" y2="412.7" stroke="#0000ff" stroke-opacity="0.5" stroke-width="2.4" stroke-dasharray="22.7 10.6"/>
<line x1="1281.3" y1="434.9" x2="1470.7" y2="434.9" stroke="#0000ff" stroke-opacity="0.5" stroke-width="2.4" stroke-dasharray="22.7 10.6"/>
<line x1="1281.3" y1="461.4" x2="1470.7" y2="461.4" stroke="#0000ff" stroke-opacity="0.5" stroke-width="2.4" stroke-dasharray="22.7 10.6"/>
<line x1="1281.3" y1="554.1" x2="1470.7" y2="554.1" stroke="#0000ff" stroke-opacity="0.5" stroke-width="2.4" stroke-dasharray="22.7 10.6"/>
<line x1="1281.3" y1="580.5" x2="1470.7" y2="580.5" stroke="#0000ff" stroke-opacity="0.5" stroke-width="2.4" stroke-dasharray="22.7 10.6"/>
<line x1="1281.3" y1="601.4" x2="1470.7" y2="601.4" stroke="#0000ff" stroke-opacity="0.5" stroke-width="2.4" stroke-dasharray="22.7 10.6"/>
<line x1="1281.3" y1="628.1" x2="1470.7" y2="628.1" stroke="#0000ff" stroke-opacity="0.5" stroke-width="2.4" stroke-dasharray="22.7 10.6"/>
<line x1="1281.3" y1="648.4" x2="1470.7" y2="648.4" stroke="#0000ff" stroke-opacity="0.5" stroke-width="2.4" stroke-dasharray="22.7 10.6"/>
<line x1="1281.3" y1="677.7" x2="1470.7" y2="677.7" stroke="#0000ff" stroke-opacity="0.5" stroke-width="2.4" stroke-dasharray="22.7 10.6"/>
<line x1="1281.3" y1="698.0" x2="1470.7" y2="698.0" stroke="#0000ff" stroke-opacity="0.5" stroke-width="2.4" stroke-dasharray="22.7 10.6"/>
<line x1="1281.3" y1="725.9" x2="1470.7" y2="725.9" stroke="#0000ff" stroke-opacity="0.5" stroke-width="2.4" stroke-dasharray="22.7 10.6"/>
<line x1="1281.3" y1="746.9" x2="1470.7" y2="746.9" stroke="#0000ff" stroke-opacity="0.5" stroke-width="2.4" stroke-dasharray="22.7 10.6"/>
<line x1="1281.3" y1="775.6" x2="1470.7" y2="775.6" stroke="#0000ff" stroke-opacity="0.5" stroke-width="2.4" stroke-dasharray="22.7 10.6"/>
<line x1="1281.3" y1="796.9" x2="1470.7" y2="796.9" stroke="#0000ff" stroke-opacity="0.5" stroke-width="2.4" stroke-dasharray="22.7 10.6"/>
<line x1="1281.3" y1="824.9" x2="1470.7" y2="824.9" stroke="#0000ff" stroke-opacity="0.5" stroke-width="2.4" stroke-dasharray="22.7 10.6"/>
<line x1="1281.3" y1="845.9" x2="1470.7" y2="845.9" stroke="#0000ff" stroke-opacity="0.5" stroke-width="2.4" stroke-dasharray="22.7 10.6"/>
<line x1="1281.3" y1="874.5" x2="1470.7" y2="874.5" stroke="#0000ff" stroke-opacity="0.5" stroke-width="2.4" stroke-dasharray="22.7 10.6"/>
<line x1="1281.3" y1="894.4" x2="1470.7" y2="894.4" stroke="#0000ff" stroke-opacity="0.5" stroke-width="2.4" stroke-dasharray="22.7 10.6"/>
<line x1="1281.3" y1="924.0" x2="1470.7" y2="924.0" stroke="#0000ff" stroke-opacity="0.5" stroke-width="2.4" stroke-dasharray="22.7 10.6"/>
<line x1="1281.3" y1="944.3" x2="1470.7" y2="944.3" stroke="#0000ff" stroke-opacity="0.5" stroke-width="2.4" stroke-dasharray="22.7 10.6"/>
<line x1="1281.3" y1="973.4" x2="1470.7" y2="973.4" stroke="#0000ff" stroke-opacity="0.5" stroke-width="2.4" stroke-dasharray="22.7 10.6"/>
<line x1="1281.3" y1="993.9" x2="1470.7" y2="993.9" stroke="#0000ff" stroke-opacity="0.5" stroke-width="2.4" stroke-dasharray="22.7 10.6"/>
<line x1="1281.3" y1="1022.7" x2="1470.7" y2="1022.7" stroke="#0000ff" stroke-opacity="0.5" stroke-width="2.4" stroke-dasharray="22.7 10.6"/>
<rect x="225.4" y="147.4" width="837.3000000000001" height="899.9" fill="none" stroke="#000" stroke-width="3.33"/>
<rect x="1062.7" y="144.5" width="208.79999999999995" height="906.0" fill="none" stroke="#000" stroke-width="3.33"/>
<rect x="1271.5" y="144.5" width="210.0" height="906.0" fill="none" stroke="#000" stroke-width="3.33"/>
<line x1="210.80" y1="147.84" x2="225.40" y2="147.84" stroke="#000" stroke-width="3.33"/>
<text x="196.0" y="163.1" font-size="43.34" text-anchor="end" fill="#000" textLength="26.5" lengthAdjust="spacingAndGlyphs">0</text>
<line x1="1048.10" y1="144.90" x2="1062.70" y2="144.90" stroke="#000" stroke-width="3.33"/>
<line x1="1256.90" y1="144.90" x2="1271.50" y2="144.90" stroke="#000" stroke-width="3.33"/>
<line x1="210.80" y1="325.20" x2="225.40" y2="325.20" stroke="#000" stroke-width="3.33"/>
<text x="196.0" y="340.5" font-size="43.34" text-anchor="end" fill="#000" textLength="79.5" lengthAdjust="spacingAndGlyphs">200</text>
<line x1="1048.10" y1="323.38" x2="1062.70" y2="323.38" stroke="#000" stroke-width="3.33"/>
<line x1="1256.90" y1="323.38" x2="1271.50" y2="323.38" stroke="#000" stroke-width="3.33"/>
<line x1="210.80" y1="502.56" x2="225.40" y2="502.56" stroke="#000" stroke-width="3.33"/>
<text x="196.0" y="517.9" font-size="43.34" text-anchor="end" fill="#000" textLength="79.5" lengthAdjust="spacingAndGlyphs">400</text>
<line x1="1048.10" y1="501.86" x2="1062.70" y2="501.86" stroke="#000" stroke-width="3.33"/>
<line x1="1256.90" y1="501.86" x2="1271.50" y2="501.86" stroke="#000" stroke-width="3.33"/>
<line x1="210.80" y1="679.92" x2="225.40" y2="679.92" stroke="#000" stroke-width="3.33"/>
<text x="196.0" y="695.2" font-size="43.34" text-anchor="end" fill="#000" textLength="79.5" lengthAdjust="spacingAndGlyphs">600</text>
<line x1="1048.10" y1="680.34" x2="1062.70" y2="680.34" stroke="#000" stroke-width="3.33"/>
<line x1="1256.90" y1="680.34" x2="1271.50" y2="680.34" stroke="#000" stroke-width="3.33"/>
<line x1="210.80" y1="857.28" x2="225.40" y2="857.28" stroke="#000" stroke-width="3.33"/>
<text x="196.0" y="872.6" font-size="43.34" text-anchor="end" fill="#000" textLength="79.5" lengthAdjust="spacingAndGlyphs">800</text>
<line x1="1048.10" y1="858.82" x2="1062.70" y2="858.82" stroke="#000" stroke-width="3.33"/>
<line x1="1256.90" y1="858.82" x2="1271.50" y2="858.82" stroke="#000" stroke-width="3.33"/>
<line x1="210.80" y1="1034.64" x2="225.40" y2="1034.64" stroke="#000" stroke-width="3.33"/>
<text x="196.0" y="1049.9" font-size="43.34" text-anchor="end" fill="#000" textLength="106.1" lengthAdjust="spacingAndGlyphs">1000</text>
<line x1="1048.10" y1="1037.30" x2="1062.70" y2="1037.30" stroke="#000" stroke-width="3.33"/>
<line x1="1256.90" y1="1037.30" x2="1271.50" y2="1037.30" stroke="#000" stroke-width="3.33"/>
<line x1="225.30" y1="1047.30" x2="225.30" y2="1061.90" stroke="#000" stroke-width="3.33"/>
<text x="225.3" y="1107.4" font-size="43.34" text-anchor="middle" fill="#000" textLength="26.5" lengthAdjust="spacingAndGlyphs">0</text>
<line x1="402.70" y1="1047.30" x2="402.70" y2="1061.90" stroke="#000" stroke-width="3.33"/>
<text x="402.7" y="1107.4" font-size="43.34" text-anchor="middle" fill="#000" textLength="79.5" lengthAdjust="spacingAndGlyphs">200</text>
<line x1="580.10" y1="1047.30" x2="580.10" y2="1061.90" stroke="#000" stroke-width="3.33"/>
<text x="580.1" y="1107.4" font-size="43.34" text-anchor="middle" fill="#000" textLength="79.5" lengthAdjust="spacingAndGlyphs">400</text>
<line x1="757.50" y1="1047.30" x2="757.50" y2="1061.90" stroke="#000" stroke-width="3.33"/>
<text x="757.5" y="1107.4" font-size="43.34" text-anchor="middle" fill="#000" textLength="79.5" lengthAdjust="spacingAndGlyphs">600</text>
<line x1="934.90" y1="1047.30" x2="934.90" y2="1061.90" stroke="#000" stroke-width="3.33"/>
<text x="934.9" y="1107.4" font-size="43.34" text-anchor="middle" fill="#000" textLength="79.5" lengthAdjust="spacingAndGlyphs">800</text>
<line x1="1281.30" y1="1050.50" x2="1281.30" y2="1065.10" stroke="#000" stroke-width="3.33"/>
<text x="1281.3" y="1109.7" font-size="43.34" text-anchor="middle" fill="#000" textLength="66.3" lengthAdjust="spacingAndGlyphs">0.0</text>
<line x1="1478.10" y1="1050.50" x2="1478.10" y2="1065.10" stroke="#000" stroke-width="3.33"/>
<text x="1478.1" y="1109.7" font-size="43.34" text-anchor="middle" fill="#000" textLength="66.3" lengthAdjust="spacingAndGlyphs">2.5</text>
<text x="1478.5" y="1162.9" font-size="43.34" text-anchor="end" fill="#000" textLength="78.7" lengthAdjust="spacingAndGlyphs">1e5</text>
<text x="1376.5" y="120.0" font-size="51.50" text-anchor="middle" fill="#000" textLength="108.1" lengthAdjust="spacingAndGlyphs">blue</text>
<text x="1756.5" y="164.2" font-size="24.10" text-anchor="end" fill="#0000ff" textLength="224.1" lengthAdjust="spacingAndGlyphs">96.5 nm (28.9 pix)</text>
<text x="1756.5" y="186.9" font-size="24.10" text-anchor="end" fill="#0000ff" textLength="224.1" lengthAdjust="spacingAndGlyphs">72.5 nm (21.8 pix)</text>
<text x="1756.5" y="211.3" font-size="24.10" text-anchor="end" fill="#0000ff" textLength="239.5" lengthAdjust="spacingAndGlyphs">109.4 nm (32.8 pix)</text>
<text x="1756.5" y="235.4" font-size="24.10" text-anchor="end" fill="#0000ff" textLength="224.1" lengthAdjust="spacingAndGlyphs">70.3 nm (21.1 pix)</text>
<text x="1756.5" y="259.6" font-size="24.10" text-anchor="end" fill="#0000ff" textLength="239.5" lengthAdjust="spacingAndGlyphs">110.7 nm (33.2 pix)</text>
<text x="1756.5" y="284.3" font-size="24.10" text-anchor="end" fill="#0000ff" textLength="224.1" lengthAdjust="spacingAndGlyphs">73.3 nm (22.0 pix)</text>
<text x="1756.5" y="308.5" font-size="24.10" text-anchor="end" fill="#0000ff" textLength="239.5" lengthAdjust="spacingAndGlyphs">107.6 nm (32.3 pix)</text>
<text x="1756.5" y="332.9" font-size="24.10" text-anchor="end" fill="#0000ff" textLength="224.1" lengthAdjust="spacingAndGlyphs">74.3 nm (22.3 pix)</text>
<text x="1756.5" y="357.1" font-size="24.10" text-anchor="end" fill="#0000ff" textLength="239.5" lengthAdjust="spacingAndGlyphs">106.0 nm (31.8 pix)</text>
<text x="1756.5" y="382.1" font-size="24.10" text-anchor="end" fill="#0000ff" textLength="224.1" lengthAdjust="spacingAndGlyphs">80.6 nm (24.2 pix)</text>
<text x="1756.5" y="406.2" font-size="24.10" text-anchor="end" fill="#0000ff" textLength="224.1" lengthAdjust="spacingAndGlyphs">99.0 nm (29.7 pix)</text>
<text x="1756.5" y="430.6" font-size="24.10" text-anchor="end" fill="#0000ff" textLength="224.1" lengthAdjust="spacingAndGlyphs">83.1 nm (24.9 pix)</text>
<text x="1756.5" y="455.0" font-size="24.10" text-anchor="end" fill="#0000ff" textLength="224.1" lengthAdjust="spacingAndGlyphs">98.9 nm (29.7 pix)</text>
<text x="1756.5" y="514.7" font-size="24.10" text-anchor="end" fill="#0000ff" textLength="254.8" lengthAdjust="spacingAndGlyphs">345.9 nm (103.8 pix)</text>
<text x="1756.5" y="574.3" font-size="24.10" text-anchor="end" fill="#0000ff" textLength="224.1" lengthAdjust="spacingAndGlyphs">98.7 nm (29.6 pix)</text>
<text x="1756.5" y="598.0" font-size="24.10" text-anchor="end" fill="#0000ff" textLength="224.1" lengthAdjust="spacingAndGlyphs">77.9 nm (23.4 pix)</text>
<text x="1756.5" y="621.8" font-size="24.10" text-anchor="end" fill="#0000ff" textLength="239.5" lengthAdjust="spacingAndGlyphs">100.0 nm (30.0 pix)</text>
<text x="1756.5" y="645.4" font-size="24.10" text-anchor="end" fill="#0000ff" textLength="224.1" lengthAdjust="spacingAndGlyphs">75.5 nm (22.7 pix)</text>
<text x="1756.5" y="670.2" font-size="24.10" text-anchor="end" fill="#0000ff" textLength="239.5" lengthAdjust="spacingAndGlyphs">109.2 nm (32.8 pix)</text>
<text x="1756.5" y="695.0" font-size="24.10" text-anchor="end" fill="#0000ff" textLength="224.1" lengthAdjust="spacingAndGlyphs">76.1 nm (22.8 pix)</text>
<text x="1756.5" y="719.2" font-size="24.10" text-anchor="end" fill="#0000ff" textLength="239.5" lengthAdjust="spacingAndGlyphs">104.1 nm (31.2 pix)</text>
<text x="1756.5" y="743.6" font-size="24.10" text-anchor="end" fill="#0000ff" textLength="224.1" lengthAdjust="spacingAndGlyphs">78.6 nm (23.6 pix)</text>
<text x="1756.5" y="768.5" font-size="24.10" text-anchor="end" fill="#0000ff" textLength="239.5" lengthAdjust="spacingAndGlyphs">107.0 nm (32.1 pix)</text>
<text x="1756.5" y="793.6" font-size="24.10" text-anchor="end" fill="#0000ff" textLength="224.1" lengthAdjust="spacingAndGlyphs">79.5 nm (23.9 pix)</text>
<text x="1756.5" y="818.3" font-size="24.10" text-anchor="end" fill="#0000ff" textLength="239.5" lengthAdjust="spacingAndGlyphs">104.8 nm (31.4 pix)</text>
<text x="1756.5" y="842.8" font-size="24.10" text-anchor="end" fill="#0000ff" textLength="224.1" lengthAdjust="spacingAndGlyphs">78.4 nm (23.5 pix)</text>
<text x="1756.5" y="867.6" font-size="24.10" text-anchor="end" fill="#0000ff" textLength="239.5" lengthAdjust="spacingAndGlyphs">107.0 nm (32.1 pix)</text>
<text x="1756.5" y="892.0" font-size="24.10" text-anchor="end" fill="#0000ff" textLength="224.1" lengthAdjust="spacingAndGlyphs">74.4 nm (22.3 pix)</text>
<text x="1756.5" y="916.7" font-size="24.10" text-anchor="end" fill="#0000ff" textLength="239.5" lengthAdjust="spacingAndGlyphs">110.4 nm (33.1 pix)</text>
<text x="1756.5" y="941.7" font-size="24.10" text-anchor="end" fill="#0000ff" textLength="224.1" lengthAdjust="spacingAndGlyphs">76.1 nm (22.8 pix)</text>
<text x="1756.5" y="966.4" font-size="24.10" text-anchor="end" fill="#0000ff" textLength="239.5" lengthAdjust="spacingAndGlyphs">108.8 nm (32.6 pix)</text>
<text x="1756.5" y="991.3" font-size="24.10" text-anchor="end" fill="#0000ff" textLength="224.1" lengthAdjust="spacingAndGlyphs">76.8 nm (23.0 pix)</text>
<text x="1756.5" y="1016.0" font-size="24.10" text-anchor="end" fill="#0000ff" textLength="239.5" lengthAdjust="spacingAndGlyphs">107.4 nm (32.2 pix)</text>
</svg></body></html>
